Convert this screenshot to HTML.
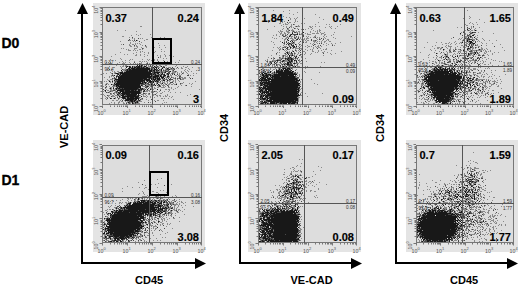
<!DOCTYPE html>
<html><head><meta charset="utf-8"><style>
*{margin:0;padding:0;box-sizing:border-box}
html,body{width:520px;height:286px;background:#fff;overflow:hidden;position:relative;font-family:"Liberation Sans",sans-serif}
div{position:absolute}
.outer{background:#e4e4e4}
.inner{background:#dddddd}
.frame{border:1px solid #777}
.vl{width:1px;background:#555}
.hl{height:1px;background:#555}
.box{border:2px solid #000}
.big{font-weight:bold;font-size:11px;line-height:11px;color:#000;-webkit-text-stroke:0.15px #000}
.sm{font-size:4.6px;line-height:5px;color:#333}
.r{text-align:right}
.lab{font-weight:bold;font-size:11px;line-height:11px;color:#000;white-space:nowrap}
.rot{transform:rotate(-90deg);transform-origin:0 0}
.day{font-weight:bold;font-size:14px;line-height:14px;-webkit-text-stroke:0.3px #000}
.vax{width:2px;background:#000}
.hax{height:2px;background:#000}
.sc{position:absolute;left:0;top:0}
.dots{filter:blur(0.4px)}
.tl{font-size:5.3px;fill:#555;font-family:"Liberation Sans",sans-serif}
</style></head>
<body>
<div class="outer" style="left:93px;top:2.5px;width:112px;height:112.5px"></div>
<div class="inner" style="left:102px;top:7.2px;width:100px;height:98.3px"></div>
<div class="outer" style="left:248px;top:2.5px;width:112.5px;height:112.5px"></div>
<div class="inner" style="left:258px;top:7.2px;width:99px;height:98.3px"></div>
<div class="outer" style="left:405.5px;top:2.5px;width:112px;height:112.5px"></div>
<div class="inner" style="left:416px;top:7.2px;width:98px;height:98.3px"></div>
<div class="outer" style="left:93px;top:140px;width:112px;height:112px"></div>
<div class="inner" style="left:102px;top:144.5px;width:100px;height:98.5px"></div>
<div class="outer" style="left:248px;top:140px;width:113px;height:112px"></div>
<div class="inner" style="left:258px;top:144.5px;width:99px;height:98.5px"></div>
<div class="outer" style="left:405.5px;top:140px;width:112px;height:112px"></div>
<div class="inner" style="left:416px;top:144.5px;width:98px;height:98.5px"></div>
<svg class="sc dots" width="520" height="286" fill="none" stroke-width="1"><path d="M103 73.5h1M103 86.5h1M103 91.5h1M103 94.5h1M104 77.5h1M104 81.5h1M104 90.5h1M104 95.5h1M105 84.5h1M105 85.5h1M105 88.5h1M105 96.5h1M105 98.5h1M106 62.5h1M106 73.5h1M106 81.5h1M106 83.5h1M106 87.5h1M106 89.5h1M106 97.5h1M106 99.5h1M107 69.5h1M107 79.5h1M107 83.5h1M107 90.5h1M107 92.5h1M107 97.5h1M108 62.5h1M108 80.5h1M108 84.5h1M108 90.5h1M108 95.5h1M108 96.5h1M109 66.5h1M109 76.5h1M109 77.5h1M109 80.5h1M109 86.5h1M109 88.5h1M109 91.5h1M109 92.5h1M109 95.5h1M109 97.5h1M109 103.5h1M110 59.5h1M110 62.5h1M110 63.5h1M110 72.5h1M110 79.5h1M110 81.5h1M110 82.5h1M110 87.5h1M110 89.5h1M110 90.5h1M110 94.5h1M111 56.5h1M111 63.5h1M111 69.5h1M111 70.5h1M111 73.5h1M111 75.5h1M111 76.5h1M111 79.5h1M111 87.5h1M111 88.5h1M111 89.5h1M111 90.5h1M111 91.5h1M111 93.5h1M111 94.5h1M111 102.5h1M112 71.5h1M112 74.5h1M112 79.5h1M112 80.5h1M112 82.5h1M112 84.5h1M112 86.5h1M112 90.5h1M112 91.5h1M112 95.5h1M112 96.5h1M112 100.5h1M113 67.5h1M113 75.5h1M113 76.5h1M113 78.5h1M113 84.5h1M113 86.5h1M113 89.5h1M113 95.5h1M113 96.5h1M113 98.5h1M113 100.5h1M114 64.5h1M114 67.5h1M114 71.5h1M114 72.5h1M114 73.5h1M114 79.5h1M114 81.5h1M114 82.5h1M114 86.5h1M114 89.5h1M114 92.5h1M114 93.5h1M114 94.5h1M114 96.5h1M114 102.5h1M114 103.5h1M115 54.5h1M115 60.5h1M115 64.5h1M115 72.5h1M115 80.5h1M115 83.5h1M115 85.5h1M115 86.5h1M115 89.5h1M115 90.5h1M115 91.5h1M115 92.5h1M115 95.5h1M115 97.5h1M115 98.5h1M116 65.5h1M116 75.5h1M116 78.5h1M116 82.5h1M116 87.5h1M116 93.5h1M116 95.5h1M116 100.5h1M117 30.5h1M117 63.5h1M117 71.5h1M117 89.5h1M117 92.5h1M117 93.5h1M117 95.5h1M117 96.5h1M117 100.5h1M118 71.5h1M118 72.5h1M118 87.5h1M118 99.5h1M118 102.5h1M118 103.5h1M119 62.5h1M119 73.5h1M119 74.5h1M119 91.5h1M119 94.5h1M119 95.5h1M119 97.5h1M119 98.5h1M119 101.5h1M119 102.5h1M120 41.5h1M120 52.5h1M120 58.5h1M120 66.5h1M120 93.5h1M120 95.5h1M120 96.5h1M120 97.5h1M120 100.5h1M121 44.5h1M121 48.5h1M121 59.5h1M121 67.5h1M121 68.5h1M121 71.5h1M121 74.5h1M121 94.5h1M121 99.5h1M121 101.5h1M122 36.5h1M122 61.5h1M122 63.5h1M122 66.5h1M122 101.5h1M123 36.5h1M123 48.5h1M123 62.5h1M123 63.5h1M123 65.5h1M123 66.5h1M123 69.5h1M123 70.5h1M123 72.5h1M123 99.5h1M123 102.5h1M123 103.5h1M124 54.5h1M124 63.5h1M124 69.5h1M124 70.5h1M124 71.5h1M124 95.5h1M124 100.5h1M124 103.5h1M125 30.5h1M125 60.5h1M125 62.5h1M125 65.5h1M125 66.5h1M125 68.5h1M125 69.5h1M125 71.5h1M125 101.5h1M126 49.5h1M126 65.5h1M126 97.5h1M126 98.5h1M126 102.5h1M127 54.5h1M127 64.5h1M127 101.5h1M127 102.5h1M128 49.5h1M128 50.5h1M128 66.5h1M128 101.5h1M128 103.5h1M129 37.5h1M129 40.5h1M129 44.5h1M129 45.5h1M129 50.5h1M129 60.5h1M129 62.5h1M130 40.5h1M130 42.5h1M130 43.5h1M130 45.5h1M130 46.5h1M130 50.5h1M130 59.5h1M130 63.5h1M130 68.5h1M130 102.5h1M130 103.5h1M131 35.5h1M131 46.5h1M131 67.5h1M131 102.5h1M132 38.5h1M132 40.5h1M132 44.5h1M132 59.5h1M132 64.5h1M133 41.5h1M133 44.5h1M133 50.5h1M133 53.5h1M133 63.5h1M133 66.5h1M133 67.5h1M133 102.5h1M134 38.5h1M134 39.5h1M134 46.5h1M134 48.5h1M134 49.5h1M134 61.5h1M134 64.5h1M134 102.5h1M134 103.5h1M135 41.5h1M135 43.5h1M135 44.5h1M135 48.5h1M135 50.5h1M135 55.5h1M135 63.5h1M135 64.5h1M135 66.5h1M135 101.5h1M136 31.5h1M136 34.5h1M136 45.5h1M136 46.5h1M136 48.5h1M136 52.5h1M136 54.5h1M136 55.5h1M136 64.5h1M136 100.5h1M136 103.5h1M137 40.5h1M137 43.5h1M137 46.5h1M137 47.5h1M137 50.5h1M137 63.5h1M137 64.5h1M137 90.5h1M137 100.5h1M137 103.5h1M138 35.5h1M138 64.5h1M138 101.5h1M138 102.5h1M138 103.5h1M139 43.5h1M139 49.5h1M139 61.5h1M139 88.5h1M139 98.5h1M139 101.5h1M139 103.5h1M140 26.5h1M140 34.5h1M140 38.5h1M140 44.5h1M140 49.5h1M140 51.5h1M140 52.5h1M140 54.5h1M140 55.5h1M140 61.5h1M140 63.5h1M140 65.5h1M140 84.5h1M140 85.5h1M140 91.5h1M140 95.5h1M140 97.5h1M140 100.5h1M140 101.5h1M141 26.5h1M141 42.5h1M141 47.5h1M141 62.5h1M141 63.5h1M141 82.5h1M141 91.5h1M141 92.5h1M141 94.5h1M141 98.5h1M141 99.5h1M141 101.5h1M142 38.5h1M142 45.5h1M142 49.5h1M142 51.5h1M142 59.5h1M142 61.5h1M142 66.5h1M142 86.5h1M142 94.5h1M142 99.5h1M143 48.5h1M143 64.5h1M143 66.5h1M143 86.5h1M143 88.5h1M143 90.5h1M143 92.5h1M143 94.5h1M143 95.5h1M143 96.5h1M144 40.5h1M144 52.5h1M144 54.5h1M144 56.5h1M144 61.5h1M144 64.5h1M144 65.5h1M144 83.5h1M144 86.5h1M144 88.5h1M144 89.5h1M144 96.5h1M144 102.5h1M145 46.5h1M145 64.5h1M145 67.5h1M145 80.5h1M145 84.5h1M145 86.5h1M145 91.5h1M145 93.5h1M145 94.5h1M145 96.5h1M146 39.5h1M146 46.5h1M146 47.5h1M146 61.5h1M146 63.5h1M146 66.5h1M146 81.5h1M146 83.5h1M146 84.5h1M146 85.5h1M146 88.5h1M146 90.5h1M146 91.5h1M146 93.5h1M146 95.5h1M146 97.5h1M146 99.5h1M147 39.5h1M147 55.5h1M147 59.5h1M147 62.5h1M147 64.5h1M147 78.5h1M147 84.5h1M147 85.5h1M147 87.5h1M147 90.5h1M147 91.5h1M147 96.5h1M148 52.5h1M148 53.5h1M148 60.5h1M148 64.5h1M148 65.5h1M148 66.5h1M148 67.5h1M148 70.5h1M148 81.5h1M148 85.5h1M148 90.5h1M148 93.5h1M148 94.5h1M148 100.5h1M149 59.5h1M149 63.5h1M149 66.5h1M149 67.5h1M149 85.5h1M149 87.5h1M149 90.5h1M149 91.5h1M149 94.5h1M150 34.5h1M150 64.5h1M150 68.5h1M150 69.5h1M150 75.5h1M150 83.5h1M150 84.5h1M150 85.5h1M150 86.5h1M150 88.5h1M150 96.5h1M150 97.5h1M150 102.5h1M151 37.5h1M151 60.5h1M151 66.5h1M151 87.5h1M151 88.5h1M151 89.5h1M151 91.5h1M151 92.5h1M152 48.5h1M152 60.5h1M152 66.5h1M152 70.5h1M152 79.5h1M152 91.5h1M152 100.5h1M153 51.5h1M153 64.5h1M153 65.5h1M153 68.5h1M153 69.5h1M153 75.5h1M153 80.5h1M153 84.5h1M153 89.5h1M153 91.5h1M153 92.5h1M153 94.5h1M153 95.5h1M154 47.5h1M154 52.5h1M154 59.5h1M154 60.5h1M154 63.5h1M154 67.5h1M154 78.5h1M154 81.5h1M154 83.5h1M154 85.5h1M154 87.5h1M154 88.5h1M154 94.5h1M154 97.5h1M154 100.5h1M155 39.5h1M155 51.5h1M155 66.5h1M155 70.5h1M155 71.5h1M155 80.5h1M155 88.5h1M155 91.5h1M156 64.5h1M156 66.5h1M156 73.5h1M156 74.5h1M156 79.5h1M156 82.5h1M156 83.5h1M156 84.5h1M156 91.5h1M156 93.5h1M156 95.5h1M157 55.5h1M157 59.5h1M157 60.5h1M157 62.5h1M157 67.5h1M157 74.5h1M157 87.5h1M157 92.5h1M157 95.5h1M157 96.5h1M157 100.5h1M158 43.5h1M158 66.5h1M158 67.5h1M158 71.5h1M158 77.5h1M158 82.5h1M158 85.5h1M158 86.5h1M158 87.5h1M158 100.5h1M159 45.5h1M159 47.5h1M159 65.5h1M159 67.5h1M159 70.5h1M159 71.5h1M159 75.5h1M159 76.5h1M159 82.5h1M159 84.5h1M159 91.5h1M159 95.5h1M160 37.5h1M160 55.5h1M160 56.5h1M160 57.5h1M160 63.5h1M160 65.5h1M160 66.5h1M160 69.5h1M160 70.5h1M160 71.5h1M160 72.5h1M160 73.5h1M160 74.5h1M160 78.5h1M160 82.5h1M160 83.5h1M160 85.5h1M160 89.5h1M160 93.5h1M160 95.5h1M160 96.5h1M161 39.5h1M161 49.5h1M161 51.5h1M161 64.5h1M161 68.5h1M161 73.5h1M161 78.5h1M161 80.5h1M161 83.5h1M161 84.5h1M161 87.5h1M161 93.5h1M161 98.5h1M162 62.5h1M162 64.5h1M162 71.5h1M162 76.5h1M162 79.5h1M162 80.5h1M162 81.5h1M162 82.5h1M162 85.5h1M162 87.5h1M162 92.5h1M162 98.5h1M162 103.5h1M163 58.5h1M163 60.5h1M163 69.5h1M163 71.5h1M163 72.5h1M163 78.5h1M163 82.5h1M163 84.5h1M163 85.5h1M163 86.5h1M163 87.5h1M163 96.5h1M163 100.5h1M164 37.5h1M164 45.5h1M164 51.5h1M164 54.5h1M164 66.5h1M164 70.5h1M164 71.5h1M164 73.5h1M164 79.5h1M164 81.5h1M164 82.5h1M164 83.5h1M164 85.5h1M164 87.5h1M164 91.5h1M164 98.5h1M164 102.5h1M165 47.5h1M165 55.5h1M165 56.5h1M165 65.5h1M165 68.5h1M165 69.5h1M165 76.5h1M165 77.5h1M165 79.5h1M165 83.5h1M165 84.5h1M165 86.5h1M165 89.5h1M165 95.5h1M165 96.5h1M166 58.5h1M166 65.5h1M166 67.5h1M166 68.5h1M166 70.5h1M166 73.5h1M166 74.5h1M166 77.5h1M166 78.5h1M166 81.5h1M166 89.5h1M166 96.5h1M166 102.5h1M167 61.5h1M167 70.5h1M167 75.5h1M167 79.5h1M167 81.5h1M167 82.5h1M167 83.5h1M167 94.5h1M167 95.5h1M168 64.5h1M168 67.5h1M168 71.5h1M168 77.5h1M168 80.5h1M168 84.5h1M168 85.5h1M168 87.5h1M168 89.5h1M168 91.5h1M168 98.5h1M169 55.5h1M169 62.5h1M169 64.5h1M169 67.5h1M169 76.5h1M169 77.5h1M169 80.5h1M169 81.5h1M169 83.5h1M169 84.5h1M169 87.5h1M169 89.5h1M169 90.5h1M169 96.5h1M170 54.5h1M170 67.5h1M170 68.5h1M170 69.5h1M170 74.5h1M170 75.5h1M170 80.5h1M170 83.5h1M170 92.5h1M171 69.5h1M171 73.5h1M171 75.5h1M171 76.5h1M171 84.5h1M171 87.5h1M171 88.5h1M171 97.5h1M172 68.5h1M172 69.5h1M172 70.5h1M172 71.5h1M172 72.5h1M172 77.5h1M172 81.5h1M172 84.5h1M172 96.5h1M173 56.5h1M173 69.5h1M173 71.5h1M173 72.5h1M173 73.5h1M173 77.5h1M173 78.5h1M173 80.5h1M173 81.5h1M173 83.5h1M173 89.5h1M173 99.5h1M174 68.5h1M174 71.5h1M174 72.5h1M174 73.5h1M174 78.5h1M174 84.5h1M175 62.5h1M175 66.5h1M175 72.5h1M175 75.5h1M175 77.5h1M175 79.5h1M175 80.5h1M175 81.5h1M175 82.5h1M175 84.5h1M175 88.5h1M175 92.5h1M176 65.5h1M176 68.5h1M176 71.5h1M176 75.5h1M176 83.5h1M177 72.5h1M177 73.5h1M177 76.5h1M177 79.5h1M177 87.5h1M178 62.5h1M178 68.5h1M178 75.5h1M178 78.5h1M178 80.5h1M178 86.5h1M179 60.5h1M179 73.5h1M179 74.5h1M179 75.5h1M179 81.5h1M180 75.5h1M180 77.5h1M180 84.5h1M180 92.5h1M181 67.5h1M181 68.5h1M181 71.5h1M181 72.5h1M181 74.5h1M181 77.5h1M181 79.5h1M181 83.5h1M181 85.5h1M182 68.5h1M182 77.5h1M182 78.5h1M182 79.5h1M182 83.5h1M183 66.5h1M183 72.5h1M183 73.5h1M183 78.5h1M183 79.5h1M183 82.5h1M184 70.5h1M184 77.5h1M184 78.5h1M185 67.5h1M185 69.5h1M185 71.5h1M185 77.5h1M185 78.5h1M185 85.5h1M186 67.5h1M186 72.5h1M187 66.5h1M187 70.5h1M187 73.5h1M187 95.5h1M188 68.5h1M188 71.5h1M188 74.5h1M189 69.5h1M189 77.5h1M189 83.5h1M190 75.5h1M190 94.5h1M191 71.5h1M191 84.5h1M191 86.5h1M192 67.5h1M192 83.5h1M193 73.5h1M193 75.5h1M195 81.5h1M196 70.5h1M196 73.5h1M199 89.5h1M259 71.5h1M259 72.5h1M259 76.5h1M259 77.5h1M259 81.5h1M259 82.5h1M259 83.5h1M259 84.5h1M259 86.5h1M259 90.5h1M259 102.5h1M260 72.5h1M260 75.5h1M260 79.5h1M260 81.5h1M260 86.5h1M260 102.5h1M261 71.5h1M261 72.5h1M261 74.5h1M261 75.5h1M261 76.5h1M261 88.5h1M261 92.5h1M261 100.5h1M262 68.5h1M262 72.5h1M262 76.5h1M262 81.5h1M262 87.5h1M262 100.5h1M263 68.5h1M263 71.5h1M263 83.5h1M263 85.5h1M263 90.5h1M263 93.5h1M263 94.5h1M263 100.5h1M264 67.5h1M264 70.5h1M264 71.5h1M264 72.5h1M264 74.5h1M264 89.5h1M264 90.5h1M264 94.5h1M264 97.5h1M264 100.5h1M264 103.5h1M265 60.5h1M265 72.5h1M265 100.5h1M266 61.5h1M266 67.5h1M266 69.5h1M266 70.5h1M266 87.5h1M266 94.5h1M266 98.5h1M266 103.5h1M267 29.5h1M267 59.5h1M267 60.5h1M267 62.5h1M267 67.5h1M267 73.5h1M267 81.5h1M267 102.5h1M268 22.5h1M268 57.5h1M268 71.5h1M268 73.5h1M268 77.5h1M268 97.5h1M268 102.5h1M269 61.5h1M269 62.5h1M269 63.5h1M269 65.5h1M269 70.5h1M269 72.5h1M269 73.5h1M269 92.5h1M269 103.5h1M270 63.5h1M270 68.5h1M270 69.5h1M270 77.5h1M271 41.5h1M271 55.5h1M271 61.5h1M271 71.5h1M271 73.5h1M271 74.5h1M271 76.5h1M271 78.5h1M272 37.5h1M272 50.5h1M272 60.5h1M272 64.5h1M272 65.5h1M272 66.5h1M272 70.5h1M272 72.5h1M272 74.5h1M272 100.5h1M273 10.5h1M273 35.5h1M273 42.5h1M273 47.5h1M273 57.5h1M273 58.5h1M273 59.5h1M273 60.5h1M273 61.5h1M273 64.5h1M273 67.5h1M273 69.5h1M273 72.5h1M273 73.5h1M274 26.5h1M274 38.5h1M274 44.5h1M274 60.5h1M274 61.5h1M274 63.5h1M274 65.5h1M274 66.5h1M274 67.5h1M274 69.5h1M275 60.5h1M275 66.5h1M275 68.5h1M275 72.5h1M275 73.5h1M276 34.5h1M276 35.5h1M276 38.5h1M276 54.5h1M276 63.5h1M276 67.5h1M277 47.5h1M277 52.5h1M277 59.5h1M277 62.5h1M277 64.5h1M277 65.5h1M277 66.5h1M277 67.5h1M277 73.5h1M277 103.5h1M278 31.5h1M278 48.5h1M278 59.5h1M278 64.5h1M278 67.5h1M278 68.5h1M278 69.5h1M278 103.5h1M279 23.5h1M279 32.5h1M279 36.5h1M279 47.5h1M279 49.5h1M279 50.5h1M279 52.5h1M279 55.5h1M279 58.5h1M279 59.5h1M279 62.5h1M279 64.5h1M279 65.5h1M279 67.5h1M280 22.5h1M280 23.5h1M280 30.5h1M280 31.5h1M280 33.5h1M280 34.5h1M280 41.5h1M280 46.5h1M280 48.5h1M280 49.5h1M280 57.5h1M280 58.5h1M280 59.5h1M280 61.5h1M280 63.5h1M280 67.5h1M280 68.5h1M280 69.5h1M281 15.5h1M281 25.5h1M281 31.5h1M281 32.5h1M281 33.5h1M281 58.5h1M281 61.5h1M281 63.5h1M281 64.5h1M282 21.5h1M282 22.5h1M282 29.5h1M282 31.5h1M282 34.5h1M282 38.5h1M282 47.5h1M282 48.5h1M282 49.5h1M282 55.5h1M282 56.5h1M282 57.5h1M282 60.5h1M282 62.5h1M282 65.5h1M282 67.5h1M282 69.5h1M283 11.5h1M283 16.5h1M283 24.5h1M283 26.5h1M283 28.5h1M283 34.5h1M283 35.5h1M283 43.5h1M283 45.5h1M283 57.5h1M283 58.5h1M283 63.5h1M283 64.5h1M283 70.5h1M283 71.5h1M284 21.5h1M284 32.5h1M284 33.5h1M284 39.5h1M284 40.5h1M284 41.5h1M284 44.5h1M284 46.5h1M284 47.5h1M284 50.5h1M284 53.5h1M284 55.5h1M284 58.5h1M284 61.5h1M284 62.5h1M284 63.5h1M284 65.5h1M284 66.5h1M285 23.5h1M285 24.5h1M285 33.5h1M285 34.5h1M285 36.5h1M285 38.5h1M285 39.5h1M285 46.5h1M285 49.5h1M285 51.5h1M285 54.5h1M285 55.5h1M285 56.5h1M285 57.5h1M285 60.5h1M285 61.5h1M285 64.5h1M285 65.5h1M285 66.5h1M285 67.5h1M286 17.5h1M286 24.5h1M286 26.5h1M286 27.5h1M286 30.5h1M286 31.5h1M286 35.5h1M286 37.5h1M286 38.5h1M286 46.5h1M286 50.5h1M286 54.5h1M286 56.5h1M286 59.5h1M286 60.5h1M286 61.5h1M286 63.5h1M286 67.5h1M286 68.5h1M287 24.5h1M287 29.5h1M287 31.5h1M287 32.5h1M287 36.5h1M287 37.5h1M287 40.5h1M287 51.5h1M287 55.5h1M287 56.5h1M287 57.5h1M287 60.5h1M287 61.5h1M288 23.5h1M288 28.5h1M288 29.5h1M288 30.5h1M288 31.5h1M288 32.5h1M288 33.5h1M288 37.5h1M288 43.5h1M288 45.5h1M288 47.5h1M288 49.5h1M288 52.5h1M288 53.5h1M288 61.5h1M288 66.5h1M288 67.5h1M289 10.5h1M289 13.5h1M289 17.5h1M289 22.5h1M289 32.5h1M289 35.5h1M289 44.5h1M289 45.5h1M289 49.5h1M289 51.5h1M289 52.5h1M289 53.5h1M289 63.5h1M289 70.5h1M290 18.5h1M290 19.5h1M290 22.5h1M290 26.5h1M290 36.5h1M290 38.5h1M290 44.5h1M290 46.5h1M290 53.5h1M290 54.5h1M290 55.5h1M290 60.5h1M290 66.5h1M290 67.5h1M290 68.5h1M291 24.5h1M291 25.5h1M291 26.5h1M291 27.5h1M291 30.5h1M291 36.5h1M291 37.5h1M291 38.5h1M291 42.5h1M291 43.5h1M291 47.5h1M291 54.5h1M291 56.5h1M291 57.5h1M291 62.5h1M291 71.5h1M292 29.5h1M292 30.5h1M292 31.5h1M292 34.5h1M292 36.5h1M292 38.5h1M292 39.5h1M292 40.5h1M292 42.5h1M292 48.5h1M292 50.5h1M292 51.5h1M292 62.5h1M292 64.5h1M292 66.5h1M292 68.5h1M292 69.5h1M293 14.5h1M293 27.5h1M293 30.5h1M293 39.5h1M293 40.5h1M293 43.5h1M293 44.5h1M293 48.5h1M293 55.5h1M293 57.5h1M293 58.5h1M293 67.5h1M293 72.5h1M294 18.5h1M294 22.5h1M294 24.5h1M294 31.5h1M294 36.5h1M294 38.5h1M294 40.5h1M294 41.5h1M294 42.5h1M294 43.5h1M294 52.5h1M294 54.5h1M294 55.5h1M294 58.5h1M294 61.5h1M294 62.5h1M294 64.5h1M294 65.5h1M294 66.5h1M294 72.5h1M295 19.5h1M295 20.5h1M295 21.5h1M295 26.5h1M295 28.5h1M295 35.5h1M295 37.5h1M295 40.5h1M295 47.5h1M295 48.5h1M295 49.5h1M295 53.5h1M295 56.5h1M295 59.5h1M295 103.5h1M296 18.5h1M296 31.5h1M296 32.5h1M296 37.5h1M296 40.5h1M296 44.5h1M296 45.5h1M296 47.5h1M296 48.5h1M296 50.5h1M296 51.5h1M296 55.5h1M296 57.5h1M296 58.5h1M296 63.5h1M296 65.5h1M296 67.5h1M296 69.5h1M296 73.5h1M296 76.5h1M296 77.5h1M296 101.5h1M296 103.5h1M297 12.5h1M297 17.5h1M297 21.5h1M297 26.5h1M297 28.5h1M297 32.5h1M297 38.5h1M297 48.5h1M297 54.5h1M297 59.5h1M297 62.5h1M297 63.5h1M297 65.5h1M297 66.5h1M297 72.5h1M297 73.5h1M297 75.5h1M297 90.5h1M297 97.5h1M298 25.5h1M298 26.5h1M298 31.5h1M298 36.5h1M298 43.5h1M298 46.5h1M298 48.5h1M298 50.5h1M298 52.5h1M298 53.5h1M298 63.5h1M298 66.5h1M298 67.5h1M298 78.5h1M298 82.5h1M298 86.5h1M298 93.5h1M298 96.5h1M298 97.5h1M298 98.5h1M298 99.5h1M298 100.5h1M298 101.5h1M299 26.5h1M299 31.5h1M299 32.5h1M299 33.5h1M299 42.5h1M299 45.5h1M299 48.5h1M299 51.5h1M299 59.5h1M299 60.5h1M299 61.5h1M299 62.5h1M299 66.5h1M299 74.5h1M299 75.5h1M299 76.5h1M299 84.5h1M299 86.5h1M299 89.5h1M299 91.5h1M299 97.5h1M300 34.5h1M300 37.5h1M300 38.5h1M300 44.5h1M300 46.5h1M300 48.5h1M300 55.5h1M300 61.5h1M300 63.5h1M300 81.5h1M300 82.5h1M300 84.5h1M300 89.5h1M300 93.5h1M300 95.5h1M301 23.5h1M301 29.5h1M301 33.5h1M301 34.5h1M301 39.5h1M301 45.5h1M301 48.5h1M301 49.5h1M301 54.5h1M301 56.5h1M301 57.5h1M301 63.5h1M301 79.5h1M301 88.5h1M301 92.5h1M301 95.5h1M302 27.5h1M302 28.5h1M302 30.5h1M302 36.5h1M302 37.5h1M302 41.5h1M302 42.5h1M302 44.5h1M302 54.5h1M302 57.5h1M302 59.5h1M302 97.5h1M303 34.5h1M303 39.5h1M303 40.5h1M303 41.5h1M303 51.5h1M304 18.5h1M304 23.5h1M304 38.5h1M304 39.5h1M304 51.5h1M304 54.5h1M304 71.5h1M305 29.5h1M305 33.5h1M305 40.5h1M305 42.5h1M305 46.5h1M305 49.5h1M305 52.5h1M305 53.5h1M305 58.5h1M305 66.5h1M305 68.5h1M305 72.5h1M305 93.5h1M306 36.5h1M306 38.5h1M306 39.5h1M306 41.5h1M306 42.5h1M306 61.5h1M307 33.5h1M307 34.5h1M307 37.5h1M307 38.5h1M307 40.5h1M307 45.5h1M307 47.5h1M307 50.5h1M307 66.5h1M307 96.5h1M308 28.5h1M308 34.5h1M308 36.5h1M308 38.5h1M308 40.5h1M308 46.5h1M309 26.5h1M309 34.5h1M309 46.5h1M310 26.5h1M310 27.5h1M310 31.5h1M310 32.5h1M310 34.5h1M310 37.5h1M310 43.5h1M310 49.5h1M310 54.5h1M311 27.5h1M311 29.5h1M311 46.5h1M311 53.5h1M311 79.5h1M312 26.5h1M312 28.5h1M312 33.5h1M312 44.5h1M312 49.5h1M312 50.5h1M312 51.5h1M313 30.5h1M313 33.5h1M313 37.5h1M313 40.5h1M313 41.5h1M313 43.5h1M313 47.5h1M313 48.5h1M313 51.5h1M314 33.5h1M314 36.5h1M314 37.5h1M314 40.5h1M314 41.5h1M314 42.5h1M314 83.5h1M315 14.5h1M315 24.5h1M315 26.5h1M315 31.5h1M315 35.5h1M315 36.5h1M315 41.5h1M315 44.5h1M315 46.5h1M315 52.5h1M316 33.5h1M316 38.5h1M316 40.5h1M316 42.5h1M316 47.5h1M317 30.5h1M317 31.5h1M317 32.5h1M317 33.5h1M317 37.5h1M317 39.5h1M317 41.5h1M317 43.5h1M317 46.5h1M317 52.5h1M317 84.5h1M318 22.5h1M318 33.5h1M318 45.5h1M318 46.5h1M318 47.5h1M318 50.5h1M318 51.5h1M319 17.5h1M319 26.5h1M319 29.5h1M319 30.5h1M319 31.5h1M319 37.5h1M319 38.5h1M319 41.5h1M319 47.5h1M319 72.5h1M320 30.5h1M320 32.5h1M320 39.5h1M320 48.5h1M320 66.5h1M321 33.5h1M321 34.5h1M321 41.5h1M321 42.5h1M321 46.5h1M321 50.5h1M321 62.5h1M322 33.5h1M322 40.5h1M322 52.5h1M322 93.5h1M323 19.5h1M323 33.5h1M323 36.5h1M323 38.5h1M323 44.5h1M323 49.5h1M323 52.5h1M323 55.5h1M324 32.5h1M324 34.5h1M324 35.5h1M324 37.5h1M324 41.5h1M324 42.5h1M324 51.5h1M324 62.5h1M325 27.5h1M325 34.5h1M325 38.5h1M325 41.5h1M325 49.5h1M326 24.5h1M326 36.5h1M326 40.5h1M326 43.5h1M326 45.5h1M326 48.5h1M326 49.5h1M327 39.5h1M327 52.5h1M328 39.5h1M328 40.5h1M328 44.5h1M329 24.5h1M329 26.5h1M329 41.5h1M330 27.5h1M330 41.5h1M330 53.5h1M331 26.5h1M331 28.5h1M331 35.5h1M331 43.5h1M331 50.5h1M331 54.5h1M332 44.5h1M333 34.5h1M333 37.5h1M334 32.5h1M334 45.5h1M335 28.5h1M335 38.5h1M335 43.5h1M335 53.5h1M337 26.5h1M340 24.5h1M340 42.5h1M341 51.5h1M351 36.5h1M417 72.5h1M417 76.5h1M417 77.5h1M417 82.5h1M417 83.5h1M417 90.5h1M417 102.5h1M418 62.5h1M418 70.5h1M418 77.5h1M418 79.5h1M418 81.5h1M418 90.5h1M418 92.5h1M419 70.5h1M419 72.5h1M419 76.5h1M419 79.5h1M419 80.5h1M419 83.5h1M419 89.5h1M419 96.5h1M419 98.5h1M420 52.5h1M420 61.5h1M420 73.5h1M420 74.5h1M420 77.5h1M420 81.5h1M420 90.5h1M420 95.5h1M421 61.5h1M421 79.5h1M421 83.5h1M421 84.5h1M421 85.5h1M421 87.5h1M421 88.5h1M421 96.5h1M421 99.5h1M421 102.5h1M422 63.5h1M422 75.5h1M422 76.5h1M422 80.5h1M422 81.5h1M422 82.5h1M422 84.5h1M422 85.5h1M422 87.5h1M422 89.5h1M422 92.5h1M422 95.5h1M422 98.5h1M423 59.5h1M423 71.5h1M423 73.5h1M423 75.5h1M423 76.5h1M423 82.5h1M423 83.5h1M423 84.5h1M423 88.5h1M423 93.5h1M423 94.5h1M423 97.5h1M423 102.5h1M423 103.5h1M424 47.5h1M424 66.5h1M424 67.5h1M424 69.5h1M424 71.5h1M424 72.5h1M424 73.5h1M424 75.5h1M424 80.5h1M424 82.5h1M424 85.5h1M424 95.5h1M424 98.5h1M424 99.5h1M424 103.5h1M425 68.5h1M425 70.5h1M425 71.5h1M425 72.5h1M425 76.5h1M425 80.5h1M425 84.5h1M425 85.5h1M425 86.5h1M425 93.5h1M425 99.5h1M426 65.5h1M426 70.5h1M426 73.5h1M426 74.5h1M426 85.5h1M426 90.5h1M426 97.5h1M426 99.5h1M426 102.5h1M427 42.5h1M427 63.5h1M427 66.5h1M427 67.5h1M427 71.5h1M427 72.5h1M427 73.5h1M427 75.5h1M427 85.5h1M427 87.5h1M427 90.5h1M427 94.5h1M427 97.5h1M427 99.5h1M427 100.5h1M428 55.5h1M428 57.5h1M428 71.5h1M428 72.5h1M428 73.5h1M428 89.5h1M428 94.5h1M428 99.5h1M428 101.5h1M428 103.5h1M429 54.5h1M429 60.5h1M429 62.5h1M429 65.5h1M429 72.5h1M429 75.5h1M429 86.5h1M429 91.5h1M429 94.5h1M429 95.5h1M429 97.5h1M429 101.5h1M430 49.5h1M430 67.5h1M430 94.5h1M430 95.5h1M430 99.5h1M430 100.5h1M431 50.5h1M431 67.5h1M431 69.5h1M431 92.5h1M431 93.5h1M431 97.5h1M432 46.5h1M432 61.5h1M432 65.5h1M432 66.5h1M432 68.5h1M432 69.5h1M432 70.5h1M432 93.5h1M432 95.5h1M432 96.5h1M432 97.5h1M432 99.5h1M432 100.5h1M433 30.5h1M433 57.5h1M433 61.5h1M433 63.5h1M433 68.5h1M433 71.5h1M433 99.5h1M433 103.5h1M434 48.5h1M434 52.5h1M434 64.5h1M434 66.5h1M434 67.5h1M434 99.5h1M434 100.5h1M434 103.5h1M435 45.5h1M435 50.5h1M435 59.5h1M435 61.5h1M435 62.5h1M435 68.5h1M435 101.5h1M435 102.5h1M436 42.5h1M436 57.5h1M436 58.5h1M436 62.5h1M436 63.5h1M436 65.5h1M437 47.5h1M437 48.5h1M437 53.5h1M437 56.5h1M437 59.5h1M437 102.5h1M438 47.5h1M438 48.5h1M438 64.5h1M438 65.5h1M438 103.5h1M439 47.5h1M439 51.5h1M439 57.5h1M439 60.5h1M439 61.5h1M439 62.5h1M439 63.5h1M439 65.5h1M439 66.5h1M440 48.5h1M440 49.5h1M440 53.5h1M440 57.5h1M440 60.5h1M441 42.5h1M441 47.5h1M441 48.5h1M441 57.5h1M441 58.5h1M441 62.5h1M441 63.5h1M441 65.5h1M441 66.5h1M441 68.5h1M441 103.5h1M442 44.5h1M442 55.5h1M442 60.5h1M442 62.5h1M442 63.5h1M442 67.5h1M443 50.5h1M443 52.5h1M443 59.5h1M443 63.5h1M443 65.5h1M443 70.5h1M444 49.5h1M444 53.5h1M444 54.5h1M444 56.5h1M444 62.5h1M444 64.5h1M444 66.5h1M444 68.5h1M445 43.5h1M445 46.5h1M445 55.5h1M445 56.5h1M445 57.5h1M445 63.5h1M445 66.5h1M446 43.5h1M446 45.5h1M446 47.5h1M446 51.5h1M446 54.5h1M446 55.5h1M446 57.5h1M446 67.5h1M447 48.5h1M447 52.5h1M447 53.5h1M447 54.5h1M447 55.5h1M447 57.5h1M447 59.5h1M447 60.5h1M447 64.5h1M447 102.5h1M448 43.5h1M448 45.5h1M448 46.5h1M448 58.5h1M448 59.5h1M448 61.5h1M448 64.5h1M448 65.5h1M448 66.5h1M448 69.5h1M448 102.5h1M448 103.5h1M449 42.5h1M449 46.5h1M449 49.5h1M449 51.5h1M449 52.5h1M449 58.5h1M449 59.5h1M449 60.5h1M449 62.5h1M449 65.5h1M449 103.5h1M450 44.5h1M450 46.5h1M450 47.5h1M450 48.5h1M450 49.5h1M450 50.5h1M450 52.5h1M450 55.5h1M450 59.5h1M450 60.5h1M450 62.5h1M450 64.5h1M450 96.5h1M451 38.5h1M451 43.5h1M451 46.5h1M451 52.5h1M451 63.5h1M451 67.5h1M451 97.5h1M451 102.5h1M452 55.5h1M452 64.5h1M452 65.5h1M452 67.5h1M452 70.5h1M452 103.5h1M453 49.5h1M453 50.5h1M453 54.5h1M453 60.5h1M453 61.5h1M453 66.5h1M453 70.5h1M453 72.5h1M453 91.5h1M453 94.5h1M453 97.5h1M453 99.5h1M453 100.5h1M453 101.5h1M454 42.5h1M454 51.5h1M454 53.5h1M454 57.5h1M454 59.5h1M454 61.5h1M454 62.5h1M454 63.5h1M454 93.5h1M454 94.5h1M454 98.5h1M454 99.5h1M455 41.5h1M455 44.5h1M455 47.5h1M455 48.5h1M455 51.5h1M455 54.5h1M455 58.5h1M455 63.5h1M455 65.5h1M455 66.5h1M455 67.5h1M455 69.5h1M455 89.5h1M455 95.5h1M455 99.5h1M455 103.5h1M456 43.5h1M456 49.5h1M456 60.5h1M456 61.5h1M456 70.5h1M456 71.5h1M456 72.5h1M456 91.5h1M456 93.5h1M456 96.5h1M456 97.5h1M456 100.5h1M456 101.5h1M457 27.5h1M457 46.5h1M457 53.5h1M457 60.5h1M457 61.5h1M457 65.5h1M457 66.5h1M457 68.5h1M457 72.5h1M457 87.5h1M457 93.5h1M457 95.5h1M457 97.5h1M457 99.5h1M457 103.5h1M458 39.5h1M458 49.5h1M458 51.5h1M458 52.5h1M458 57.5h1M458 58.5h1M458 64.5h1M458 67.5h1M458 68.5h1M458 69.5h1M458 70.5h1M458 86.5h1M458 87.5h1M458 95.5h1M458 99.5h1M458 101.5h1M459 38.5h1M459 43.5h1M459 49.5h1M459 51.5h1M459 55.5h1M459 56.5h1M459 62.5h1M459 65.5h1M459 71.5h1M459 72.5h1M459 82.5h1M459 85.5h1M459 87.5h1M459 88.5h1M459 89.5h1M459 91.5h1M459 92.5h1M459 94.5h1M459 99.5h1M459 102.5h1M459 103.5h1M460 34.5h1M460 39.5h1M460 42.5h1M460 47.5h1M460 50.5h1M460 51.5h1M460 52.5h1M460 59.5h1M460 62.5h1M460 64.5h1M460 68.5h1M460 69.5h1M460 74.5h1M460 75.5h1M460 79.5h1M460 94.5h1M460 96.5h1M460 97.5h1M460 99.5h1M460 101.5h1M461 27.5h1M461 32.5h1M461 38.5h1M461 42.5h1M461 43.5h1M461 45.5h1M461 50.5h1M461 53.5h1M461 55.5h1M461 63.5h1M461 65.5h1M461 68.5h1M461 70.5h1M461 74.5h1M461 75.5h1M461 82.5h1M461 87.5h1M461 88.5h1M461 92.5h1M462 37.5h1M462 40.5h1M462 41.5h1M462 45.5h1M462 53.5h1M462 55.5h1M462 57.5h1M462 58.5h1M462 61.5h1M462 65.5h1M462 67.5h1M462 70.5h1M462 71.5h1M462 72.5h1M462 75.5h1M462 78.5h1M462 84.5h1M462 88.5h1M462 94.5h1M462 97.5h1M462 101.5h1M463 18.5h1M463 31.5h1M463 39.5h1M463 46.5h1M463 47.5h1M463 49.5h1M463 51.5h1M463 53.5h1M463 55.5h1M463 57.5h1M463 61.5h1M463 62.5h1M463 75.5h1M463 81.5h1M463 83.5h1M463 86.5h1M463 90.5h1M463 93.5h1M463 95.5h1M463 98.5h1M463 103.5h1M464 23.5h1M464 28.5h1M464 31.5h1M464 35.5h1M464 43.5h1M464 44.5h1M464 45.5h1M464 49.5h1M464 54.5h1M464 58.5h1M464 59.5h1M464 62.5h1M464 64.5h1M464 66.5h1M464 69.5h1M464 71.5h1M464 72.5h1M464 73.5h1M464 75.5h1M464 76.5h1M464 87.5h1M464 88.5h1M464 89.5h1M464 93.5h1M464 94.5h1M464 97.5h1M464 100.5h1M464 103.5h1M465 24.5h1M465 30.5h1M465 33.5h1M465 34.5h1M465 36.5h1M465 37.5h1M465 42.5h1M465 44.5h1M465 45.5h1M465 47.5h1M465 51.5h1M465 55.5h1M465 56.5h1M465 59.5h1M465 62.5h1M465 64.5h1M465 65.5h1M465 67.5h1M465 68.5h1M465 70.5h1M465 72.5h1M465 73.5h1M465 79.5h1M465 84.5h1M465 89.5h1M465 90.5h1M465 91.5h1M465 92.5h1M465 101.5h1M466 25.5h1M466 36.5h1M466 37.5h1M466 38.5h1M466 39.5h1M466 40.5h1M466 41.5h1M466 42.5h1M466 43.5h1M466 44.5h1M466 46.5h1M466 51.5h1M466 52.5h1M466 53.5h1M466 54.5h1M466 55.5h1M466 59.5h1M466 65.5h1M466 70.5h1M466 74.5h1M466 75.5h1M466 76.5h1M466 79.5h1M466 80.5h1M466 84.5h1M466 88.5h1M466 93.5h1M466 96.5h1M467 10.5h1M467 25.5h1M467 28.5h1M467 30.5h1M467 34.5h1M467 36.5h1M467 43.5h1M467 46.5h1M467 50.5h1M467 55.5h1M467 59.5h1M467 60.5h1M467 65.5h1M467 66.5h1M467 68.5h1M467 70.5h1M467 71.5h1M467 72.5h1M467 74.5h1M467 75.5h1M467 77.5h1M467 79.5h1M467 81.5h1M467 88.5h1M467 91.5h1M467 92.5h1M467 93.5h1M467 94.5h1M468 28.5h1M468 36.5h1M468 40.5h1M468 41.5h1M468 42.5h1M468 44.5h1M468 47.5h1M468 49.5h1M468 50.5h1M468 56.5h1M468 63.5h1M468 67.5h1M468 68.5h1M468 69.5h1M468 72.5h1M468 88.5h1M468 89.5h1M468 90.5h1M468 91.5h1M468 96.5h1M468 98.5h1M468 103.5h1M469 16.5h1M469 18.5h1M469 23.5h1M469 30.5h1M469 32.5h1M469 35.5h1M469 36.5h1M469 38.5h1M469 40.5h1M469 42.5h1M469 49.5h1M469 53.5h1M469 55.5h1M469 57.5h1M469 60.5h1M469 62.5h1M469 64.5h1M469 65.5h1M469 66.5h1M469 67.5h1M469 68.5h1M469 70.5h1M469 72.5h1M469 74.5h1M469 75.5h1M469 79.5h1M469 80.5h1M469 81.5h1M469 82.5h1M469 84.5h1M469 87.5h1M469 91.5h1M469 97.5h1M470 17.5h1M470 22.5h1M470 31.5h1M470 32.5h1M470 34.5h1M470 35.5h1M470 48.5h1M470 49.5h1M470 50.5h1M470 52.5h1M470 54.5h1M470 55.5h1M470 57.5h1M470 58.5h1M470 60.5h1M470 61.5h1M470 65.5h1M470 69.5h1M470 72.5h1M470 76.5h1M470 77.5h1M470 79.5h1M470 81.5h1M470 83.5h1M470 86.5h1M470 90.5h1M470 91.5h1M470 93.5h1M470 96.5h1M470 101.5h1M471 26.5h1M471 27.5h1M471 28.5h1M471 30.5h1M471 32.5h1M471 37.5h1M471 43.5h1M471 46.5h1M471 52.5h1M471 54.5h1M471 57.5h1M471 60.5h1M471 69.5h1M471 70.5h1M471 75.5h1M471 76.5h1M471 78.5h1M471 81.5h1M471 82.5h1M471 86.5h1M471 87.5h1M471 92.5h1M471 95.5h1M471 99.5h1M472 23.5h1M472 30.5h1M472 33.5h1M472 37.5h1M472 38.5h1M472 39.5h1M472 44.5h1M472 45.5h1M472 47.5h1M472 48.5h1M472 49.5h1M472 50.5h1M472 51.5h1M472 52.5h1M472 53.5h1M472 55.5h1M472 59.5h1M472 60.5h1M472 62.5h1M472 78.5h1M472 80.5h1M472 81.5h1M472 83.5h1M472 88.5h1M472 97.5h1M472 101.5h1M473 24.5h1M473 27.5h1M473 34.5h1M473 39.5h1M473 40.5h1M473 41.5h1M473 45.5h1M473 47.5h1M473 48.5h1M473 50.5h1M473 52.5h1M473 53.5h1M473 54.5h1M473 55.5h1M473 58.5h1M473 60.5h1M473 68.5h1M473 69.5h1M473 73.5h1M473 74.5h1M473 89.5h1M473 95.5h1M474 29.5h1M474 30.5h1M474 39.5h1M474 40.5h1M474 50.5h1M474 51.5h1M474 53.5h1M474 60.5h1M474 61.5h1M474 62.5h1M474 63.5h1M474 68.5h1M474 69.5h1M474 72.5h1M474 74.5h1M474 80.5h1M474 81.5h1M474 84.5h1M474 85.5h1M474 87.5h1M474 88.5h1M474 99.5h1M475 28.5h1M475 36.5h1M475 38.5h1M475 44.5h1M475 48.5h1M475 50.5h1M475 56.5h1M475 59.5h1M475 61.5h1M475 66.5h1M475 68.5h1M475 69.5h1M475 72.5h1M475 74.5h1M475 79.5h1M475 80.5h1M475 82.5h1M475 83.5h1M475 87.5h1M475 88.5h1M475 90.5h1M475 102.5h1M476 22.5h1M476 30.5h1M476 38.5h1M476 45.5h1M476 47.5h1M476 52.5h1M476 54.5h1M476 59.5h1M476 75.5h1M476 83.5h1M476 87.5h1M476 92.5h1M476 94.5h1M476 101.5h1M477 24.5h1M477 35.5h1M477 37.5h1M477 39.5h1M477 41.5h1M477 44.5h1M477 45.5h1M477 50.5h1M477 57.5h1M477 61.5h1M477 69.5h1M477 75.5h1M477 76.5h1M477 79.5h1M477 80.5h1M477 82.5h1M477 84.5h1M477 91.5h1M477 93.5h1M477 94.5h1M477 97.5h1M478 32.5h1M478 40.5h1M478 46.5h1M478 49.5h1M478 50.5h1M478 53.5h1M478 54.5h1M478 58.5h1M478 67.5h1M478 73.5h1M478 76.5h1M478 79.5h1M478 80.5h1M478 81.5h1M478 85.5h1M478 90.5h1M478 91.5h1M478 92.5h1M478 95.5h1M478 100.5h1M479 19.5h1M479 27.5h1M479 41.5h1M479 46.5h1M479 50.5h1M479 52.5h1M479 54.5h1M479 72.5h1M479 73.5h1M479 77.5h1M479 79.5h1M479 80.5h1M479 83.5h1M479 84.5h1M479 85.5h1M479 87.5h1M479 89.5h1M479 90.5h1M479 93.5h1M479 97.5h1M480 49.5h1M480 50.5h1M480 51.5h1M480 55.5h1M480 61.5h1M480 63.5h1M480 65.5h1M480 67.5h1M480 72.5h1M480 73.5h1M480 79.5h1M480 81.5h1M480 83.5h1M480 91.5h1M480 96.5h1M480 103.5h1M481 42.5h1M481 47.5h1M481 48.5h1M481 49.5h1M481 50.5h1M481 57.5h1M481 66.5h1M481 70.5h1M481 71.5h1M481 75.5h1M481 76.5h1M481 79.5h1M481 80.5h1M481 83.5h1M481 92.5h1M481 93.5h1M481 95.5h1M482 31.5h1M482 38.5h1M482 43.5h1M482 48.5h1M482 49.5h1M482 56.5h1M482 58.5h1M482 60.5h1M482 63.5h1M482 74.5h1M482 79.5h1M482 83.5h1M482 86.5h1M482 88.5h1M482 92.5h1M482 93.5h1M483 39.5h1M483 50.5h1M483 54.5h1M483 61.5h1M483 62.5h1M483 72.5h1M483 76.5h1M483 77.5h1M483 79.5h1M483 81.5h1M483 82.5h1M483 85.5h1M483 88.5h1M483 89.5h1M483 90.5h1M483 95.5h1M484 22.5h1M484 40.5h1M484 49.5h1M484 52.5h1M484 53.5h1M484 55.5h1M484 57.5h1M484 64.5h1M484 71.5h1M484 74.5h1M484 76.5h1M484 79.5h1M484 82.5h1M484 85.5h1M484 86.5h1M485 50.5h1M485 51.5h1M485 53.5h1M485 57.5h1M485 61.5h1M485 64.5h1M485 68.5h1M485 81.5h1M485 82.5h1M485 84.5h1M485 85.5h1M485 86.5h1M485 87.5h1M485 89.5h1M485 93.5h1M485 95.5h1M485 97.5h1M486 43.5h1M486 45.5h1M486 48.5h1M486 51.5h1M486 52.5h1M486 59.5h1M486 73.5h1M486 79.5h1M486 80.5h1M486 81.5h1M486 86.5h1M486 88.5h1M486 93.5h1M487 49.5h1M487 54.5h1M487 68.5h1M487 74.5h1M487 81.5h1M487 82.5h1M487 87.5h1M487 92.5h1M487 96.5h1M487 100.5h1M488 51.5h1M488 55.5h1M488 58.5h1M488 64.5h1M488 67.5h1M488 77.5h1M488 79.5h1M488 90.5h1M488 92.5h1M489 40.5h1M489 68.5h1M489 76.5h1M489 82.5h1M489 83.5h1M489 86.5h1M489 88.5h1M490 50.5h1M490 51.5h1M490 62.5h1M490 63.5h1M490 80.5h1M490 83.5h1M490 86.5h1M490 94.5h1M491 59.5h1M491 70.5h1M491 72.5h1M491 76.5h1M491 84.5h1M491 85.5h1M491 93.5h1M492 43.5h1M492 53.5h1M492 54.5h1M492 65.5h1M492 74.5h1M492 78.5h1M492 81.5h1M492 84.5h1M492 90.5h1M492 103.5h1M493 33.5h1M493 60.5h1M493 81.5h1M493 83.5h1M493 84.5h1M493 90.5h1M493 93.5h1M494 52.5h1M494 75.5h1M494 80.5h1M494 81.5h1M494 82.5h1M495 60.5h1M495 70.5h1M495 81.5h1M496 40.5h1M496 66.5h1M496 78.5h1M496 82.5h1M496 84.5h1M497 80.5h1M497 82.5h1M497 86.5h1M497 101.5h1M498 52.5h1M498 65.5h1M498 85.5h1M498 86.5h1M498 92.5h1M499 61.5h1M499 76.5h1M500 44.5h1M500 79.5h1M500 83.5h1M501 61.5h1M501 81.5h1M501 88.5h1M502 47.5h1M504 50.5h1M505 74.5h1M103 212.5h1M103 224.5h1M103 225.5h1M103 234.5h1M103 237.5h1M103 238.5h1M103 240.5h1M104 214.5h1M104 219.5h1M104 221.5h1M104 222.5h1M104 225.5h1M104 226.5h1M104 228.5h1M104 229.5h1M104 230.5h1M104 231.5h1M104 234.5h1M104 235.5h1M104 236.5h1M104 237.5h1M105 210.5h1M105 218.5h1M105 220.5h1M105 223.5h1M105 234.5h1M105 235.5h1M105 238.5h1M105 239.5h1M106 210.5h1M106 213.5h1M106 216.5h1M106 224.5h1M106 229.5h1M106 230.5h1M106 232.5h1M106 240.5h1M106 241.5h1M107 209.5h1M107 211.5h1M107 213.5h1M107 216.5h1M107 217.5h1M107 222.5h1M107 232.5h1M107 234.5h1M107 240.5h1M108 203.5h1M108 206.5h1M108 214.5h1M108 215.5h1M108 217.5h1M108 234.5h1M108 236.5h1M108 237.5h1M108 240.5h1M109 207.5h1M109 209.5h1M109 233.5h1M109 234.5h1M109 238.5h1M110 201.5h1M110 206.5h1M110 209.5h1M110 218.5h1M111 205.5h1M111 212.5h1M111 238.5h1M111 239.5h1M111 240.5h1M112 214.5h1M112 238.5h1M112 239.5h1M112 241.5h1M113 196.5h1M113 201.5h1M113 209.5h1M113 210.5h1M113 211.5h1M113 238.5h1M114 207.5h1M114 211.5h1M115 203.5h1M115 205.5h1M115 207.5h1M115 208.5h1M115 210.5h1M116 200.5h1M116 209.5h1M117 207.5h1M117 208.5h1M117 211.5h1M118 209.5h1M118 210.5h1M118 241.5h1M119 202.5h1M119 203.5h1M120 200.5h1M120 202.5h1M121 203.5h1M121 209.5h1M122 188.5h1M122 191.5h1M122 199.5h1M122 202.5h1M122 207.5h1M122 241.5h1M123 209.5h1M123 240.5h1M123 241.5h1M124 206.5h1M125 202.5h1M125 205.5h1M125 208.5h1M125 241.5h1M126 202.5h1M126 203.5h1M126 204.5h1M126 206.5h1M126 240.5h1M127 186.5h1M127 198.5h1M127 200.5h1M127 203.5h1M128 198.5h1M128 199.5h1M128 201.5h1M128 202.5h1M128 204.5h1M129 202.5h1M129 238.5h1M129 240.5h1M130 198.5h1M130 237.5h1M130 238.5h1M130 240.5h1M131 200.5h1M131 202.5h1M131 237.5h1M132 187.5h1M132 198.5h1M132 235.5h1M132 236.5h1M132 238.5h1M134 200.5h1M134 234.5h1M134 236.5h1M135 198.5h1M135 199.5h1M135 200.5h1M135 201.5h1M135 234.5h1M135 236.5h1M135 238.5h1M135 241.5h1M136 198.5h1M136 201.5h1M136 202.5h1M136 229.5h1M136 232.5h1M136 235.5h1M136 236.5h1M136 238.5h1M136 239.5h1M137 197.5h1M137 199.5h1M137 200.5h1M137 235.5h1M137 236.5h1M137 237.5h1M138 182.5h1M138 194.5h1M138 200.5h1M138 220.5h1M138 232.5h1M138 236.5h1M138 238.5h1M138 241.5h1M139 187.5h1M139 193.5h1M139 198.5h1M139 199.5h1M139 217.5h1M139 220.5h1M139 233.5h1M139 239.5h1M140 221.5h1M140 229.5h1M140 230.5h1M140 233.5h1M140 235.5h1M140 236.5h1M140 237.5h1M140 239.5h1M140 240.5h1M141 198.5h1M141 223.5h1M141 224.5h1M141 230.5h1M141 231.5h1M141 232.5h1M141 234.5h1M141 235.5h1M141 236.5h1M142 191.5h1M142 196.5h1M142 199.5h1M142 203.5h1M142 215.5h1M142 224.5h1M142 225.5h1M142 227.5h1M142 228.5h1M142 229.5h1M142 232.5h1M142 238.5h1M143 192.5h1M143 193.5h1M143 196.5h1M143 197.5h1M143 223.5h1M143 224.5h1M143 239.5h1M144 180.5h1M144 188.5h1M144 194.5h1M144 196.5h1M144 198.5h1M144 199.5h1M144 213.5h1M144 218.5h1M144 222.5h1M144 225.5h1M144 227.5h1M144 230.5h1M144 233.5h1M144 234.5h1M144 240.5h1M144 241.5h1M145 185.5h1M145 187.5h1M145 196.5h1M145 197.5h1M145 216.5h1M145 218.5h1M145 219.5h1M145 223.5h1M145 225.5h1M145 236.5h1M145 237.5h1M146 187.5h1M146 196.5h1M146 199.5h1M146 201.5h1M146 219.5h1M146 220.5h1M146 223.5h1M146 227.5h1M146 231.5h1M146 232.5h1M146 237.5h1M146 241.5h1M147 195.5h1M147 198.5h1M147 213.5h1M147 216.5h1M147 220.5h1M147 225.5h1M147 232.5h1M147 235.5h1M148 189.5h1M148 196.5h1M148 215.5h1M148 220.5h1M148 222.5h1M148 223.5h1M148 228.5h1M148 233.5h1M148 235.5h1M149 182.5h1M149 187.5h1M149 194.5h1M149 214.5h1M149 215.5h1M149 217.5h1M149 220.5h1M149 223.5h1M149 229.5h1M149 230.5h1M149 232.5h1M149 233.5h1M150 195.5h1M150 198.5h1M150 199.5h1M150 200.5h1M150 219.5h1M150 223.5h1M150 224.5h1M150 225.5h1M150 238.5h1M151 184.5h1M151 195.5h1M151 201.5h1M151 203.5h1M151 217.5h1M151 218.5h1M151 220.5h1M151 225.5h1M151 226.5h1M151 228.5h1M151 230.5h1M152 191.5h1M152 199.5h1M152 200.5h1M152 213.5h1M152 214.5h1M152 216.5h1M152 217.5h1M152 218.5h1M152 222.5h1M152 225.5h1M152 232.5h1M152 233.5h1M153 191.5h1M153 195.5h1M153 198.5h1M153 200.5h1M153 202.5h1M153 221.5h1M153 226.5h1M153 227.5h1M153 228.5h1M153 235.5h1M153 240.5h1M154 199.5h1M154 201.5h1M154 206.5h1M154 213.5h1M154 215.5h1M154 217.5h1M154 218.5h1M154 219.5h1M154 221.5h1M154 226.5h1M154 230.5h1M155 184.5h1M155 194.5h1M155 196.5h1M155 204.5h1M155 208.5h1M155 211.5h1M155 216.5h1M155 219.5h1M155 222.5h1M155 225.5h1M155 226.5h1M155 228.5h1M155 229.5h1M156 192.5h1M156 197.5h1M156 198.5h1M156 203.5h1M156 204.5h1M156 206.5h1M156 210.5h1M156 217.5h1M156 220.5h1M156 223.5h1M156 226.5h1M156 228.5h1M156 238.5h1M157 179.5h1M157 187.5h1M157 192.5h1M157 194.5h1M157 196.5h1M157 200.5h1M157 201.5h1M157 203.5h1M157 208.5h1M157 209.5h1M157 213.5h1M157 214.5h1M157 215.5h1M157 216.5h1M157 240.5h1M158 183.5h1M158 193.5h1M158 196.5h1M158 197.5h1M158 198.5h1M158 201.5h1M158 203.5h1M158 216.5h1M158 219.5h1M158 220.5h1M159 199.5h1M159 202.5h1M159 211.5h1M159 213.5h1M159 217.5h1M160 190.5h1M160 196.5h1M160 197.5h1M160 199.5h1M160 200.5h1M160 201.5h1M160 204.5h1M160 212.5h1M160 214.5h1M160 215.5h1M160 216.5h1M160 217.5h1M160 222.5h1M160 224.5h1M160 225.5h1M160 229.5h1M160 234.5h1M160 240.5h1M161 178.5h1M161 197.5h1M161 198.5h1M161 213.5h1M161 216.5h1M161 218.5h1M161 219.5h1M161 222.5h1M161 230.5h1M162 195.5h1M162 198.5h1M162 200.5h1M162 201.5h1M162 206.5h1M162 211.5h1M162 214.5h1M162 215.5h1M162 217.5h1M162 219.5h1M162 220.5h1M162 221.5h1M162 223.5h1M162 224.5h1M162 231.5h1M162 237.5h1M163 190.5h1M163 199.5h1M163 201.5h1M163 203.5h1M163 210.5h1M163 216.5h1M163 218.5h1M163 223.5h1M164 196.5h1M164 197.5h1M164 199.5h1M164 200.5h1M164 206.5h1M164 207.5h1M164 209.5h1M164 213.5h1M164 215.5h1M164 218.5h1M164 219.5h1M164 220.5h1M165 194.5h1M165 201.5h1M165 202.5h1M165 204.5h1M165 205.5h1M165 206.5h1M165 233.5h1M165 237.5h1M166 192.5h1M166 195.5h1M166 199.5h1M166 200.5h1M166 203.5h1M166 206.5h1M166 211.5h1M166 212.5h1M166 213.5h1M166 214.5h1M166 217.5h1M166 221.5h1M166 226.5h1M167 207.5h1M167 211.5h1M167 213.5h1M167 219.5h1M167 223.5h1M167 224.5h1M167 232.5h1M168 193.5h1M168 198.5h1M168 203.5h1M168 205.5h1M168 208.5h1M168 209.5h1M168 214.5h1M168 215.5h1M169 199.5h1M169 201.5h1M169 203.5h1M169 207.5h1M169 208.5h1M169 213.5h1M169 218.5h1M169 224.5h1M170 202.5h1M170 207.5h1M170 208.5h1M170 210.5h1M170 211.5h1M170 212.5h1M170 213.5h1M170 215.5h1M170 223.5h1M171 184.5h1M171 201.5h1M171 202.5h1M171 203.5h1M171 204.5h1M171 207.5h1M171 211.5h1M171 212.5h1M171 213.5h1M171 215.5h1M171 216.5h1M172 196.5h1M172 200.5h1M172 202.5h1M172 203.5h1M172 204.5h1M172 210.5h1M172 213.5h1M172 228.5h1M173 200.5h1M173 203.5h1M173 209.5h1M173 218.5h1M174 200.5h1M174 201.5h1M174 204.5h1M174 205.5h1M174 206.5h1M174 207.5h1M174 208.5h1M174 209.5h1M174 210.5h1M174 218.5h1M175 195.5h1M175 204.5h1M175 205.5h1M175 210.5h1M175 213.5h1M175 215.5h1M176 196.5h1M176 200.5h1M176 203.5h1M176 204.5h1M176 208.5h1M176 209.5h1M176 211.5h1M177 202.5h1M177 204.5h1M177 207.5h1M177 212.5h1M178 205.5h1M178 206.5h1M178 209.5h1M178 210.5h1M178 212.5h1M179 199.5h1M179 201.5h1M179 203.5h1M179 204.5h1M179 209.5h1M179 217.5h1M179 221.5h1M180 210.5h1M181 201.5h1M181 202.5h1M181 205.5h1M182 202.5h1M182 207.5h1M182 211.5h1M183 203.5h1M184 209.5h1M184 214.5h1M185 202.5h1M185 205.5h1M193 206.5h1M259 208.5h1M259 209.5h1M259 212.5h1M259 213.5h1M259 214.5h1M259 216.5h1M259 217.5h1M259 218.5h1M259 224.5h1M259 226.5h1M259 227.5h1M259 228.5h1M259 231.5h1M260 206.5h1M260 208.5h1M260 209.5h1M260 211.5h1M260 212.5h1M260 214.5h1M260 215.5h1M260 217.5h1M260 221.5h1M260 232.5h1M260 238.5h1M260 240.5h1M261 212.5h1M261 217.5h1M261 221.5h1M261 223.5h1M261 226.5h1M261 228.5h1M261 231.5h1M261 238.5h1M261 239.5h1M262 211.5h1M262 218.5h1M262 229.5h1M262 236.5h1M262 239.5h1M263 205.5h1M263 211.5h1M263 220.5h1M263 227.5h1M264 212.5h1M264 239.5h1M265 207.5h1M265 209.5h1M265 211.5h1M265 217.5h1M265 221.5h1M265 227.5h1M266 211.5h1M266 218.5h1M266 225.5h1M266 233.5h1M266 235.5h1M266 237.5h1M266 241.5h1M267 206.5h1M267 208.5h1M267 209.5h1M267 222.5h1M267 234.5h1M267 240.5h1M268 202.5h1M268 209.5h1M268 211.5h1M268 215.5h1M268 216.5h1M268 230.5h1M268 235.5h1M269 205.5h1M269 211.5h1M269 212.5h1M269 214.5h1M269 241.5h1M270 190.5h1M270 207.5h1M270 209.5h1M270 210.5h1M270 218.5h1M270 229.5h1M270 237.5h1M271 192.5h1M271 197.5h1M271 201.5h1M271 202.5h1M271 203.5h1M271 204.5h1M271 208.5h1M271 209.5h1M271 234.5h1M272 195.5h1M272 202.5h1M272 203.5h1M272 206.5h1M272 212.5h1M272 223.5h1M272 233.5h1M273 191.5h1M273 192.5h1M273 196.5h1M273 203.5h1M273 209.5h1M273 230.5h1M273 238.5h1M274 203.5h1M274 205.5h1M274 208.5h1M274 211.5h1M275 185.5h1M275 198.5h1M275 201.5h1M275 203.5h1M275 205.5h1M275 207.5h1M276 189.5h1M276 202.5h1M276 204.5h1M276 205.5h1M277 189.5h1M277 190.5h1M277 196.5h1M277 197.5h1M277 205.5h1M278 192.5h1M278 193.5h1M278 195.5h1M278 198.5h1M278 201.5h1M278 205.5h1M278 206.5h1M278 207.5h1M279 185.5h1M279 189.5h1M279 191.5h1M279 192.5h1M279 193.5h1M279 194.5h1M279 197.5h1M279 198.5h1M279 205.5h1M279 207.5h1M279 208.5h1M280 187.5h1M280 190.5h1M280 198.5h1M280 205.5h1M280 207.5h1M281 186.5h1M281 192.5h1M281 195.5h1M281 196.5h1M281 197.5h1M281 198.5h1M281 199.5h1M281 206.5h1M282 179.5h1M282 187.5h1M282 188.5h1M282 189.5h1M282 193.5h1M282 196.5h1M282 197.5h1M282 206.5h1M282 209.5h1M282 210.5h1M283 174.5h1M283 183.5h1M283 186.5h1M283 187.5h1M283 189.5h1M283 191.5h1M283 192.5h1M283 194.5h1M283 197.5h1M283 199.5h1M283 200.5h1M283 201.5h1M283 202.5h1M283 204.5h1M283 206.5h1M283 209.5h1M284 169.5h1M284 172.5h1M284 174.5h1M284 177.5h1M284 182.5h1M284 188.5h1M284 190.5h1M284 192.5h1M284 193.5h1M284 196.5h1M284 197.5h1M284 198.5h1M284 199.5h1M284 203.5h1M284 204.5h1M284 207.5h1M284 209.5h1M285 188.5h1M285 189.5h1M285 190.5h1M285 191.5h1M285 192.5h1M285 194.5h1M285 197.5h1M285 198.5h1M285 201.5h1M285 202.5h1M285 205.5h1M285 206.5h1M285 208.5h1M286 177.5h1M286 179.5h1M286 180.5h1M286 182.5h1M286 184.5h1M286 188.5h1M286 189.5h1M286 196.5h1M286 197.5h1M286 201.5h1M286 202.5h1M286 209.5h1M287 176.5h1M287 178.5h1M287 186.5h1M287 187.5h1M287 189.5h1M287 192.5h1M287 195.5h1M287 200.5h1M287 201.5h1M287 207.5h1M287 208.5h1M287 209.5h1M288 180.5h1M288 181.5h1M288 185.5h1M288 187.5h1M288 190.5h1M288 191.5h1M288 192.5h1M288 194.5h1M288 195.5h1M288 197.5h1M288 198.5h1M288 200.5h1M288 202.5h1M288 203.5h1M288 204.5h1M288 205.5h1M288 208.5h1M288 210.5h1M289 175.5h1M289 178.5h1M289 180.5h1M289 183.5h1M289 184.5h1M289 185.5h1M289 189.5h1M289 190.5h1M289 193.5h1M289 194.5h1M289 196.5h1M289 198.5h1M289 199.5h1M289 200.5h1M289 201.5h1M289 202.5h1M289 203.5h1M289 204.5h1M289 205.5h1M290 168.5h1M290 173.5h1M290 174.5h1M290 177.5h1M290 188.5h1M290 189.5h1M290 193.5h1M290 194.5h1M290 198.5h1M290 201.5h1M290 207.5h1M290 208.5h1M291 171.5h1M291 172.5h1M291 173.5h1M291 176.5h1M291 177.5h1M291 184.5h1M291 186.5h1M291 187.5h1M291 188.5h1M291 192.5h1M291 199.5h1M291 201.5h1M291 203.5h1M291 206.5h1M292 167.5h1M292 175.5h1M292 176.5h1M292 178.5h1M292 183.5h1M292 184.5h1M292 185.5h1M292 187.5h1M292 189.5h1M292 193.5h1M292 194.5h1M292 200.5h1M292 205.5h1M292 241.5h1M293 167.5h1M293 169.5h1M293 171.5h1M293 175.5h1M293 177.5h1M293 178.5h1M293 181.5h1M293 189.5h1M293 190.5h1M293 191.5h1M293 193.5h1M293 197.5h1M293 199.5h1M293 200.5h1M293 205.5h1M293 206.5h1M293 207.5h1M293 209.5h1M293 210.5h1M293 213.5h1M294 168.5h1M294 170.5h1M294 176.5h1M294 179.5h1M294 180.5h1M294 181.5h1M294 184.5h1M294 193.5h1M294 195.5h1M294 198.5h1M294 203.5h1M294 206.5h1M294 207.5h1M294 208.5h1M294 209.5h1M295 171.5h1M295 174.5h1M295 178.5h1M295 183.5h1M295 184.5h1M295 188.5h1M295 195.5h1M295 198.5h1M295 201.5h1M295 202.5h1M295 208.5h1M296 166.5h1M296 171.5h1M296 178.5h1M296 179.5h1M296 183.5h1M296 190.5h1M296 191.5h1M296 194.5h1M296 196.5h1M296 198.5h1M296 203.5h1M296 204.5h1M296 209.5h1M296 213.5h1M297 165.5h1M297 171.5h1M297 174.5h1M297 177.5h1M297 180.5h1M297 182.5h1M297 183.5h1M297 185.5h1M297 189.5h1M297 195.5h1M297 197.5h1M297 198.5h1M297 200.5h1M297 202.5h1M297 205.5h1M297 210.5h1M297 213.5h1M297 222.5h1M297 233.5h1M297 237.5h1M298 170.5h1M298 175.5h1M298 181.5h1M298 183.5h1M298 186.5h1M298 187.5h1M298 191.5h1M298 192.5h1M298 193.5h1M298 197.5h1M298 202.5h1M298 207.5h1M298 208.5h1M298 210.5h1M298 212.5h1M298 213.5h1M298 215.5h1M298 219.5h1M298 232.5h1M298 234.5h1M298 237.5h1M298 240.5h1M298 241.5h1M299 159.5h1M299 175.5h1M299 177.5h1M299 178.5h1M299 182.5h1M299 187.5h1M299 189.5h1M299 192.5h1M299 196.5h1M299 198.5h1M299 200.5h1M299 207.5h1M299 210.5h1M299 212.5h1M299 213.5h1M299 218.5h1M299 221.5h1M299 223.5h1M299 225.5h1M299 226.5h1M299 227.5h1M299 228.5h1M299 231.5h1M299 234.5h1M299 236.5h1M299 239.5h1M300 166.5h1M300 170.5h1M300 171.5h1M300 174.5h1M300 178.5h1M300 179.5h1M300 181.5h1M300 185.5h1M300 188.5h1M300 191.5h1M300 196.5h1M300 198.5h1M300 199.5h1M300 206.5h1M300 214.5h1M300 217.5h1M300 221.5h1M300 223.5h1M300 228.5h1M300 229.5h1M300 230.5h1M300 231.5h1M300 232.5h1M300 234.5h1M300 235.5h1M300 240.5h1M301 163.5h1M301 172.5h1M301 175.5h1M301 179.5h1M301 181.5h1M301 188.5h1M301 191.5h1M301 193.5h1M301 195.5h1M301 198.5h1M301 216.5h1M301 219.5h1M301 229.5h1M301 233.5h1M301 238.5h1M302 159.5h1M302 177.5h1M302 182.5h1M302 189.5h1M302 190.5h1M302 199.5h1M302 206.5h1M303 184.5h1M303 186.5h1M303 189.5h1M303 195.5h1M303 198.5h1M303 200.5h1M303 227.5h1M304 172.5h1M304 173.5h1M304 187.5h1M304 202.5h1M305 181.5h1M305 186.5h1M305 187.5h1M305 198.5h1M306 178.5h1M306 180.5h1M306 181.5h1M306 183.5h1M306 184.5h1M306 187.5h1M306 190.5h1M306 191.5h1M308 177.5h1M308 182.5h1M308 185.5h1M308 202.5h1M309 177.5h1M309 181.5h1M310 181.5h1M310 183.5h1M310 190.5h1M310 191.5h1M311 182.5h1M311 190.5h1M312 176.5h1M312 185.5h1M313 171.5h1M313 182.5h1M314 180.5h1M314 186.5h1M314 191.5h1M314 196.5h1M315 174.5h1M315 191.5h1M315 197.5h1M316 184.5h1M316 195.5h1M317 197.5h1M318 166.5h1M318 188.5h1M318 189.5h1M319 182.5h1M320 170.5h1M321 167.5h1M326 184.5h1M417 195.5h1M417 205.5h1M417 208.5h1M417 210.5h1M417 213.5h1M417 214.5h1M417 217.5h1M417 221.5h1M417 223.5h1M417 225.5h1M417 233.5h1M417 235.5h1M418 187.5h1M418 188.5h1M418 202.5h1M418 213.5h1M418 214.5h1M418 227.5h1M418 229.5h1M418 232.5h1M418 234.5h1M418 236.5h1M418 239.5h1M419 174.5h1M419 182.5h1M419 184.5h1M419 185.5h1M419 201.5h1M419 203.5h1M419 209.5h1M419 212.5h1M419 214.5h1M419 215.5h1M419 232.5h1M419 235.5h1M419 236.5h1M419 237.5h1M419 240.5h1M419 241.5h1M420 207.5h1M420 216.5h1M420 227.5h1M420 238.5h1M421 211.5h1M421 212.5h1M421 213.5h1M421 215.5h1M421 216.5h1M421 220.5h1M421 237.5h1M421 240.5h1M422 203.5h1M422 205.5h1M422 207.5h1M422 208.5h1M422 212.5h1M422 230.5h1M423 190.5h1M423 194.5h1M423 200.5h1M423 201.5h1M423 206.5h1M423 209.5h1M423 210.5h1M423 211.5h1M423 212.5h1M423 213.5h1M423 238.5h1M423 241.5h1M424 208.5h1M424 209.5h1M424 240.5h1M425 198.5h1M425 199.5h1M425 212.5h1M425 239.5h1M426 183.5h1M426 201.5h1M426 204.5h1M426 206.5h1M426 207.5h1M426 209.5h1M426 210.5h1M426 212.5h1M426 214.5h1M427 186.5h1M427 189.5h1M427 198.5h1M427 199.5h1M427 203.5h1M427 207.5h1M427 210.5h1M427 211.5h1M428 196.5h1M428 201.5h1M428 204.5h1M428 211.5h1M429 189.5h1M429 196.5h1M429 202.5h1M429 204.5h1M429 207.5h1M430 187.5h1M430 191.5h1M430 196.5h1M430 198.5h1M430 199.5h1M430 203.5h1M431 193.5h1M431 194.5h1M431 196.5h1M431 197.5h1M431 200.5h1M431 203.5h1M431 205.5h1M431 210.5h1M431 240.5h1M432 180.5h1M432 202.5h1M432 205.5h1M432 207.5h1M432 208.5h1M433 191.5h1M433 192.5h1M433 194.5h1M433 201.5h1M433 208.5h1M433 209.5h1M434 193.5h1M434 195.5h1M434 196.5h1M434 203.5h1M434 204.5h1M434 207.5h1M434 211.5h1M434 212.5h1M435 182.5h1M435 193.5h1M435 194.5h1M435 195.5h1M435 205.5h1M436 182.5h1M436 190.5h1M436 194.5h1M436 196.5h1M436 197.5h1M436 198.5h1M436 199.5h1M436 201.5h1M436 208.5h1M436 209.5h1M436 210.5h1M436 211.5h1M437 187.5h1M437 194.5h1M437 199.5h1M437 200.5h1M437 205.5h1M438 189.5h1M438 192.5h1M438 193.5h1M438 196.5h1M438 202.5h1M438 206.5h1M439 184.5h1M439 191.5h1M439 193.5h1M439 198.5h1M439 201.5h1M439 205.5h1M440 180.5h1M440 188.5h1M440 189.5h1M440 190.5h1M440 194.5h1M440 202.5h1M440 203.5h1M440 206.5h1M441 192.5h1M441 195.5h1M441 196.5h1M441 205.5h1M441 207.5h1M441 208.5h1M442 190.5h1M442 196.5h1M442 201.5h1M442 206.5h1M442 209.5h1M443 186.5h1M443 190.5h1M443 194.5h1M443 202.5h1M443 204.5h1M443 209.5h1M443 211.5h1M443 240.5h1M444 183.5h1M444 184.5h1M444 188.5h1M444 189.5h1M444 193.5h1M444 194.5h1M444 195.5h1M444 196.5h1M444 198.5h1M444 199.5h1M444 201.5h1M444 202.5h1M444 206.5h1M444 207.5h1M444 208.5h1M445 184.5h1M445 186.5h1M445 191.5h1M445 195.5h1M445 200.5h1M445 202.5h1M445 207.5h1M445 208.5h1M445 209.5h1M445 210.5h1M446 190.5h1M446 191.5h1M446 194.5h1M446 196.5h1M446 200.5h1M446 202.5h1M446 203.5h1M446 207.5h1M446 208.5h1M446 241.5h1M447 184.5h1M447 190.5h1M447 194.5h1M447 198.5h1M447 202.5h1M447 203.5h1M447 210.5h1M447 212.5h1M447 235.5h1M447 241.5h1M448 188.5h1M448 193.5h1M448 194.5h1M448 195.5h1M448 197.5h1M448 204.5h1M448 211.5h1M448 212.5h1M448 240.5h1M448 241.5h1M449 183.5h1M449 187.5h1M449 194.5h1M449 196.5h1M449 197.5h1M449 198.5h1M449 199.5h1M449 200.5h1M449 202.5h1M449 203.5h1M449 204.5h1M449 208.5h1M450 180.5h1M450 189.5h1M450 190.5h1M450 195.5h1M450 199.5h1M450 200.5h1M450 201.5h1M450 206.5h1M451 184.5h1M451 187.5h1M451 188.5h1M451 190.5h1M451 191.5h1M451 194.5h1M451 196.5h1M451 198.5h1M451 200.5h1M451 201.5h1M451 202.5h1M451 204.5h1M451 205.5h1M451 207.5h1M451 210.5h1M451 212.5h1M452 181.5h1M452 187.5h1M452 192.5h1M452 193.5h1M452 196.5h1M452 197.5h1M452 198.5h1M452 199.5h1M452 201.5h1M452 202.5h1M452 208.5h1M452 209.5h1M452 237.5h1M453 184.5h1M453 187.5h1M453 188.5h1M453 189.5h1M453 191.5h1M453 193.5h1M453 194.5h1M453 197.5h1M453 200.5h1M453 205.5h1M453 207.5h1M453 209.5h1M453 212.5h1M453 213.5h1M453 238.5h1M453 241.5h1M454 175.5h1M454 180.5h1M454 184.5h1M454 190.5h1M454 191.5h1M454 192.5h1M454 193.5h1M454 196.5h1M454 198.5h1M454 203.5h1M454 204.5h1M454 205.5h1M454 206.5h1M454 210.5h1M454 213.5h1M454 222.5h1M454 234.5h1M454 240.5h1M455 181.5h1M455 182.5h1M455 201.5h1M455 202.5h1M455 204.5h1M455 205.5h1M455 206.5h1M455 207.5h1M455 208.5h1M455 211.5h1M455 212.5h1M455 214.5h1M455 235.5h1M455 236.5h1M455 239.5h1M455 240.5h1M456 165.5h1M456 182.5h1M456 184.5h1M456 186.5h1M456 191.5h1M456 192.5h1M456 193.5h1M456 194.5h1M456 198.5h1M456 207.5h1M456 210.5h1M456 215.5h1M456 222.5h1M456 224.5h1M456 230.5h1M456 232.5h1M456 233.5h1M456 236.5h1M456 238.5h1M456 240.5h1M457 176.5h1M457 177.5h1M457 190.5h1M457 193.5h1M457 210.5h1M457 211.5h1M457 217.5h1M457 219.5h1M457 228.5h1M457 229.5h1M457 231.5h1M457 238.5h1M458 174.5h1M458 175.5h1M458 180.5h1M458 184.5h1M458 186.5h1M458 188.5h1M458 190.5h1M458 198.5h1M458 205.5h1M458 207.5h1M458 208.5h1M458 210.5h1M458 212.5h1M458 213.5h1M458 215.5h1M458 217.5h1M458 223.5h1M458 226.5h1M458 232.5h1M459 182.5h1M459 185.5h1M459 191.5h1M459 192.5h1M459 194.5h1M459 209.5h1M459 211.5h1M459 218.5h1M459 221.5h1M459 222.5h1M459 226.5h1M459 229.5h1M459 231.5h1M459 232.5h1M460 174.5h1M460 179.5h1M460 182.5h1M460 189.5h1M460 191.5h1M460 195.5h1M460 197.5h1M460 206.5h1M460 210.5h1M460 211.5h1M460 213.5h1M460 217.5h1M460 220.5h1M460 224.5h1M460 227.5h1M460 229.5h1M460 230.5h1M460 232.5h1M460 236.5h1M460 237.5h1M461 167.5h1M461 175.5h1M461 177.5h1M461 181.5h1M461 182.5h1M461 183.5h1M461 184.5h1M461 186.5h1M461 189.5h1M461 190.5h1M461 191.5h1M461 192.5h1M461 196.5h1M461 200.5h1M461 203.5h1M461 205.5h1M461 208.5h1M461 209.5h1M461 210.5h1M461 213.5h1M461 215.5h1M461 227.5h1M461 235.5h1M461 236.5h1M461 240.5h1M462 172.5h1M462 176.5h1M462 177.5h1M462 179.5h1M462 183.5h1M462 187.5h1M462 188.5h1M462 189.5h1M462 190.5h1M462 193.5h1M462 194.5h1M462 198.5h1M462 199.5h1M462 201.5h1M462 203.5h1M462 208.5h1M462 210.5h1M462 217.5h1M462 219.5h1M462 220.5h1M462 225.5h1M462 228.5h1M462 229.5h1M462 241.5h1M463 169.5h1M463 177.5h1M463 179.5h1M463 186.5h1M463 188.5h1M463 189.5h1M463 190.5h1M463 192.5h1M463 193.5h1M463 198.5h1M463 200.5h1M463 201.5h1M463 202.5h1M463 207.5h1M463 208.5h1M463 209.5h1M463 218.5h1M463 220.5h1M463 226.5h1M463 229.5h1M463 233.5h1M463 240.5h1M464 168.5h1M464 173.5h1M464 174.5h1M464 175.5h1M464 176.5h1M464 181.5h1M464 183.5h1M464 185.5h1M464 190.5h1M464 194.5h1M464 195.5h1M464 200.5h1M464 201.5h1M464 203.5h1M464 208.5h1M464 209.5h1M464 210.5h1M464 211.5h1M464 214.5h1M464 215.5h1M464 224.5h1M464 231.5h1M464 232.5h1M464 234.5h1M464 236.5h1M465 176.5h1M465 178.5h1M465 179.5h1M465 180.5h1M465 181.5h1M465 187.5h1M465 190.5h1M465 194.5h1M465 197.5h1M465 198.5h1M465 199.5h1M465 200.5h1M465 202.5h1M465 204.5h1M465 209.5h1M465 210.5h1M465 211.5h1M465 214.5h1M465 215.5h1M465 217.5h1M465 220.5h1M465 221.5h1M465 222.5h1M465 223.5h1M465 226.5h1M465 229.5h1M465 230.5h1M465 234.5h1M465 235.5h1M465 236.5h1M466 165.5h1M466 180.5h1M466 189.5h1M466 191.5h1M466 192.5h1M466 198.5h1M466 200.5h1M466 201.5h1M466 202.5h1M466 203.5h1M466 204.5h1M466 207.5h1M466 208.5h1M466 217.5h1M466 218.5h1M466 221.5h1M466 223.5h1M466 224.5h1M466 225.5h1M466 226.5h1M466 227.5h1M466 229.5h1M466 230.5h1M466 232.5h1M466 233.5h1M466 236.5h1M466 238.5h1M466 239.5h1M467 168.5h1M467 171.5h1M467 173.5h1M467 176.5h1M467 182.5h1M467 183.5h1M467 187.5h1M467 188.5h1M467 191.5h1M467 195.5h1M467 199.5h1M467 200.5h1M467 202.5h1M467 204.5h1M467 209.5h1M467 211.5h1M467 212.5h1M467 214.5h1M467 221.5h1M467 222.5h1M467 223.5h1M467 227.5h1M467 228.5h1M467 235.5h1M467 236.5h1M467 237.5h1M468 161.5h1M468 167.5h1M468 170.5h1M468 174.5h1M468 176.5h1M468 177.5h1M468 178.5h1M468 184.5h1M468 187.5h1M468 189.5h1M468 192.5h1M468 194.5h1M468 196.5h1M468 197.5h1M468 198.5h1M468 203.5h1M468 205.5h1M468 210.5h1M468 212.5h1M468 213.5h1M468 215.5h1M468 216.5h1M468 217.5h1M468 223.5h1M468 224.5h1M468 225.5h1M468 226.5h1M468 230.5h1M468 231.5h1M468 232.5h1M468 238.5h1M469 165.5h1M469 180.5h1M469 184.5h1M469 185.5h1M469 191.5h1M469 192.5h1M469 195.5h1M469 197.5h1M469 198.5h1M469 199.5h1M469 200.5h1M469 204.5h1M469 207.5h1M469 208.5h1M469 211.5h1M469 218.5h1M469 225.5h1M469 227.5h1M470 160.5h1M470 163.5h1M470 167.5h1M470 168.5h1M470 169.5h1M470 170.5h1M470 171.5h1M470 180.5h1M470 185.5h1M470 187.5h1M470 189.5h1M470 191.5h1M470 194.5h1M470 195.5h1M470 198.5h1M470 199.5h1M470 200.5h1M470 201.5h1M470 202.5h1M470 218.5h1M470 220.5h1M470 221.5h1M470 224.5h1M470 226.5h1M470 231.5h1M470 234.5h1M470 235.5h1M471 168.5h1M471 172.5h1M471 176.5h1M471 177.5h1M471 183.5h1M471 184.5h1M471 188.5h1M471 193.5h1M471 195.5h1M471 196.5h1M471 198.5h1M471 200.5h1M471 201.5h1M471 204.5h1M471 206.5h1M471 207.5h1M471 208.5h1M471 209.5h1M471 212.5h1M471 219.5h1M471 220.5h1M471 222.5h1M471 223.5h1M471 229.5h1M471 231.5h1M471 234.5h1M471 237.5h1M472 177.5h1M472 178.5h1M472 193.5h1M472 194.5h1M472 195.5h1M472 196.5h1M472 197.5h1M472 200.5h1M472 202.5h1M472 205.5h1M472 207.5h1M472 209.5h1M472 213.5h1M472 218.5h1M472 222.5h1M472 224.5h1M472 227.5h1M472 234.5h1M472 239.5h1M473 152.5h1M473 161.5h1M473 169.5h1M473 171.5h1M473 174.5h1M473 176.5h1M473 179.5h1M473 182.5h1M473 183.5h1M473 184.5h1M473 185.5h1M473 188.5h1M473 189.5h1M473 191.5h1M473 192.5h1M473 195.5h1M473 196.5h1M473 198.5h1M473 201.5h1M473 202.5h1M473 206.5h1M473 207.5h1M473 209.5h1M473 212.5h1M473 213.5h1M473 214.5h1M473 222.5h1M473 229.5h1M473 231.5h1M473 234.5h1M473 237.5h1M474 167.5h1M474 168.5h1M474 169.5h1M474 175.5h1M474 181.5h1M474 183.5h1M474 187.5h1M474 188.5h1M474 190.5h1M474 193.5h1M474 201.5h1M474 204.5h1M474 211.5h1M474 219.5h1M474 220.5h1M474 226.5h1M474 230.5h1M474 233.5h1M474 234.5h1M474 240.5h1M474 241.5h1M475 162.5h1M475 167.5h1M475 168.5h1M475 170.5h1M475 175.5h1M475 178.5h1M475 179.5h1M475 180.5h1M475 181.5h1M475 183.5h1M475 187.5h1M475 188.5h1M475 193.5h1M475 198.5h1M475 199.5h1M475 207.5h1M475 209.5h1M475 210.5h1M475 211.5h1M475 213.5h1M475 214.5h1M475 215.5h1M475 223.5h1M475 224.5h1M475 229.5h1M475 230.5h1M475 233.5h1M476 162.5h1M476 168.5h1M476 176.5h1M476 177.5h1M476 180.5h1M476 182.5h1M476 193.5h1M476 197.5h1M476 198.5h1M476 199.5h1M476 201.5h1M476 204.5h1M476 206.5h1M476 207.5h1M476 208.5h1M476 216.5h1M476 217.5h1M476 218.5h1M476 220.5h1M476 226.5h1M476 234.5h1M477 163.5h1M477 168.5h1M477 172.5h1M477 174.5h1M477 175.5h1M477 177.5h1M477 179.5h1M477 181.5h1M477 189.5h1M477 191.5h1M477 192.5h1M477 197.5h1M477 206.5h1M477 211.5h1M477 213.5h1M477 219.5h1M477 220.5h1M477 221.5h1M477 223.5h1M477 227.5h1M477 228.5h1M477 236.5h1M477 237.5h1M478 168.5h1M478 172.5h1M478 173.5h1M478 178.5h1M478 184.5h1M478 191.5h1M478 193.5h1M478 194.5h1M478 196.5h1M478 199.5h1M478 202.5h1M478 204.5h1M478 207.5h1M478 209.5h1M478 215.5h1M478 216.5h1M478 217.5h1M478 218.5h1M478 222.5h1M478 224.5h1M478 226.5h1M478 231.5h1M478 233.5h1M479 171.5h1M479 184.5h1M479 188.5h1M479 189.5h1M479 190.5h1M479 194.5h1M479 203.5h1M479 206.5h1M479 207.5h1M479 209.5h1M479 211.5h1M479 215.5h1M479 218.5h1M479 220.5h1M479 221.5h1M479 222.5h1M479 224.5h1M479 226.5h1M479 230.5h1M479 232.5h1M479 239.5h1M479 241.5h1M480 174.5h1M480 175.5h1M480 185.5h1M480 187.5h1M480 191.5h1M480 194.5h1M480 195.5h1M480 196.5h1M480 198.5h1M480 200.5h1M480 203.5h1M480 210.5h1M480 215.5h1M480 219.5h1M480 220.5h1M480 221.5h1M480 224.5h1M480 225.5h1M480 227.5h1M480 229.5h1M480 231.5h1M480 232.5h1M480 233.5h1M480 236.5h1M481 173.5h1M481 174.5h1M481 177.5h1M481 187.5h1M481 188.5h1M481 191.5h1M481 196.5h1M481 197.5h1M481 199.5h1M481 211.5h1M481 212.5h1M481 215.5h1M481 218.5h1M481 221.5h1M481 223.5h1M481 226.5h1M481 238.5h1M482 170.5h1M482 176.5h1M482 177.5h1M482 189.5h1M482 202.5h1M482 206.5h1M482 211.5h1M482 212.5h1M482 218.5h1M482 221.5h1M482 222.5h1M482 226.5h1M482 227.5h1M482 231.5h1M482 234.5h1M482 241.5h1M483 170.5h1M483 172.5h1M483 180.5h1M483 182.5h1M483 186.5h1M483 189.5h1M483 194.5h1M483 200.5h1M483 203.5h1M483 208.5h1M483 209.5h1M483 211.5h1M483 213.5h1M483 214.5h1M483 215.5h1M483 227.5h1M483 228.5h1M483 234.5h1M484 172.5h1M484 190.5h1M484 195.5h1M484 197.5h1M484 198.5h1M484 202.5h1M484 206.5h1M484 209.5h1M484 211.5h1M484 214.5h1M484 218.5h1M484 222.5h1M484 224.5h1M484 230.5h1M484 235.5h1M484 238.5h1M485 170.5h1M485 179.5h1M485 188.5h1M485 190.5h1M485 205.5h1M485 212.5h1M485 219.5h1M485 223.5h1M485 229.5h1M485 230.5h1M485 234.5h1M485 239.5h1M486 209.5h1M486 221.5h1M486 223.5h1M486 224.5h1M486 225.5h1M486 228.5h1M486 232.5h1M486 239.5h1M486 240.5h1M487 171.5h1M487 192.5h1M487 199.5h1M487 204.5h1M487 212.5h1M487 224.5h1M487 226.5h1M487 234.5h1M488 205.5h1M488 210.5h1M488 211.5h1M488 212.5h1M488 213.5h1M488 217.5h1M488 219.5h1M488 224.5h1M488 233.5h1M489 192.5h1M489 196.5h1M489 208.5h1M489 210.5h1M489 216.5h1M489 219.5h1M489 228.5h1M489 229.5h1M489 230.5h1M489 231.5h1M490 170.5h1M490 207.5h1M490 215.5h1M490 216.5h1M490 217.5h1M490 219.5h1M490 221.5h1M490 223.5h1M490 226.5h1M490 229.5h1M490 232.5h1M491 191.5h1M491 206.5h1M491 208.5h1M491 218.5h1M491 220.5h1M491 223.5h1M492 200.5h1M492 214.5h1M492 215.5h1M492 216.5h1M492 220.5h1M492 227.5h1M493 197.5h1M493 209.5h1M493 216.5h1M493 217.5h1M493 219.5h1M493 220.5h1M493 221.5h1M493 226.5h1M493 227.5h1M493 228.5h1M493 229.5h1M494 197.5h1M494 203.5h1M494 205.5h1M494 208.5h1M494 215.5h1M494 216.5h1M494 222.5h1M494 230.5h1M494 231.5h1M494 233.5h1M495 213.5h1M495 215.5h1M495 218.5h1M495 221.5h1M495 223.5h1M495 226.5h1M496 222.5h1M496 223.5h1M496 228.5h1M496 233.5h1M496 241.5h1M497 209.5h1M497 215.5h1M497 220.5h1M497 232.5h1M498 213.5h1M498 225.5h1M499 224.5h1M500 215.5h1M501 206.5h1M501 214.5h1M501 224.5h1M501 225.5h1M501 230.5h1M502 203.5h1M502 204.5h1M503 221.5h1M505 216.5h1M505 224.5h1M505 225.5h1M506 206.5h1M506 240.5h1M507 200.5h1" stroke="#8a8a8a"/><path d="M103 89.5h1M105 87.5h1M105 91.5h1M106 84.5h1M106 86.5h1M106 92.5h1M107 95.5h1M107 98.5h1M108 92.5h1M109 69.5h1M110 91.5h1M110 93.5h1M111 96.5h1M111 98.5h1M112 73.5h1M112 75.5h1M112 78.5h1M113 85.5h1M113 87.5h1M113 90.5h1M113 93.5h1M114 77.5h1M114 78.5h1M114 84.5h1M114 85.5h1M114 90.5h1M115 73.5h1M115 78.5h1M115 81.5h1M115 82.5h1M115 88.5h1M116 77.5h1M116 80.5h1M116 81.5h1M116 91.5h1M116 92.5h1M117 74.5h1M117 75.5h1M117 76.5h1M117 80.5h1M117 86.5h1M117 88.5h1M117 91.5h1M117 97.5h1M118 73.5h1M118 89.5h1M118 93.5h1M118 94.5h1M118 95.5h1M118 98.5h1M119 72.5h1M119 76.5h1M119 85.5h1M119 89.5h1M119 92.5h1M120 75.5h1M120 88.5h1M120 94.5h1M121 88.5h1M121 97.5h1M122 69.5h1M122 71.5h1M122 98.5h1M122 100.5h1M123 44.5h1M123 88.5h1M124 90.5h1M124 91.5h1M125 70.5h1M125 94.5h1M125 95.5h1M125 97.5h1M125 99.5h1M126 66.5h1M126 69.5h1M126 70.5h1M126 95.5h1M126 103.5h1M128 40.5h1M128 69.5h1M128 70.5h1M129 39.5h1M129 97.5h1M129 100.5h1M129 101.5h1M129 102.5h1M129 103.5h1M130 66.5h1M130 90.5h1M130 93.5h1M130 101.5h1M131 69.5h1M132 37.5h1M133 100.5h1M133 101.5h1M133 103.5h1M134 40.5h1M134 45.5h1M134 62.5h1M134 66.5h1M134 90.5h1M134 97.5h1M134 99.5h1M135 68.5h1M135 103.5h1M136 67.5h1M136 90.5h1M136 95.5h1M136 101.5h1M136 102.5h1M137 66.5h1M137 89.5h1M137 95.5h1M138 38.5h1M138 88.5h1M138 97.5h1M138 100.5h1M139 41.5h1M139 63.5h1M139 95.5h1M139 97.5h1M140 64.5h1M140 66.5h1M140 67.5h1M140 89.5h1M140 90.5h1M140 92.5h1M140 93.5h1M140 99.5h1M141 84.5h1M141 88.5h1M141 90.5h1M142 48.5h1M142 65.5h1M142 67.5h1M142 84.5h1M142 85.5h1M142 89.5h1M142 98.5h1M143 79.5h1M143 81.5h1M143 82.5h1M143 83.5h1M143 84.5h1M143 89.5h1M143 93.5h1M144 67.5h1M144 84.5h1M144 91.5h1M144 93.5h1M145 45.5h1M145 87.5h1M145 89.5h1M146 65.5h1M146 82.5h1M146 86.5h1M146 87.5h1M147 63.5h1M147 83.5h1M148 71.5h1M148 78.5h1M148 82.5h1M148 83.5h1M148 84.5h1M148 86.5h1M148 88.5h1M148 102.5h1M149 82.5h1M149 84.5h1M149 93.5h1M150 65.5h1M150 66.5h1M150 78.5h1M151 67.5h1M151 68.5h1M151 77.5h1M151 82.5h1M151 83.5h1M151 85.5h1M151 86.5h1M151 99.5h1M152 63.5h1M152 67.5h1M152 72.5h1M152 76.5h1M152 80.5h1M152 83.5h1M152 86.5h1M153 71.5h1M153 72.5h1M153 73.5h1M153 85.5h1M154 74.5h1M154 75.5h1M154 91.5h1M155 64.5h1M155 73.5h1M155 94.5h1M155 101.5h1M156 65.5h1M156 69.5h1M156 71.5h1M156 77.5h1M156 78.5h1M156 81.5h1M157 64.5h1M157 66.5h1M157 69.5h1M157 70.5h1M157 71.5h1M157 80.5h1M157 82.5h1M157 85.5h1M158 57.5h1M158 61.5h1M158 74.5h1M158 80.5h1M158 81.5h1M159 62.5h1M159 69.5h1M159 74.5h1M159 80.5h1M159 86.5h1M160 79.5h1M160 81.5h1M160 86.5h1M160 90.5h1M161 71.5h1M161 72.5h1M161 75.5h1M162 63.5h1M162 67.5h1M162 72.5h1M162 74.5h1M163 66.5h1M163 67.5h1M163 70.5h1M163 74.5h1M163 75.5h1M163 79.5h1M164 62.5h1M164 72.5h1M164 76.5h1M165 70.5h1M165 71.5h1M166 69.5h1M166 71.5h1M166 79.5h1M166 84.5h1M167 69.5h1M167 71.5h1M167 74.5h1M167 77.5h1M167 85.5h1M168 68.5h1M168 69.5h1M168 70.5h1M168 72.5h1M168 73.5h1M168 75.5h1M168 78.5h1M168 86.5h1M169 71.5h1M169 72.5h1M169 73.5h1M170 78.5h1M170 79.5h1M170 82.5h1M171 68.5h1M171 77.5h1M171 79.5h1M171 82.5h1M172 67.5h1M172 73.5h1M172 74.5h1M172 79.5h1M172 82.5h1M173 68.5h1M173 70.5h1M174 69.5h1M175 71.5h1M175 78.5h1M177 67.5h1M177 74.5h1M177 78.5h1M178 64.5h1M179 76.5h1M179 77.5h1M179 78.5h1M180 76.5h1M180 78.5h1M180 79.5h1M180 83.5h1M182 73.5h1M186 85.5h1M187 75.5h1M188 75.5h1M190 78.5h1M192 78.5h1M259 70.5h1M259 73.5h1M259 88.5h1M259 93.5h1M259 98.5h1M259 100.5h1M260 74.5h1M260 76.5h1M260 84.5h1M260 87.5h1M260 89.5h1M260 94.5h1M260 95.5h1M260 98.5h1M260 101.5h1M260 103.5h1M261 69.5h1M261 73.5h1M261 78.5h1M261 82.5h1M261 91.5h1M261 94.5h1M261 97.5h1M261 98.5h1M261 99.5h1M261 101.5h1M261 102.5h1M262 84.5h1M262 85.5h1M262 89.5h1M262 94.5h1M262 95.5h1M262 96.5h1M262 99.5h1M262 102.5h1M263 70.5h1M263 79.5h1M263 81.5h1M263 89.5h1M263 91.5h1M263 103.5h1M264 75.5h1M264 77.5h1M264 81.5h1M264 86.5h1M265 71.5h1M265 74.5h1M265 76.5h1M265 81.5h1M265 84.5h1M265 91.5h1M265 95.5h1M265 97.5h1M265 99.5h1M265 101.5h1M266 84.5h1M266 99.5h1M266 101.5h1M267 61.5h1M267 72.5h1M267 74.5h1M267 79.5h1M267 93.5h1M267 101.5h1M268 64.5h1M268 72.5h1M268 75.5h1M268 76.5h1M268 85.5h1M268 96.5h1M268 103.5h1M269 75.5h1M269 77.5h1M269 80.5h1M269 91.5h1M269 96.5h1M269 98.5h1M269 99.5h1M270 61.5h1M270 62.5h1M270 64.5h1M270 82.5h1M270 96.5h1M271 58.5h1M271 62.5h1M271 75.5h1M271 91.5h1M272 61.5h1M272 73.5h1M273 74.5h1M273 75.5h1M273 77.5h1M273 78.5h1M274 58.5h1M274 64.5h1M274 71.5h1M274 73.5h1M275 61.5h1M275 63.5h1M275 102.5h1M275 103.5h1M276 53.5h1M276 60.5h1M276 62.5h1M276 64.5h1M276 65.5h1M276 69.5h1M276 73.5h1M277 61.5h1M277 70.5h1M278 60.5h1M279 57.5h1M279 60.5h1M279 68.5h1M279 70.5h1M279 102.5h1M279 103.5h1M280 60.5h1M280 62.5h1M280 65.5h1M280 66.5h1M280 70.5h1M280 76.5h1M281 59.5h1M281 67.5h1M282 35.5h1M282 58.5h1M282 64.5h1M282 66.5h1M282 68.5h1M282 103.5h1M283 36.5h1M283 47.5h1M283 55.5h1M283 56.5h1M283 61.5h1M284 36.5h1M284 42.5h1M284 43.5h1M284 60.5h1M285 35.5h1M285 47.5h1M285 53.5h1M285 59.5h1M285 63.5h1M286 41.5h1M286 42.5h1M286 44.5h1M286 48.5h1M286 52.5h1M286 58.5h1M286 64.5h1M287 22.5h1M287 28.5h1M287 34.5h1M287 43.5h1M287 48.5h1M287 49.5h1M287 58.5h1M287 65.5h1M287 67.5h1M288 38.5h1M288 42.5h1M288 57.5h1M288 59.5h1M288 65.5h1M288 69.5h1M288 75.5h1M289 27.5h1M289 30.5h1M289 46.5h1M289 57.5h1M289 58.5h1M289 59.5h1M289 60.5h1M289 62.5h1M289 64.5h1M289 65.5h1M289 66.5h1M290 34.5h1M290 43.5h1M290 48.5h1M290 58.5h1M290 59.5h1M290 61.5h1M290 63.5h1M290 64.5h1M290 65.5h1M290 69.5h1M290 70.5h1M290 103.5h1M291 40.5h1M291 45.5h1M291 53.5h1M291 55.5h1M291 63.5h1M291 64.5h1M291 67.5h1M291 68.5h1M291 102.5h1M292 32.5h1M292 43.5h1M292 45.5h1M292 46.5h1M292 53.5h1M292 54.5h1M292 58.5h1M292 59.5h1M292 60.5h1M292 61.5h1M292 67.5h1M293 24.5h1M293 31.5h1M293 34.5h1M293 46.5h1M293 59.5h1M293 63.5h1M293 66.5h1M293 73.5h1M294 28.5h1M294 32.5h1M294 34.5h1M294 35.5h1M294 37.5h1M294 47.5h1M294 53.5h1M294 56.5h1M294 100.5h1M295 32.5h1M295 34.5h1M295 38.5h1M295 50.5h1M295 58.5h1M295 60.5h1M295 63.5h1M295 70.5h1M295 72.5h1M295 73.5h1M295 75.5h1M295 76.5h1M295 77.5h1M295 80.5h1M296 26.5h1M296 34.5h1M296 36.5h1M296 39.5h1M296 60.5h1M296 62.5h1M296 102.5h1M297 33.5h1M297 58.5h1M297 64.5h1M297 67.5h1M297 77.5h1M297 78.5h1M297 79.5h1M297 81.5h1M297 88.5h1M297 92.5h1M297 94.5h1M297 101.5h1M298 29.5h1M298 37.5h1M298 38.5h1M298 57.5h1M298 60.5h1M298 77.5h1M298 81.5h1M298 87.5h1M299 34.5h1M299 39.5h1M299 44.5h1M299 47.5h1M299 49.5h1M299 55.5h1M299 88.5h1M299 90.5h1M300 41.5h1M300 50.5h1M300 52.5h1M300 54.5h1M300 86.5h1M300 94.5h1M301 60.5h1M302 63.5h1M303 29.5h1M303 35.5h1M303 36.5h1M303 42.5h1M311 39.5h1M311 40.5h1M313 45.5h1M314 44.5h1M315 37.5h1M315 40.5h1M317 48.5h1M319 39.5h1M319 43.5h1M320 45.5h1M321 38.5h1M321 43.5h1M323 39.5h1M323 53.5h1M332 45.5h1M417 75.5h1M418 82.5h1M418 91.5h1M419 71.5h1M419 91.5h1M421 73.5h1M421 76.5h1M421 86.5h1M421 95.5h1M422 77.5h1M422 79.5h1M422 83.5h1M422 90.5h1M423 79.5h1M423 80.5h1M423 86.5h1M424 74.5h1M424 77.5h1M424 78.5h1M424 87.5h1M424 92.5h1M424 94.5h1M425 74.5h1M425 77.5h1M425 91.5h1M425 101.5h1M426 76.5h1M426 81.5h1M426 83.5h1M426 95.5h1M427 79.5h1M427 82.5h1M427 83.5h1M427 93.5h1M428 87.5h1M428 88.5h1M428 90.5h1M428 91.5h1M428 98.5h1M429 82.5h1M429 88.5h1M429 90.5h1M429 92.5h1M430 70.5h1M430 71.5h1M430 72.5h1M430 86.5h1M430 88.5h1M430 91.5h1M431 95.5h1M431 96.5h1M431 98.5h1M432 63.5h1M432 87.5h1M433 69.5h1M433 70.5h1M433 91.5h1M433 94.5h1M433 98.5h1M434 71.5h1M434 73.5h1M434 98.5h1M435 69.5h1M435 91.5h1M435 97.5h1M436 55.5h1M436 67.5h1M436 69.5h1M436 96.5h1M436 101.5h1M437 65.5h1M437 68.5h1M437 70.5h1M438 80.5h1M439 67.5h1M439 68.5h1M439 69.5h1M440 70.5h1M440 102.5h1M441 52.5h1M441 56.5h1M441 67.5h1M442 47.5h1M442 66.5h1M442 68.5h1M443 69.5h1M444 59.5h1M444 61.5h1M444 63.5h1M444 74.5h1M444 98.5h1M445 58.5h1M445 64.5h1M445 67.5h1M445 103.5h1M446 64.5h1M446 66.5h1M446 70.5h1M446 95.5h1M446 103.5h1M447 56.5h1M447 62.5h1M447 68.5h1M448 62.5h1M448 68.5h1M448 74.5h1M449 50.5h1M449 61.5h1M449 67.5h1M449 69.5h1M449 98.5h1M449 100.5h1M449 101.5h1M450 51.5h1M450 61.5h1M450 65.5h1M450 69.5h1M450 99.5h1M450 100.5h1M450 101.5h1M450 102.5h1M451 65.5h1M451 66.5h1M451 68.5h1M451 69.5h1M451 71.5h1M451 73.5h1M451 92.5h1M451 98.5h1M451 99.5h1M451 100.5h1M452 56.5h1M452 66.5h1M452 69.5h1M452 92.5h1M452 95.5h1M452 97.5h1M452 99.5h1M452 101.5h1M453 37.5h1M453 51.5h1M453 57.5h1M453 59.5h1M453 67.5h1M453 93.5h1M453 95.5h1M453 98.5h1M454 50.5h1M454 69.5h1M454 71.5h1M454 87.5h1M454 88.5h1M455 49.5h1M455 64.5h1M455 91.5h1M455 96.5h1M456 59.5h1M456 62.5h1M456 66.5h1M456 79.5h1M456 94.5h1M457 55.5h1M457 70.5h1M457 80.5h1M457 91.5h1M457 94.5h1M457 96.5h1M458 60.5h1M458 61.5h1M458 73.5h1M458 74.5h1M458 90.5h1M458 100.5h1M459 53.5h1M459 70.5h1M459 75.5h1M459 81.5h1M459 101.5h1M460 49.5h1M460 55.5h1M460 60.5h1M460 61.5h1M460 73.5h1M460 80.5h1M460 81.5h1M460 84.5h1M460 86.5h1M460 87.5h1M460 89.5h1M460 92.5h1M461 60.5h1M461 66.5h1M461 72.5h1M461 73.5h1M461 78.5h1M461 83.5h1M461 84.5h1M461 86.5h1M461 89.5h1M461 90.5h1M461 96.5h1M462 35.5h1M462 64.5h1M462 68.5h1M462 74.5h1M462 79.5h1M462 81.5h1M462 86.5h1M462 87.5h1M462 91.5h1M462 95.5h1M463 32.5h1M463 40.5h1M463 58.5h1M463 72.5h1M463 76.5h1M463 79.5h1M463 84.5h1M463 85.5h1M463 92.5h1M463 102.5h1M464 29.5h1M464 34.5h1M464 41.5h1M464 46.5h1M464 48.5h1M464 61.5h1M464 65.5h1M464 79.5h1M464 80.5h1M464 82.5h1M464 84.5h1M465 38.5h1M465 53.5h1M465 57.5h1M465 58.5h1M465 60.5h1M465 81.5h1M465 82.5h1M465 87.5h1M465 88.5h1M465 94.5h1M466 45.5h1M466 58.5h1M466 62.5h1M466 71.5h1M466 73.5h1M466 77.5h1M466 82.5h1M466 85.5h1M466 86.5h1M466 91.5h1M467 27.5h1M467 35.5h1M467 38.5h1M467 39.5h1M467 48.5h1M467 58.5h1M467 80.5h1M467 84.5h1M467 86.5h1M468 30.5h1M468 35.5h1M468 38.5h1M468 39.5h1M468 55.5h1M468 61.5h1M468 79.5h1M468 81.5h1M468 83.5h1M468 99.5h1M469 28.5h1M469 34.5h1M469 43.5h1M469 44.5h1M469 45.5h1M469 48.5h1M469 51.5h1M469 54.5h1M469 71.5h1M469 89.5h1M469 90.5h1M470 29.5h1M470 33.5h1M470 37.5h1M470 39.5h1M470 46.5h1M470 51.5h1M470 53.5h1M470 66.5h1M470 75.5h1M470 82.5h1M470 87.5h1M470 88.5h1M471 33.5h1M471 36.5h1M471 39.5h1M471 44.5h1M471 45.5h1M471 47.5h1M471 50.5h1M471 51.5h1M471 53.5h1M471 58.5h1M471 63.5h1M471 93.5h1M472 42.5h1M472 43.5h1M472 46.5h1M472 57.5h1M472 70.5h1M472 82.5h1M472 89.5h1M472 100.5h1M473 26.5h1M473 32.5h1M473 44.5h1M473 56.5h1M473 59.5h1M473 72.5h1M473 77.5h1M473 78.5h1M473 79.5h1M473 81.5h1M473 88.5h1M474 32.5h1M474 34.5h1M474 52.5h1M474 75.5h1M474 92.5h1M475 32.5h1M475 41.5h1M475 42.5h1M475 45.5h1M475 47.5h1M475 60.5h1M475 62.5h1M475 86.5h1M475 89.5h1M476 39.5h1M476 50.5h1M476 51.5h1M476 60.5h1M476 78.5h1M476 79.5h1M476 80.5h1M476 82.5h1M476 84.5h1M476 93.5h1M477 52.5h1M477 53.5h1M477 63.5h1M477 73.5h1M477 78.5h1M477 83.5h1M477 89.5h1M478 47.5h1M478 55.5h1M478 57.5h1M478 60.5h1M478 64.5h1M478 65.5h1M478 70.5h1M478 88.5h1M478 89.5h1M479 55.5h1M479 58.5h1M479 59.5h1M479 64.5h1M480 86.5h1M481 45.5h1M481 51.5h1M482 55.5h1M482 84.5h1M482 87.5h1M482 89.5h1M482 91.5h1M483 55.5h1M483 87.5h1M484 70.5h1M484 91.5h1M485 83.5h1M485 94.5h1M487 93.5h1M488 80.5h1M488 94.5h1M489 81.5h1M494 46.5h1M494 83.5h1M103 222.5h1M103 227.5h1M104 223.5h1M104 238.5h1M104 240.5h1M105 216.5h1M105 224.5h1M105 227.5h1M105 230.5h1M105 231.5h1M105 241.5h1M106 212.5h1M106 218.5h1M106 219.5h1M106 234.5h1M106 236.5h1M106 237.5h1M106 238.5h1M106 239.5h1M107 214.5h1M107 224.5h1M107 227.5h1M107 229.5h1M107 238.5h1M108 218.5h1M108 221.5h1M108 223.5h1M108 235.5h1M108 238.5h1M108 241.5h1M109 213.5h1M109 228.5h1M109 231.5h1M109 235.5h1M109 241.5h1M110 214.5h1M110 216.5h1M110 219.5h1M110 221.5h1M110 235.5h1M110 237.5h1M110 239.5h1M111 215.5h1M111 216.5h1M111 217.5h1M111 235.5h1M112 209.5h1M112 234.5h1M112 235.5h1M112 240.5h1M113 212.5h1M113 214.5h1M113 232.5h1M113 236.5h1M113 237.5h1M113 240.5h1M113 241.5h1M114 212.5h1M114 237.5h1M114 239.5h1M114 241.5h1M115 211.5h1M115 213.5h1M116 207.5h1M116 213.5h1M116 240.5h1M117 206.5h1M117 237.5h1M117 240.5h1M118 206.5h1M118 208.5h1M118 237.5h1M118 240.5h1M119 205.5h1M119 207.5h1M119 236.5h1M119 238.5h1M119 239.5h1M119 240.5h1M120 206.5h1M120 207.5h1M120 208.5h1M120 209.5h1M122 208.5h1M122 209.5h1M122 211.5h1M122 240.5h1M123 208.5h1M123 210.5h1M123 239.5h1M124 205.5h1M124 237.5h1M124 239.5h1M125 209.5h1M125 236.5h1M125 238.5h1M126 209.5h1M126 237.5h1M126 239.5h1M127 205.5h1M127 209.5h1M127 239.5h1M128 205.5h1M128 235.5h1M128 238.5h1M128 241.5h1M129 212.5h1M129 236.5h1M129 237.5h1M129 241.5h1M130 204.5h1M131 233.5h1M131 238.5h1M131 240.5h1M132 239.5h1M133 202.5h1M133 233.5h1M133 236.5h1M133 237.5h1M133 238.5h1M133 240.5h1M134 199.5h1M134 201.5h1M134 202.5h1M134 230.5h1M134 231.5h1M134 235.5h1M134 237.5h1M135 232.5h1M135 233.5h1M136 212.5h1M136 237.5h1M137 201.5h1M137 215.5h1M137 232.5h1M137 233.5h1M138 202.5h1M138 210.5h1M138 230.5h1M138 237.5h1M138 240.5h1M139 221.5h1M139 227.5h1M139 230.5h1M139 231.5h1M139 236.5h1M140 197.5h1M140 200.5h1M140 226.5h1M140 228.5h1M140 231.5h1M140 234.5h1M141 212.5h1M141 240.5h1M142 184.5h1M142 197.5h1M142 198.5h1M142 201.5h1M142 214.5h1M142 220.5h1M142 222.5h1M142 223.5h1M142 231.5h1M142 235.5h1M142 236.5h1M143 215.5h1M143 220.5h1M143 225.5h1M143 228.5h1M144 202.5h1M144 215.5h1M144 217.5h1M144 219.5h1M144 220.5h1M144 232.5h1M144 235.5h1M145 200.5h1M145 201.5h1M145 209.5h1M145 215.5h1M145 217.5h1M145 221.5h1M145 228.5h1M145 229.5h1M145 230.5h1M145 232.5h1M146 200.5h1M146 213.5h1M146 222.5h1M146 224.5h1M147 197.5h1M147 200.5h1M147 218.5h1M147 230.5h1M148 214.5h1M148 219.5h1M148 221.5h1M149 202.5h1M149 204.5h1M149 208.5h1M150 203.5h1M150 212.5h1M150 213.5h1M150 216.5h1M151 210.5h1M151 212.5h1M151 213.5h1M151 215.5h1M151 216.5h1M151 222.5h1M152 201.5h1M152 219.5h1M152 223.5h1M153 197.5h1M153 201.5h1M153 212.5h1M154 200.5h1M154 205.5h1M154 214.5h1M154 222.5h1M155 201.5h1M155 206.5h1M155 214.5h1M155 217.5h1M156 196.5h1M156 200.5h1M156 208.5h1M156 213.5h1M156 215.5h1M157 198.5h1M157 204.5h1M157 205.5h1M157 206.5h1M157 211.5h1M157 218.5h1M157 224.5h1M158 214.5h1M158 218.5h1M158 222.5h1M159 195.5h1M159 200.5h1M159 201.5h1M159 204.5h1M159 208.5h1M159 209.5h1M159 214.5h1M159 215.5h1M159 221.5h1M159 230.5h1M160 198.5h1M160 202.5h1M160 210.5h1M161 200.5h1M161 204.5h1M161 205.5h1M161 206.5h1M161 208.5h1M161 210.5h1M161 211.5h1M162 207.5h1M163 197.5h1M163 200.5h1M163 204.5h1M163 206.5h1M163 207.5h1M163 214.5h1M163 225.5h1M164 185.5h1M164 204.5h1M164 205.5h1M164 210.5h1M164 214.5h1M164 228.5h1M165 200.5h1M165 208.5h1M165 209.5h1M165 210.5h1M165 211.5h1M165 212.5h1M166 201.5h1M166 202.5h1M166 204.5h1M166 205.5h1M166 207.5h1M166 209.5h1M166 210.5h1M166 215.5h1M167 199.5h1M167 200.5h1M167 202.5h1M167 203.5h1M167 204.5h1M167 206.5h1M167 208.5h1M168 201.5h1M168 206.5h1M168 210.5h1M168 212.5h1M168 213.5h1M169 202.5h1M169 209.5h1M169 212.5h1M170 203.5h1M170 204.5h1M170 206.5h1M171 205.5h1M171 214.5h1M172 207.5h1M172 208.5h1M173 202.5h1M173 204.5h1M173 217.5h1M174 199.5h1M175 201.5h1M176 210.5h1M177 211.5h1M259 210.5h1M259 211.5h1M259 219.5h1M259 225.5h1M259 229.5h1M259 230.5h1M259 234.5h1M259 235.5h1M259 237.5h1M259 239.5h1M260 213.5h1M260 226.5h1M260 227.5h1M260 228.5h1M260 234.5h1M260 239.5h1M261 213.5h1M261 214.5h1M261 215.5h1M261 216.5h1M261 219.5h1M261 222.5h1M261 227.5h1M261 229.5h1M261 230.5h1M261 234.5h1M261 235.5h1M261 237.5h1M261 240.5h1M261 241.5h1M262 212.5h1M262 223.5h1M262 224.5h1M262 226.5h1M262 227.5h1M262 233.5h1M262 237.5h1M262 238.5h1M263 212.5h1M263 216.5h1M263 229.5h1M263 233.5h1M263 236.5h1M263 239.5h1M263 240.5h1M264 209.5h1M264 210.5h1M264 218.5h1M264 226.5h1M264 227.5h1M264 230.5h1M264 232.5h1M264 240.5h1M264 241.5h1M265 213.5h1M265 214.5h1M265 216.5h1M265 222.5h1M265 230.5h1M266 209.5h1M266 213.5h1M266 217.5h1M266 221.5h1M266 232.5h1M266 236.5h1M267 216.5h1M267 220.5h1M267 221.5h1M267 228.5h1M267 232.5h1M267 237.5h1M267 239.5h1M268 213.5h1M268 223.5h1M268 234.5h1M268 236.5h1M268 238.5h1M269 209.5h1M269 210.5h1M269 216.5h1M269 229.5h1M269 232.5h1M269 237.5h1M270 206.5h1M270 208.5h1M270 213.5h1M270 215.5h1M270 217.5h1M270 221.5h1M270 227.5h1M270 238.5h1M270 239.5h1M271 207.5h1M271 214.5h1M271 227.5h1M271 228.5h1M271 233.5h1M271 238.5h1M272 205.5h1M272 208.5h1M272 210.5h1M272 214.5h1M272 234.5h1M272 235.5h1M272 238.5h1M272 239.5h1M273 197.5h1M273 208.5h1M273 212.5h1M273 217.5h1M273 224.5h1M273 229.5h1M273 231.5h1M273 239.5h1M274 204.5h1M274 207.5h1M274 210.5h1M274 240.5h1M275 204.5h1M275 209.5h1M275 210.5h1M275 213.5h1M276 206.5h1M276 210.5h1M277 203.5h1M277 208.5h1M277 212.5h1M278 209.5h1M278 212.5h1M279 195.5h1M279 202.5h1M279 211.5h1M279 212.5h1M279 240.5h1M280 191.5h1M280 196.5h1M280 206.5h1M280 208.5h1M280 209.5h1M280 211.5h1M280 212.5h1M281 209.5h1M282 202.5h1M282 203.5h1M282 204.5h1M282 207.5h1M283 205.5h1M283 208.5h1M284 191.5h1M284 194.5h1M284 201.5h1M285 186.5h1M285 195.5h1M285 196.5h1M285 209.5h1M285 211.5h1M285 234.5h1M286 185.5h1M286 186.5h1M286 190.5h1M286 193.5h1M286 194.5h1M286 200.5h1M286 204.5h1M286 205.5h1M286 206.5h1M286 207.5h1M286 208.5h1M286 210.5h1M287 183.5h1M287 184.5h1M287 190.5h1M287 191.5h1M287 197.5h1M287 202.5h1M287 204.5h1M287 206.5h1M288 178.5h1M288 186.5h1M288 188.5h1M288 193.5h1M288 201.5h1M288 207.5h1M288 209.5h1M289 181.5h1M289 191.5h1M289 208.5h1M289 210.5h1M290 183.5h1M290 185.5h1M290 195.5h1M290 197.5h1M290 204.5h1M290 206.5h1M291 174.5h1M291 179.5h1M291 194.5h1M291 202.5h1M291 205.5h1M291 207.5h1M291 209.5h1M292 179.5h1M292 182.5h1M292 186.5h1M292 188.5h1M292 198.5h1M292 199.5h1M292 201.5h1M292 202.5h1M292 203.5h1M292 207.5h1M293 176.5h1M293 184.5h1M293 185.5h1M293 186.5h1M293 192.5h1M293 194.5h1M293 195.5h1M293 198.5h1M293 201.5h1M293 208.5h1M294 182.5h1M294 183.5h1M294 186.5h1M294 187.5h1M294 188.5h1M294 191.5h1M294 194.5h1M294 196.5h1M294 201.5h1M294 205.5h1M295 175.5h1M295 179.5h1M295 180.5h1M295 182.5h1M295 193.5h1M295 194.5h1M295 196.5h1M295 200.5h1M295 205.5h1M295 212.5h1M296 175.5h1M296 180.5h1M296 182.5h1M296 185.5h1M296 186.5h1M296 188.5h1M296 197.5h1M296 214.5h1M296 220.5h1M296 238.5h1M297 181.5h1M297 184.5h1M297 187.5h1M297 188.5h1M297 193.5h1M297 204.5h1M297 214.5h1M297 215.5h1M297 236.5h1M297 238.5h1M297 240.5h1M298 176.5h1M298 185.5h1M298 190.5h1M298 196.5h1M298 221.5h1M298 224.5h1M298 225.5h1M298 229.5h1M298 230.5h1M298 231.5h1M298 236.5h1M299 181.5h1M299 184.5h1M299 185.5h1M299 191.5h1M299 216.5h1M299 219.5h1M299 230.5h1M299 232.5h1M299 235.5h1M299 240.5h1M300 175.5h1M300 184.5h1M300 192.5h1M300 225.5h1M300 236.5h1M301 171.5h1M301 185.5h1M301 190.5h1M301 194.5h1M301 201.5h1M302 181.5h1M302 184.5h1M302 192.5h1M302 193.5h1M303 185.5h1M304 165.5h1M304 193.5h1M306 177.5h1M312 181.5h1M417 216.5h1M417 219.5h1M417 222.5h1M417 228.5h1M417 231.5h1M417 234.5h1M417 236.5h1M417 237.5h1M418 216.5h1M418 218.5h1M418 220.5h1M418 221.5h1M418 222.5h1M418 223.5h1M419 213.5h1M419 217.5h1M419 219.5h1M419 223.5h1M419 229.5h1M420 214.5h1M420 215.5h1M420 219.5h1M420 228.5h1M420 234.5h1M420 235.5h1M421 200.5h1M421 233.5h1M421 235.5h1M421 239.5h1M421 241.5h1M422 214.5h1M422 216.5h1M422 219.5h1M423 236.5h1M424 212.5h1M424 214.5h1M424 241.5h1M425 206.5h1M425 211.5h1M425 215.5h1M425 240.5h1M425 241.5h1M426 211.5h1M426 218.5h1M426 240.5h1M426 241.5h1M427 202.5h1M428 207.5h1M428 209.5h1M428 210.5h1M428 239.5h1M429 209.5h1M429 241.5h1M430 204.5h1M430 207.5h1M430 208.5h1M431 209.5h1M431 211.5h1M432 206.5h1M433 197.5h1M433 199.5h1M433 241.5h1M434 194.5h1M434 209.5h1M435 186.5h1M435 204.5h1M435 207.5h1M435 208.5h1M435 209.5h1M436 204.5h1M436 206.5h1M436 241.5h1M437 198.5h1M437 206.5h1M437 210.5h1M437 212.5h1M438 207.5h1M438 209.5h1M438 211.5h1M438 240.5h1M439 190.5h1M439 194.5h1M439 197.5h1M439 210.5h1M440 207.5h1M440 211.5h1M441 200.5h1M441 203.5h1M442 188.5h1M442 193.5h1M442 199.5h1M442 204.5h1M443 196.5h1M443 197.5h1M443 208.5h1M443 241.5h1M444 209.5h1M444 210.5h1M445 185.5h1M445 190.5h1M445 192.5h1M445 193.5h1M445 196.5h1M445 198.5h1M445 215.5h1M445 239.5h1M445 240.5h1M446 187.5h1M446 192.5h1M446 209.5h1M446 211.5h1M447 189.5h1M447 191.5h1M447 192.5h1M447 199.5h1M448 198.5h1M448 203.5h1M448 206.5h1M448 210.5h1M448 214.5h1M449 192.5h1M449 207.5h1M449 209.5h1M449 210.5h1M449 211.5h1M449 212.5h1M449 214.5h1M450 191.5h1M450 196.5h1M450 203.5h1M450 214.5h1M450 229.5h1M451 186.5h1M451 189.5h1M451 192.5h1M451 195.5h1M451 206.5h1M451 208.5h1M451 211.5h1M451 213.5h1M451 236.5h1M451 239.5h1M451 240.5h1M452 204.5h1M452 205.5h1M452 210.5h1M452 211.5h1M452 215.5h1M452 236.5h1M452 238.5h1M452 239.5h1M452 240.5h1M453 195.5h1M453 199.5h1M453 210.5h1M453 215.5h1M453 236.5h1M454 195.5h1M454 197.5h1M454 201.5h1M454 208.5h1M454 212.5h1M454 215.5h1M454 220.5h1M454 235.5h1M454 236.5h1M454 237.5h1M455 192.5h1M455 194.5h1M455 195.5h1M455 198.5h1M455 203.5h1M455 228.5h1M455 232.5h1M456 178.5h1M456 188.5h1M456 189.5h1M456 196.5h1M456 201.5h1M456 203.5h1M456 204.5h1M456 213.5h1M456 227.5h1M457 197.5h1M457 201.5h1M457 202.5h1M457 206.5h1M457 213.5h1M457 214.5h1M457 216.5h1M457 226.5h1M457 232.5h1M457 233.5h1M457 235.5h1M457 236.5h1M457 237.5h1M457 239.5h1M458 194.5h1M458 201.5h1M458 202.5h1M458 206.5h1M458 220.5h1M458 227.5h1M458 229.5h1M458 230.5h1M458 234.5h1M458 235.5h1M458 236.5h1M458 238.5h1M458 240.5h1M458 241.5h1M459 184.5h1M459 196.5h1M459 199.5h1M459 201.5h1M459 210.5h1M459 214.5h1M459 215.5h1M459 223.5h1M459 225.5h1M459 227.5h1M459 230.5h1M459 233.5h1M459 234.5h1M459 235.5h1M459 236.5h1M460 181.5h1M460 192.5h1M460 200.5h1M460 202.5h1M460 215.5h1M460 216.5h1M460 219.5h1M460 223.5h1M460 225.5h1M460 228.5h1M461 174.5h1M461 214.5h1M461 216.5h1M461 218.5h1M461 226.5h1M461 228.5h1M461 232.5h1M461 234.5h1M462 180.5h1M462 186.5h1M462 202.5h1M462 205.5h1M462 213.5h1M462 214.5h1M462 215.5h1M462 218.5h1M462 222.5h1M462 235.5h1M463 181.5h1M463 182.5h1M463 187.5h1M463 194.5h1M463 197.5h1M463 205.5h1M463 213.5h1M463 214.5h1M463 215.5h1M463 216.5h1M463 217.5h1M463 237.5h1M464 184.5h1M464 188.5h1M464 191.5h1M464 193.5h1M464 198.5h1M464 212.5h1M464 216.5h1M464 217.5h1M464 218.5h1M464 225.5h1M464 226.5h1M464 227.5h1M464 233.5h1M464 240.5h1M465 175.5h1M465 185.5h1M465 189.5h1M465 195.5h1M465 206.5h1M465 208.5h1M465 224.5h1M466 176.5h1M466 181.5h1M466 195.5h1M466 209.5h1M466 211.5h1M466 214.5h1M466 215.5h1M466 220.5h1M466 228.5h1M467 167.5h1M467 172.5h1M467 178.5h1M467 180.5h1M467 181.5h1M467 186.5h1M467 189.5h1M467 198.5h1M467 206.5h1M467 219.5h1M467 220.5h1M467 226.5h1M468 179.5h1M468 180.5h1M468 182.5h1M468 190.5h1M468 199.5h1M468 202.5h1M468 204.5h1M468 214.5h1M468 220.5h1M468 221.5h1M468 229.5h1M469 177.5h1M469 179.5h1M469 182.5h1M469 189.5h1M469 194.5h1M469 206.5h1M469 212.5h1M469 220.5h1M469 226.5h1M469 230.5h1M469 234.5h1M470 174.5h1M470 175.5h1M470 177.5h1M470 183.5h1M470 205.5h1M470 207.5h1M470 209.5h1M470 211.5h1M470 212.5h1M470 213.5h1M470 219.5h1M470 223.5h1M471 171.5h1M471 173.5h1M471 174.5h1M471 179.5h1M471 180.5h1M471 181.5h1M471 182.5h1M471 185.5h1M471 189.5h1M471 190.5h1M471 203.5h1M471 213.5h1M471 221.5h1M471 224.5h1M471 235.5h1M472 169.5h1M472 171.5h1M472 175.5h1M472 176.5h1M472 182.5h1M472 185.5h1M472 186.5h1M472 189.5h1M472 190.5h1M472 201.5h1M472 203.5h1M472 204.5h1M472 216.5h1M472 229.5h1M473 178.5h1M473 181.5h1M473 194.5h1M473 204.5h1M473 224.5h1M473 225.5h1M474 170.5h1M474 173.5h1M474 174.5h1M474 177.5h1M474 179.5h1M474 182.5h1M474 195.5h1M474 206.5h1M474 215.5h1M474 222.5h1M475 190.5h1M475 192.5h1M475 217.5h1M475 220.5h1M475 232.5h1M476 172.5h1M476 173.5h1M476 179.5h1M476 181.5h1M476 186.5h1M476 194.5h1M476 203.5h1M476 210.5h1M476 221.5h1M477 180.5h1M477 190.5h1M477 195.5h1M477 203.5h1M477 222.5h1M477 230.5h1M477 233.5h1M478 181.5h1M478 186.5h1M478 187.5h1M478 189.5h1M478 198.5h1M478 212.5h1M479 178.5h1M479 187.5h1M479 212.5h1M479 213.5h1M479 217.5h1M479 235.5h1M480 193.5h1M480 211.5h1M480 212.5h1M480 218.5h1M480 234.5h1M481 178.5h1M481 205.5h1M481 216.5h1M481 219.5h1M481 222.5h1M482 178.5h1M482 181.5h1M482 214.5h1M482 224.5h1M482 229.5h1M483 197.5h1M483 220.5h1M484 205.5h1M485 185.5h1M485 221.5h1M487 223.5h1M488 225.5h1M491 202.5h1M493 210.5h1M495 209.5h1M496 212.5h1M496 218.5h1M496 238.5h1" stroke="#4a4a4a"/><path d="M105 90.5h1M109 81.5h1M110 88.5h1M110 98.5h1M111 84.5h1M112 81.5h1M113 88.5h1M114 75.5h1M114 80.5h1M114 83.5h1M114 98.5h1M115 79.5h1M115 84.5h1M116 73.5h1M116 76.5h1M116 79.5h1M116 83.5h1M116 84.5h1M116 85.5h1M116 86.5h1M116 88.5h1M116 89.5h1M117 73.5h1M117 79.5h1M117 81.5h1M117 82.5h1M117 83.5h1M117 84.5h1M117 85.5h1M117 87.5h1M117 90.5h1M117 94.5h1M118 74.5h1M118 76.5h1M118 77.5h1M118 78.5h1M118 79.5h1M118 80.5h1M118 81.5h1M118 82.5h1M118 83.5h1M118 84.5h1M118 85.5h1M118 86.5h1M118 88.5h1M118 90.5h1M118 92.5h1M119 75.5h1M119 77.5h1M119 78.5h1M119 79.5h1M119 80.5h1M119 81.5h1M119 82.5h1M119 83.5h1M119 84.5h1M119 86.5h1M119 87.5h1M119 88.5h1M119 90.5h1M119 93.5h1M119 96.5h1M120 72.5h1M120 73.5h1M120 74.5h1M120 76.5h1M120 77.5h1M120 78.5h1M120 79.5h1M120 80.5h1M120 81.5h1M120 82.5h1M120 83.5h1M120 84.5h1M120 85.5h1M120 86.5h1M120 87.5h1M120 89.5h1M120 90.5h1M120 91.5h1M120 92.5h1M121 70.5h1M121 72.5h1M121 73.5h1M121 75.5h1M121 76.5h1M121 77.5h1M121 78.5h1M121 79.5h1M121 80.5h1M121 81.5h1M121 82.5h1M121 83.5h1M121 84.5h1M121 85.5h1M121 86.5h1M121 87.5h1M121 89.5h1M121 90.5h1M121 91.5h1M121 93.5h1M121 95.5h1M122 72.5h1M122 73.5h1M122 74.5h1M122 75.5h1M122 76.5h1M122 77.5h1M122 78.5h1M122 79.5h1M122 80.5h1M122 81.5h1M122 82.5h1M122 83.5h1M122 84.5h1M122 85.5h1M122 86.5h1M122 87.5h1M122 88.5h1M122 89.5h1M122 90.5h1M122 91.5h1M122 92.5h1M122 93.5h1M122 94.5h1M122 95.5h1M122 96.5h1M122 97.5h1M123 73.5h1M123 74.5h1M123 75.5h1M123 76.5h1M123 77.5h1M123 78.5h1M123 79.5h1M123 80.5h1M123 81.5h1M123 82.5h1M123 83.5h1M123 84.5h1M123 85.5h1M123 86.5h1M123 87.5h1M123 89.5h1M123 90.5h1M123 91.5h1M123 92.5h1M123 93.5h1M123 94.5h1M123 95.5h1M123 96.5h1M123 97.5h1M123 98.5h1M124 72.5h1M124 73.5h1M124 74.5h1M124 75.5h1M124 76.5h1M124 77.5h1M124 78.5h1M124 79.5h1M124 80.5h1M124 81.5h1M124 82.5h1M124 83.5h1M124 84.5h1M124 85.5h1M124 86.5h1M124 87.5h1M124 88.5h1M124 89.5h1M124 92.5h1M124 93.5h1M124 94.5h1M124 96.5h1M124 97.5h1M124 98.5h1M125 72.5h1M125 73.5h1M125 74.5h1M125 75.5h1M125 76.5h1M125 77.5h1M125 78.5h1M125 79.5h1M125 80.5h1M125 81.5h1M125 82.5h1M125 83.5h1M125 84.5h1M125 85.5h1M125 86.5h1M125 87.5h1M125 88.5h1M125 89.5h1M125 90.5h1M125 91.5h1M125 92.5h1M125 93.5h1M125 96.5h1M125 98.5h1M125 100.5h1M126 67.5h1M126 71.5h1M126 72.5h1M126 73.5h1M126 74.5h1M126 75.5h1M126 76.5h1M126 77.5h1M126 78.5h1M126 79.5h1M126 80.5h1M126 81.5h1M126 82.5h1M126 83.5h1M126 84.5h1M126 85.5h1M126 86.5h1M126 87.5h1M126 88.5h1M126 89.5h1M126 90.5h1M126 91.5h1M126 92.5h1M126 93.5h1M126 94.5h1M126 96.5h1M126 99.5h1M126 100.5h1M127 66.5h1M127 69.5h1M127 70.5h1M127 71.5h1M127 72.5h1M127 73.5h1M127 74.5h1M127 75.5h1M127 76.5h1M127 77.5h1M127 78.5h1M127 79.5h1M127 80.5h1M127 81.5h1M127 82.5h1M127 83.5h1M127 84.5h1M127 85.5h1M127 86.5h1M127 87.5h1M127 88.5h1M127 89.5h1M127 90.5h1M127 91.5h1M127 92.5h1M127 93.5h1M127 94.5h1M127 95.5h1M127 96.5h1M127 97.5h1M127 98.5h1M127 99.5h1M127 100.5h1M128 68.5h1M128 71.5h1M128 72.5h1M128 73.5h1M128 74.5h1M128 75.5h1M128 76.5h1M128 77.5h1M128 78.5h1M128 79.5h1M128 80.5h1M128 81.5h1M128 82.5h1M128 83.5h1M128 84.5h1M128 85.5h1M128 86.5h1M128 87.5h1M128 88.5h1M128 89.5h1M128 90.5h1M128 91.5h1M128 92.5h1M128 93.5h1M128 94.5h1M128 95.5h1M128 96.5h1M128 97.5h1M128 98.5h1M128 99.5h1M128 100.5h1M128 102.5h1M129 66.5h1M129 67.5h1M129 68.5h1M129 69.5h1M129 70.5h1M129 71.5h1M129 72.5h1M129 73.5h1M129 74.5h1M129 75.5h1M129 76.5h1M129 77.5h1M129 78.5h1M129 79.5h1M129 80.5h1M129 81.5h1M129 82.5h1M129 83.5h1M129 84.5h1M129 85.5h1M129 86.5h1M129 87.5h1M129 88.5h1M129 89.5h1M129 90.5h1M129 91.5h1M129 92.5h1M129 93.5h1M129 94.5h1M129 95.5h1M129 96.5h1M129 98.5h1M129 99.5h1M130 67.5h1M130 69.5h1M130 70.5h1M130 71.5h1M130 72.5h1M130 73.5h1M130 74.5h1M130 75.5h1M130 76.5h1M130 77.5h1M130 78.5h1M130 79.5h1M130 80.5h1M130 81.5h1M130 82.5h1M130 83.5h1M130 84.5h1M130 85.5h1M130 86.5h1M130 87.5h1M130 88.5h1M130 89.5h1M130 91.5h1M130 92.5h1M130 94.5h1M130 95.5h1M130 96.5h1M130 97.5h1M130 98.5h1M130 99.5h1M130 100.5h1M131 68.5h1M131 70.5h1M131 71.5h1M131 72.5h1M131 73.5h1M131 74.5h1M131 75.5h1M131 76.5h1M131 77.5h1M131 78.5h1M131 79.5h1M131 80.5h1M131 81.5h1M131 82.5h1M131 83.5h1M131 84.5h1M131 85.5h1M131 86.5h1M131 87.5h1M131 88.5h1M131 89.5h1M131 90.5h1M131 91.5h1M131 92.5h1M131 93.5h1M131 94.5h1M131 95.5h1M131 96.5h1M131 97.5h1M131 98.5h1M131 99.5h1M131 100.5h1M131 101.5h1M132 66.5h1M132 67.5h1M132 68.5h1M132 69.5h1M132 70.5h1M132 71.5h1M132 72.5h1M132 73.5h1M132 74.5h1M132 75.5h1M132 76.5h1M132 77.5h1M132 78.5h1M132 79.5h1M132 80.5h1M132 81.5h1M132 82.5h1M132 83.5h1M132 84.5h1M132 85.5h1M132 86.5h1M132 87.5h1M132 88.5h1M132 89.5h1M132 90.5h1M132 91.5h1M132 92.5h1M132 93.5h1M132 94.5h1M132 95.5h1M132 96.5h1M132 97.5h1M132 98.5h1M132 99.5h1M132 100.5h1M132 101.5h1M132 102.5h1M132 103.5h1M133 68.5h1M133 69.5h1M133 70.5h1M133 71.5h1M133 72.5h1M133 73.5h1M133 74.5h1M133 75.5h1M133 76.5h1M133 77.5h1M133 78.5h1M133 79.5h1M133 80.5h1M133 81.5h1M133 82.5h1M133 83.5h1M133 84.5h1M133 85.5h1M133 86.5h1M133 87.5h1M133 88.5h1M133 89.5h1M133 90.5h1M133 91.5h1M133 92.5h1M133 93.5h1M133 94.5h1M133 95.5h1M133 96.5h1M133 97.5h1M133 98.5h1M133 99.5h1M134 67.5h1M134 68.5h1M134 69.5h1M134 70.5h1M134 71.5h1M134 72.5h1M134 73.5h1M134 74.5h1M134 75.5h1M134 76.5h1M134 77.5h1M134 78.5h1M134 79.5h1M134 80.5h1M134 81.5h1M134 82.5h1M134 83.5h1M134 84.5h1M134 85.5h1M134 86.5h1M134 87.5h1M134 88.5h1M134 89.5h1M134 91.5h1M134 92.5h1M134 93.5h1M134 94.5h1M134 95.5h1M134 96.5h1M134 98.5h1M134 100.5h1M134 101.5h1M135 67.5h1M135 69.5h1M135 70.5h1M135 71.5h1M135 72.5h1M135 73.5h1M135 74.5h1M135 75.5h1M135 76.5h1M135 77.5h1M135 78.5h1M135 79.5h1M135 80.5h1M135 81.5h1M135 82.5h1M135 83.5h1M135 84.5h1M135 85.5h1M135 86.5h1M135 87.5h1M135 88.5h1M135 89.5h1M135 90.5h1M135 91.5h1M135 92.5h1M135 93.5h1M135 94.5h1M135 95.5h1M135 96.5h1M135 97.5h1M135 98.5h1M135 99.5h1M135 100.5h1M135 102.5h1M136 40.5h1M136 66.5h1M136 68.5h1M136 69.5h1M136 70.5h1M136 71.5h1M136 72.5h1M136 73.5h1M136 74.5h1M136 75.5h1M136 76.5h1M136 77.5h1M136 78.5h1M136 79.5h1M136 80.5h1M136 81.5h1M136 82.5h1M136 83.5h1M136 84.5h1M136 85.5h1M136 86.5h1M136 87.5h1M136 88.5h1M136 89.5h1M136 91.5h1M136 92.5h1M136 93.5h1M136 94.5h1M136 96.5h1M136 97.5h1M136 98.5h1M136 99.5h1M137 65.5h1M137 67.5h1M137 68.5h1M137 69.5h1M137 70.5h1M137 71.5h1M137 72.5h1M137 73.5h1M137 74.5h1M137 75.5h1M137 76.5h1M137 77.5h1M137 78.5h1M137 79.5h1M137 80.5h1M137 81.5h1M137 82.5h1M137 83.5h1M137 84.5h1M137 85.5h1M137 86.5h1M137 87.5h1M137 88.5h1M137 91.5h1M137 92.5h1M137 93.5h1M137 96.5h1M137 97.5h1M137 98.5h1M137 101.5h1M137 102.5h1M138 66.5h1M138 67.5h1M138 68.5h1M138 69.5h1M138 70.5h1M138 71.5h1M138 72.5h1M138 73.5h1M138 74.5h1M138 75.5h1M138 76.5h1M138 77.5h1M138 78.5h1M138 79.5h1M138 80.5h1M138 81.5h1M138 82.5h1M138 83.5h1M138 84.5h1M138 85.5h1M138 86.5h1M138 87.5h1M138 89.5h1M138 90.5h1M138 91.5h1M138 92.5h1M138 93.5h1M138 94.5h1M138 95.5h1M138 96.5h1M138 98.5h1M138 99.5h1M139 64.5h1M139 65.5h1M139 66.5h1M139 67.5h1M139 68.5h1M139 69.5h1M139 70.5h1M139 71.5h1M139 72.5h1M139 73.5h1M139 74.5h1M139 75.5h1M139 76.5h1M139 77.5h1M139 78.5h1M139 79.5h1M139 80.5h1M139 81.5h1M139 82.5h1M139 83.5h1M139 84.5h1M139 85.5h1M139 86.5h1M139 87.5h1M139 89.5h1M139 90.5h1M139 91.5h1M139 92.5h1M139 93.5h1M139 100.5h1M140 68.5h1M140 69.5h1M140 70.5h1M140 71.5h1M140 72.5h1M140 73.5h1M140 74.5h1M140 75.5h1M140 76.5h1M140 77.5h1M140 78.5h1M140 79.5h1M140 80.5h1M140 81.5h1M140 82.5h1M140 83.5h1M140 86.5h1M140 87.5h1M140 88.5h1M141 65.5h1M141 66.5h1M141 67.5h1M141 68.5h1M141 69.5h1M141 70.5h1M141 71.5h1M141 72.5h1M141 73.5h1M141 74.5h1M141 75.5h1M141 76.5h1M141 77.5h1M141 78.5h1M141 79.5h1M141 80.5h1M141 81.5h1M141 83.5h1M141 85.5h1M141 89.5h1M141 96.5h1M142 68.5h1M142 69.5h1M142 70.5h1M142 71.5h1M142 72.5h1M142 73.5h1M142 74.5h1M142 75.5h1M142 76.5h1M142 77.5h1M142 78.5h1M142 79.5h1M142 80.5h1M142 81.5h1M142 82.5h1M142 83.5h1M142 88.5h1M143 67.5h1M143 68.5h1M143 69.5h1M143 70.5h1M143 71.5h1M143 72.5h1M143 73.5h1M143 74.5h1M143 75.5h1M143 76.5h1M143 77.5h1M143 78.5h1M143 80.5h1M143 91.5h1M144 66.5h1M144 68.5h1M144 69.5h1M144 70.5h1M144 71.5h1M144 72.5h1M144 73.5h1M144 74.5h1M144 75.5h1M144 76.5h1M144 77.5h1M144 78.5h1M144 79.5h1M144 80.5h1M144 81.5h1M144 82.5h1M144 90.5h1M145 66.5h1M145 68.5h1M145 69.5h1M145 70.5h1M145 71.5h1M145 72.5h1M145 73.5h1M145 74.5h1M145 75.5h1M145 76.5h1M145 77.5h1M145 78.5h1M145 79.5h1M145 82.5h1M145 83.5h1M145 85.5h1M146 67.5h1M146 68.5h1M146 69.5h1M146 70.5h1M146 71.5h1M146 72.5h1M146 73.5h1M146 74.5h1M146 75.5h1M146 76.5h1M146 77.5h1M146 78.5h1M146 79.5h1M146 80.5h1M147 67.5h1M147 68.5h1M147 69.5h1M147 70.5h1M147 71.5h1M147 72.5h1M147 73.5h1M147 74.5h1M147 75.5h1M147 76.5h1M147 77.5h1M147 79.5h1M147 80.5h1M147 81.5h1M147 86.5h1M147 89.5h1M148 68.5h1M148 69.5h1M148 72.5h1M148 73.5h1M148 74.5h1M148 75.5h1M148 76.5h1M148 77.5h1M148 79.5h1M148 80.5h1M149 68.5h1M149 69.5h1M149 70.5h1M149 71.5h1M149 72.5h1M149 73.5h1M149 74.5h1M149 75.5h1M149 76.5h1M149 77.5h1M149 78.5h1M149 79.5h1M149 80.5h1M149 81.5h1M150 70.5h1M150 71.5h1M150 72.5h1M150 73.5h1M150 74.5h1M150 76.5h1M150 77.5h1M150 80.5h1M150 81.5h1M150 82.5h1M150 89.5h1M151 69.5h1M151 70.5h1M151 71.5h1M151 73.5h1M151 74.5h1M151 75.5h1M151 76.5h1M151 78.5h1M151 79.5h1M151 81.5h1M151 84.5h1M152 68.5h1M152 69.5h1M152 71.5h1M152 73.5h1M152 74.5h1M152 75.5h1M152 77.5h1M152 78.5h1M152 81.5h1M152 82.5h1M152 87.5h1M153 67.5h1M153 70.5h1M153 74.5h1M153 76.5h1M153 77.5h1M153 78.5h1M153 79.5h1M153 81.5h1M153 82.5h1M154 66.5h1M154 68.5h1M154 69.5h1M154 70.5h1M154 71.5h1M154 72.5h1M154 73.5h1M154 76.5h1M154 77.5h1M154 79.5h1M154 80.5h1M154 84.5h1M155 67.5h1M155 69.5h1M155 72.5h1M155 74.5h1M155 75.5h1M155 76.5h1M155 77.5h1M155 78.5h1M155 79.5h1M155 81.5h1M155 85.5h1M156 67.5h1M156 68.5h1M156 70.5h1M156 72.5h1M156 75.5h1M156 76.5h1M156 80.5h1M157 63.5h1M157 72.5h1M157 73.5h1M157 75.5h1M157 76.5h1M157 77.5h1M157 78.5h1M157 79.5h1M157 81.5h1M157 83.5h1M157 89.5h1M158 68.5h1M158 70.5h1M158 72.5h1M158 73.5h1M158 75.5h1M158 76.5h1M158 78.5h1M158 79.5h1M158 84.5h1M159 72.5h1M159 77.5h1M159 78.5h1M159 79.5h1M159 85.5h1M160 75.5h1M160 76.5h1M161 66.5h1M161 69.5h1M161 70.5h1M161 74.5h1M161 76.5h1M161 77.5h1M162 68.5h1M162 73.5h1M162 77.5h1M162 78.5h1M162 83.5h1M163 76.5h1M163 77.5h1M163 80.5h1M164 61.5h1M164 67.5h1M164 74.5h1M164 75.5h1M164 78.5h1M164 80.5h1M165 72.5h1M165 75.5h1M167 68.5h1M167 73.5h1M167 76.5h1M167 80.5h1M168 74.5h1M168 76.5h1M169 69.5h1M169 79.5h1M170 71.5h1M174 74.5h1M176 84.5h1M259 79.5h1M259 80.5h1M259 87.5h1M259 89.5h1M259 91.5h1M259 94.5h1M260 78.5h1M260 80.5h1M260 82.5h1M260 83.5h1M260 85.5h1M260 88.5h1M260 90.5h1M260 91.5h1M260 92.5h1M260 96.5h1M260 97.5h1M260 99.5h1M261 77.5h1M261 79.5h1M261 80.5h1M261 81.5h1M261 83.5h1M261 84.5h1M261 85.5h1M261 87.5h1M261 89.5h1M261 90.5h1M261 93.5h1M261 95.5h1M261 96.5h1M261 103.5h1M262 73.5h1M262 74.5h1M262 75.5h1M262 77.5h1M262 78.5h1M262 79.5h1M262 80.5h1M262 82.5h1M262 83.5h1M262 88.5h1M262 90.5h1M262 91.5h1M262 92.5h1M262 93.5h1M262 97.5h1M262 98.5h1M262 101.5h1M262 103.5h1M263 72.5h1M263 74.5h1M263 75.5h1M263 76.5h1M263 77.5h1M263 78.5h1M263 80.5h1M263 82.5h1M263 84.5h1M263 86.5h1M263 87.5h1M263 88.5h1M263 92.5h1M263 95.5h1M263 96.5h1M263 98.5h1M263 99.5h1M263 102.5h1M264 73.5h1M264 76.5h1M264 78.5h1M264 79.5h1M264 80.5h1M264 82.5h1M264 83.5h1M264 84.5h1M264 85.5h1M264 87.5h1M264 88.5h1M264 91.5h1M264 92.5h1M264 93.5h1M264 95.5h1M264 98.5h1M264 99.5h1M264 101.5h1M264 102.5h1M265 73.5h1M265 75.5h1M265 77.5h1M265 78.5h1M265 79.5h1M265 80.5h1M265 82.5h1M265 83.5h1M265 85.5h1M265 86.5h1M265 87.5h1M265 88.5h1M265 89.5h1M265 90.5h1M265 92.5h1M265 94.5h1M265 96.5h1M265 98.5h1M265 102.5h1M265 103.5h1M266 73.5h1M266 74.5h1M266 75.5h1M266 76.5h1M266 77.5h1M266 79.5h1M266 80.5h1M266 81.5h1M266 82.5h1M266 83.5h1M266 85.5h1M266 86.5h1M266 88.5h1M266 89.5h1M266 90.5h1M266 91.5h1M266 92.5h1M266 93.5h1M266 95.5h1M266 96.5h1M266 97.5h1M266 100.5h1M266 102.5h1M267 75.5h1M267 76.5h1M267 77.5h1M267 78.5h1M267 80.5h1M267 82.5h1M267 83.5h1M267 84.5h1M267 85.5h1M267 86.5h1M267 87.5h1M267 88.5h1M267 89.5h1M267 91.5h1M267 92.5h1M267 94.5h1M267 95.5h1M267 96.5h1M267 97.5h1M267 98.5h1M267 99.5h1M267 100.5h1M267 103.5h1M268 74.5h1M268 78.5h1M268 79.5h1M268 80.5h1M268 81.5h1M268 82.5h1M268 83.5h1M268 84.5h1M268 86.5h1M268 87.5h1M268 88.5h1M268 89.5h1M268 90.5h1M268 91.5h1M268 92.5h1M268 93.5h1M268 94.5h1M268 95.5h1M268 98.5h1M268 100.5h1M268 101.5h1M269 74.5h1M269 78.5h1M269 79.5h1M269 81.5h1M269 82.5h1M269 83.5h1M269 84.5h1M269 85.5h1M269 86.5h1M269 87.5h1M269 88.5h1M269 89.5h1M269 90.5h1M269 93.5h1M269 94.5h1M269 95.5h1M269 97.5h1M269 100.5h1M269 101.5h1M270 71.5h1M270 72.5h1M270 74.5h1M270 75.5h1M270 76.5h1M270 78.5h1M270 79.5h1M270 81.5h1M270 83.5h1M270 84.5h1M270 85.5h1M270 86.5h1M270 87.5h1M270 88.5h1M270 89.5h1M270 90.5h1M270 91.5h1M270 92.5h1M270 93.5h1M270 94.5h1M270 95.5h1M270 97.5h1M270 98.5h1M270 99.5h1M270 100.5h1M270 101.5h1M270 102.5h1M270 103.5h1M271 63.5h1M271 77.5h1M271 79.5h1M271 80.5h1M271 81.5h1M271 82.5h1M271 83.5h1M271 84.5h1M271 85.5h1M271 86.5h1M271 87.5h1M271 88.5h1M271 89.5h1M271 90.5h1M271 92.5h1M271 93.5h1M271 94.5h1M271 95.5h1M271 96.5h1M271 97.5h1M271 98.5h1M271 99.5h1M271 100.5h1M271 101.5h1M271 102.5h1M271 103.5h1M272 75.5h1M272 76.5h1M272 77.5h1M272 78.5h1M272 79.5h1M272 80.5h1M272 81.5h1M272 82.5h1M272 83.5h1M272 84.5h1M272 85.5h1M272 86.5h1M272 87.5h1M272 88.5h1M272 89.5h1M272 90.5h1M272 91.5h1M272 92.5h1M272 93.5h1M272 94.5h1M272 95.5h1M272 96.5h1M272 97.5h1M272 98.5h1M272 99.5h1M272 101.5h1M272 102.5h1M272 103.5h1M273 76.5h1M273 79.5h1M273 80.5h1M273 81.5h1M273 82.5h1M273 83.5h1M273 84.5h1M273 85.5h1M273 86.5h1M273 87.5h1M273 88.5h1M273 89.5h1M273 90.5h1M273 91.5h1M273 92.5h1M273 93.5h1M273 94.5h1M273 95.5h1M273 96.5h1M273 97.5h1M273 98.5h1M273 99.5h1M273 100.5h1M273 101.5h1M273 102.5h1M273 103.5h1M274 62.5h1M274 72.5h1M274 74.5h1M274 75.5h1M274 76.5h1M274 77.5h1M274 78.5h1M274 79.5h1M274 80.5h1M274 81.5h1M274 82.5h1M274 83.5h1M274 84.5h1M274 85.5h1M274 86.5h1M274 87.5h1M274 88.5h1M274 89.5h1M274 90.5h1M274 91.5h1M274 92.5h1M274 93.5h1M274 94.5h1M274 95.5h1M274 96.5h1M274 97.5h1M274 98.5h1M274 99.5h1M274 100.5h1M274 101.5h1M274 102.5h1M274 103.5h1M275 74.5h1M275 75.5h1M275 76.5h1M275 77.5h1M275 78.5h1M275 79.5h1M275 80.5h1M275 81.5h1M275 82.5h1M275 83.5h1M275 84.5h1M275 85.5h1M275 86.5h1M275 87.5h1M275 88.5h1M275 89.5h1M275 90.5h1M275 91.5h1M275 92.5h1M275 93.5h1M275 94.5h1M275 95.5h1M275 96.5h1M275 97.5h1M275 98.5h1M275 99.5h1M275 100.5h1M275 101.5h1M276 70.5h1M276 71.5h1M276 72.5h1M276 74.5h1M276 75.5h1M276 76.5h1M276 77.5h1M276 78.5h1M276 79.5h1M276 80.5h1M276 81.5h1M276 82.5h1M276 83.5h1M276 84.5h1M276 85.5h1M276 86.5h1M276 87.5h1M276 88.5h1M276 89.5h1M276 90.5h1M276 91.5h1M276 92.5h1M276 93.5h1M276 94.5h1M276 95.5h1M276 96.5h1M276 97.5h1M276 98.5h1M276 99.5h1M276 100.5h1M276 101.5h1M276 102.5h1M276 103.5h1M277 60.5h1M277 71.5h1M277 72.5h1M277 74.5h1M277 75.5h1M277 76.5h1M277 77.5h1M277 78.5h1M277 79.5h1M277 80.5h1M277 81.5h1M277 82.5h1M277 83.5h1M277 84.5h1M277 85.5h1M277 86.5h1M277 87.5h1M277 88.5h1M277 89.5h1M277 90.5h1M277 91.5h1M277 92.5h1M277 93.5h1M277 94.5h1M277 95.5h1M277 96.5h1M277 97.5h1M277 98.5h1M277 99.5h1M277 100.5h1M277 101.5h1M277 102.5h1M278 70.5h1M278 71.5h1M278 72.5h1M278 73.5h1M278 74.5h1M278 75.5h1M278 76.5h1M278 77.5h1M278 78.5h1M278 79.5h1M278 80.5h1M278 81.5h1M278 82.5h1M278 83.5h1M278 84.5h1M278 85.5h1M278 86.5h1M278 87.5h1M278 88.5h1M278 89.5h1M278 90.5h1M278 91.5h1M278 92.5h1M278 93.5h1M278 94.5h1M278 95.5h1M278 96.5h1M278 97.5h1M278 98.5h1M278 99.5h1M278 100.5h1M278 101.5h1M278 102.5h1M279 69.5h1M279 71.5h1M279 72.5h1M279 73.5h1M279 74.5h1M279 75.5h1M279 76.5h1M279 77.5h1M279 78.5h1M279 79.5h1M279 80.5h1M279 81.5h1M279 82.5h1M279 83.5h1M279 84.5h1M279 85.5h1M279 86.5h1M279 87.5h1M279 88.5h1M279 89.5h1M279 90.5h1M279 91.5h1M279 92.5h1M279 93.5h1M279 94.5h1M279 95.5h1M279 96.5h1M279 97.5h1M279 98.5h1M279 99.5h1M279 100.5h1M279 101.5h1M280 71.5h1M280 72.5h1M280 73.5h1M280 74.5h1M280 75.5h1M280 77.5h1M280 78.5h1M280 79.5h1M280 80.5h1M280 81.5h1M280 82.5h1M280 83.5h1M280 84.5h1M280 85.5h1M280 86.5h1M280 87.5h1M280 88.5h1M280 89.5h1M280 90.5h1M280 91.5h1M280 92.5h1M280 93.5h1M280 94.5h1M280 95.5h1M280 96.5h1M280 97.5h1M280 98.5h1M280 99.5h1M280 100.5h1M280 101.5h1M280 102.5h1M280 103.5h1M281 69.5h1M281 70.5h1M281 71.5h1M281 72.5h1M281 73.5h1M281 74.5h1M281 75.5h1M281 76.5h1M281 77.5h1M281 78.5h1M281 79.5h1M281 80.5h1M281 81.5h1M281 82.5h1M281 83.5h1M281 84.5h1M281 85.5h1M281 86.5h1M281 87.5h1M281 88.5h1M281 89.5h1M281 90.5h1M281 91.5h1M281 92.5h1M281 93.5h1M281 94.5h1M281 95.5h1M281 96.5h1M281 97.5h1M281 98.5h1M281 99.5h1M281 100.5h1M281 101.5h1M281 102.5h1M281 103.5h1M282 42.5h1M282 61.5h1M282 70.5h1M282 71.5h1M282 72.5h1M282 73.5h1M282 74.5h1M282 75.5h1M282 76.5h1M282 77.5h1M282 78.5h1M282 79.5h1M282 80.5h1M282 81.5h1M282 82.5h1M282 83.5h1M282 84.5h1M282 85.5h1M282 86.5h1M282 87.5h1M282 88.5h1M282 89.5h1M282 90.5h1M282 91.5h1M282 92.5h1M282 93.5h1M282 94.5h1M282 95.5h1M282 96.5h1M282 97.5h1M282 98.5h1M282 99.5h1M282 100.5h1M282 101.5h1M282 102.5h1M283 49.5h1M283 60.5h1M283 66.5h1M283 68.5h1M283 69.5h1M283 72.5h1M283 73.5h1M283 74.5h1M283 75.5h1M283 76.5h1M283 77.5h1M283 78.5h1M283 79.5h1M283 80.5h1M283 81.5h1M283 82.5h1M283 83.5h1M283 84.5h1M283 85.5h1M283 86.5h1M283 87.5h1M283 88.5h1M283 89.5h1M283 90.5h1M283 91.5h1M283 92.5h1M283 93.5h1M283 94.5h1M283 95.5h1M283 96.5h1M283 97.5h1M283 98.5h1M283 99.5h1M283 100.5h1M283 101.5h1M283 102.5h1M283 103.5h1M284 64.5h1M284 68.5h1M284 70.5h1M284 71.5h1M284 72.5h1M284 73.5h1M284 74.5h1M284 75.5h1M284 76.5h1M284 77.5h1M284 78.5h1M284 79.5h1M284 80.5h1M284 81.5h1M284 82.5h1M284 83.5h1M284 84.5h1M284 85.5h1M284 86.5h1M284 87.5h1M284 88.5h1M284 89.5h1M284 90.5h1M284 91.5h1M284 92.5h1M284 93.5h1M284 94.5h1M284 95.5h1M284 96.5h1M284 97.5h1M284 98.5h1M284 99.5h1M284 100.5h1M284 101.5h1M284 102.5h1M284 103.5h1M285 58.5h1M285 68.5h1M285 69.5h1M285 70.5h1M285 71.5h1M285 72.5h1M285 73.5h1M285 74.5h1M285 75.5h1M285 76.5h1M285 77.5h1M285 78.5h1M285 79.5h1M285 80.5h1M285 81.5h1M285 82.5h1M285 83.5h1M285 84.5h1M285 85.5h1M285 86.5h1M285 87.5h1M285 88.5h1M285 89.5h1M285 90.5h1M285 91.5h1M285 92.5h1M285 93.5h1M285 94.5h1M285 95.5h1M285 96.5h1M285 97.5h1M285 98.5h1M285 99.5h1M285 100.5h1M285 101.5h1M285 102.5h1M285 103.5h1M286 66.5h1M286 69.5h1M286 70.5h1M286 71.5h1M286 72.5h1M286 73.5h1M286 74.5h1M286 75.5h1M286 76.5h1M286 77.5h1M286 78.5h1M286 79.5h1M286 80.5h1M286 81.5h1M286 82.5h1M286 83.5h1M286 84.5h1M286 85.5h1M286 86.5h1M286 87.5h1M286 88.5h1M286 89.5h1M286 90.5h1M286 91.5h1M286 92.5h1M286 93.5h1M286 94.5h1M286 95.5h1M286 96.5h1M286 97.5h1M286 98.5h1M286 99.5h1M286 100.5h1M286 101.5h1M286 102.5h1M286 103.5h1M287 39.5h1M287 47.5h1M287 52.5h1M287 53.5h1M287 59.5h1M287 62.5h1M287 63.5h1M287 64.5h1M287 68.5h1M287 69.5h1M287 70.5h1M287 71.5h1M287 72.5h1M287 73.5h1M287 74.5h1M287 75.5h1M287 76.5h1M287 77.5h1M287 78.5h1M287 79.5h1M287 80.5h1M287 81.5h1M287 82.5h1M287 83.5h1M287 84.5h1M287 85.5h1M287 86.5h1M287 87.5h1M287 88.5h1M287 89.5h1M287 90.5h1M287 91.5h1M287 92.5h1M287 93.5h1M287 94.5h1M287 95.5h1M287 96.5h1M287 97.5h1M287 98.5h1M287 99.5h1M287 100.5h1M287 101.5h1M287 102.5h1M288 20.5h1M288 40.5h1M288 44.5h1M288 54.5h1M288 58.5h1M288 60.5h1M288 62.5h1M288 63.5h1M288 64.5h1M288 68.5h1M288 70.5h1M288 71.5h1M288 72.5h1M288 73.5h1M288 74.5h1M288 76.5h1M288 77.5h1M288 78.5h1M288 79.5h1M288 80.5h1M288 81.5h1M288 82.5h1M288 83.5h1M288 84.5h1M288 85.5h1M288 86.5h1M288 87.5h1M288 88.5h1M288 89.5h1M288 90.5h1M288 91.5h1M288 92.5h1M288 93.5h1M288 94.5h1M288 95.5h1M288 96.5h1M288 97.5h1M288 98.5h1M288 99.5h1M288 100.5h1M288 101.5h1M288 102.5h1M288 103.5h1M289 36.5h1M289 43.5h1M289 55.5h1M289 56.5h1M289 61.5h1M289 67.5h1M289 68.5h1M289 69.5h1M289 71.5h1M289 72.5h1M289 73.5h1M289 74.5h1M289 75.5h1M289 76.5h1M289 77.5h1M289 78.5h1M289 79.5h1M289 80.5h1M289 81.5h1M289 82.5h1M289 83.5h1M289 84.5h1M289 85.5h1M289 86.5h1M289 87.5h1M289 88.5h1M289 89.5h1M289 90.5h1M289 91.5h1M289 92.5h1M289 93.5h1M289 94.5h1M289 95.5h1M289 96.5h1M289 97.5h1M289 98.5h1M289 99.5h1M289 100.5h1M289 101.5h1M289 102.5h1M289 103.5h1M290 35.5h1M290 41.5h1M290 47.5h1M290 57.5h1M290 62.5h1M290 71.5h1M290 72.5h1M290 73.5h1M290 74.5h1M290 75.5h1M290 76.5h1M290 77.5h1M290 78.5h1M290 79.5h1M290 80.5h1M290 81.5h1M290 82.5h1M290 83.5h1M290 84.5h1M290 85.5h1M290 86.5h1M290 87.5h1M290 88.5h1M290 89.5h1M290 90.5h1M290 91.5h1M290 92.5h1M290 93.5h1M290 94.5h1M290 95.5h1M290 96.5h1M290 97.5h1M290 98.5h1M290 99.5h1M290 100.5h1M290 101.5h1M290 102.5h1M291 34.5h1M291 44.5h1M291 52.5h1M291 58.5h1M291 59.5h1M291 60.5h1M291 61.5h1M291 65.5h1M291 70.5h1M291 72.5h1M291 73.5h1M291 74.5h1M291 75.5h1M291 76.5h1M291 77.5h1M291 78.5h1M291 79.5h1M291 80.5h1M291 81.5h1M291 82.5h1M291 83.5h1M291 84.5h1M291 85.5h1M291 86.5h1M291 87.5h1M291 88.5h1M291 89.5h1M291 90.5h1M291 91.5h1M291 92.5h1M291 93.5h1M291 94.5h1M291 95.5h1M291 96.5h1M291 97.5h1M291 98.5h1M291 99.5h1M291 100.5h1M291 101.5h1M291 103.5h1M292 33.5h1M292 41.5h1M292 55.5h1M292 65.5h1M292 71.5h1M292 72.5h1M292 73.5h1M292 74.5h1M292 75.5h1M292 76.5h1M292 77.5h1M292 78.5h1M292 79.5h1M292 80.5h1M292 81.5h1M292 82.5h1M292 83.5h1M292 84.5h1M292 85.5h1M292 86.5h1M292 87.5h1M292 88.5h1M292 89.5h1M292 90.5h1M292 91.5h1M292 92.5h1M292 93.5h1M292 94.5h1M292 95.5h1M292 96.5h1M292 97.5h1M292 98.5h1M292 99.5h1M292 100.5h1M292 101.5h1M292 102.5h1M292 103.5h1M293 42.5h1M293 45.5h1M293 47.5h1M293 51.5h1M293 71.5h1M293 74.5h1M293 75.5h1M293 76.5h1M293 77.5h1M293 78.5h1M293 79.5h1M293 80.5h1M293 81.5h1M293 82.5h1M293 83.5h1M293 84.5h1M293 85.5h1M293 86.5h1M293 87.5h1M293 88.5h1M293 89.5h1M293 90.5h1M293 91.5h1M293 92.5h1M293 93.5h1M293 94.5h1M293 95.5h1M293 96.5h1M293 97.5h1M293 98.5h1M293 99.5h1M293 100.5h1M293 101.5h1M293 102.5h1M293 103.5h1M294 46.5h1M294 60.5h1M294 63.5h1M294 73.5h1M294 74.5h1M294 76.5h1M294 77.5h1M294 78.5h1M294 79.5h1M294 80.5h1M294 81.5h1M294 82.5h1M294 83.5h1M294 84.5h1M294 85.5h1M294 86.5h1M294 87.5h1M294 88.5h1M294 89.5h1M294 90.5h1M294 91.5h1M294 92.5h1M294 93.5h1M294 94.5h1M294 95.5h1M294 96.5h1M294 97.5h1M294 98.5h1M294 99.5h1M294 101.5h1M294 102.5h1M294 103.5h1M295 44.5h1M295 57.5h1M295 66.5h1M295 74.5h1M295 78.5h1M295 79.5h1M295 81.5h1M295 82.5h1M295 83.5h1M295 84.5h1M295 85.5h1M295 86.5h1M295 87.5h1M295 88.5h1M295 89.5h1M295 90.5h1M295 91.5h1M295 92.5h1M295 93.5h1M295 94.5h1M295 95.5h1M295 96.5h1M295 97.5h1M295 98.5h1M295 99.5h1M295 100.5h1M295 101.5h1M295 102.5h1M296 46.5h1M296 56.5h1M296 61.5h1M296 74.5h1M296 78.5h1M296 79.5h1M296 80.5h1M296 81.5h1M296 82.5h1M296 83.5h1M296 84.5h1M296 85.5h1M296 86.5h1M296 87.5h1M296 88.5h1M296 89.5h1M296 90.5h1M296 91.5h1M296 92.5h1M296 93.5h1M296 94.5h1M296 95.5h1M296 96.5h1M296 97.5h1M296 98.5h1M296 99.5h1M296 100.5h1M297 34.5h1M297 39.5h1M297 80.5h1M297 82.5h1M297 83.5h1M297 84.5h1M297 85.5h1M297 86.5h1M297 87.5h1M297 89.5h1M297 91.5h1M297 93.5h1M297 95.5h1M297 96.5h1M297 98.5h1M297 99.5h1M297 100.5h1M297 102.5h1M297 103.5h1M298 80.5h1M298 83.5h1M298 84.5h1M298 85.5h1M298 88.5h1M298 89.5h1M298 90.5h1M298 91.5h1M298 92.5h1M298 94.5h1M298 95.5h1M299 79.5h1M299 80.5h1M299 83.5h1M299 85.5h1M299 87.5h1M299 95.5h1M303 32.5h1M420 88.5h1M423 87.5h1M424 76.5h1M424 79.5h1M424 81.5h1M424 88.5h1M425 75.5h1M425 78.5h1M425 79.5h1M425 81.5h1M425 83.5h1M426 72.5h1M426 75.5h1M426 77.5h1M426 78.5h1M426 79.5h1M426 80.5h1M426 82.5h1M426 86.5h1M427 74.5h1M427 76.5h1M427 77.5h1M427 80.5h1M427 81.5h1M427 84.5h1M427 86.5h1M427 91.5h1M428 74.5h1M428 75.5h1M428 76.5h1M428 77.5h1M428 78.5h1M428 79.5h1M428 80.5h1M428 81.5h1M428 82.5h1M428 83.5h1M428 84.5h1M428 85.5h1M428 86.5h1M428 96.5h1M429 70.5h1M429 71.5h1M429 73.5h1M429 74.5h1M429 76.5h1M429 77.5h1M429 78.5h1M429 79.5h1M429 80.5h1M429 81.5h1M429 83.5h1M429 84.5h1M429 85.5h1M429 89.5h1M430 73.5h1M430 74.5h1M430 75.5h1M430 76.5h1M430 77.5h1M430 78.5h1M430 79.5h1M430 80.5h1M430 81.5h1M430 82.5h1M430 83.5h1M430 84.5h1M430 85.5h1M430 87.5h1M430 89.5h1M430 92.5h1M431 71.5h1M431 72.5h1M431 73.5h1M431 74.5h1M431 75.5h1M431 76.5h1M431 77.5h1M431 78.5h1M431 79.5h1M431 80.5h1M431 81.5h1M431 82.5h1M431 83.5h1M431 84.5h1M431 85.5h1M431 86.5h1M431 87.5h1M431 88.5h1M431 89.5h1M431 90.5h1M431 94.5h1M432 71.5h1M432 72.5h1M432 73.5h1M432 74.5h1M432 75.5h1M432 76.5h1M432 77.5h1M432 78.5h1M432 79.5h1M432 80.5h1M432 81.5h1M432 82.5h1M432 83.5h1M432 84.5h1M432 85.5h1M432 86.5h1M432 88.5h1M432 89.5h1M432 90.5h1M432 91.5h1M432 92.5h1M432 94.5h1M433 72.5h1M433 73.5h1M433 74.5h1M433 75.5h1M433 76.5h1M433 77.5h1M433 78.5h1M433 79.5h1M433 80.5h1M433 81.5h1M433 82.5h1M433 83.5h1M433 84.5h1M433 85.5h1M433 86.5h1M433 87.5h1M433 88.5h1M433 89.5h1M433 90.5h1M433 92.5h1M433 93.5h1M433 95.5h1M433 97.5h1M434 68.5h1M434 69.5h1M434 70.5h1M434 72.5h1M434 74.5h1M434 75.5h1M434 76.5h1M434 77.5h1M434 78.5h1M434 79.5h1M434 80.5h1M434 81.5h1M434 82.5h1M434 83.5h1M434 84.5h1M434 85.5h1M434 86.5h1M434 87.5h1M434 88.5h1M434 89.5h1M434 90.5h1M434 91.5h1M434 92.5h1M434 93.5h1M434 94.5h1M434 95.5h1M434 96.5h1M434 97.5h1M435 67.5h1M435 70.5h1M435 71.5h1M435 72.5h1M435 73.5h1M435 74.5h1M435 75.5h1M435 76.5h1M435 77.5h1M435 78.5h1M435 79.5h1M435 80.5h1M435 81.5h1M435 82.5h1M435 83.5h1M435 84.5h1M435 85.5h1M435 86.5h1M435 87.5h1M435 88.5h1M435 89.5h1M435 90.5h1M435 92.5h1M435 93.5h1M435 94.5h1M435 95.5h1M435 96.5h1M435 100.5h1M436 53.5h1M436 68.5h1M436 70.5h1M436 71.5h1M436 72.5h1M436 73.5h1M436 74.5h1M436 75.5h1M436 76.5h1M436 77.5h1M436 78.5h1M436 79.5h1M436 80.5h1M436 81.5h1M436 82.5h1M436 83.5h1M436 84.5h1M436 85.5h1M436 86.5h1M436 87.5h1M436 88.5h1M436 89.5h1M436 90.5h1M436 91.5h1M436 92.5h1M436 93.5h1M436 94.5h1M436 95.5h1M436 97.5h1M436 98.5h1M436 99.5h1M436 100.5h1M436 102.5h1M437 69.5h1M437 71.5h1M437 72.5h1M437 73.5h1M437 74.5h1M437 75.5h1M437 76.5h1M437 77.5h1M437 78.5h1M437 79.5h1M437 80.5h1M437 81.5h1M437 82.5h1M437 83.5h1M437 84.5h1M437 85.5h1M437 86.5h1M437 87.5h1M437 88.5h1M437 89.5h1M437 90.5h1M437 91.5h1M437 92.5h1M437 93.5h1M437 94.5h1M437 95.5h1M437 96.5h1M437 97.5h1M437 98.5h1M437 99.5h1M437 101.5h1M438 60.5h1M438 67.5h1M438 69.5h1M438 70.5h1M438 71.5h1M438 72.5h1M438 73.5h1M438 74.5h1M438 75.5h1M438 76.5h1M438 77.5h1M438 78.5h1M438 79.5h1M438 81.5h1M438 82.5h1M438 83.5h1M438 84.5h1M438 85.5h1M438 86.5h1M438 87.5h1M438 88.5h1M438 89.5h1M438 90.5h1M438 91.5h1M438 92.5h1M438 93.5h1M438 94.5h1M438 95.5h1M438 96.5h1M438 97.5h1M438 98.5h1M438 99.5h1M438 100.5h1M438 101.5h1M439 70.5h1M439 71.5h1M439 72.5h1M439 73.5h1M439 74.5h1M439 75.5h1M439 76.5h1M439 77.5h1M439 78.5h1M439 79.5h1M439 80.5h1M439 81.5h1M439 82.5h1M439 83.5h1M439 84.5h1M439 85.5h1M439 86.5h1M439 87.5h1M439 88.5h1M439 89.5h1M439 90.5h1M439 91.5h1M439 92.5h1M439 93.5h1M439 94.5h1M439 95.5h1M439 96.5h1M439 97.5h1M439 98.5h1M439 99.5h1M439 100.5h1M439 101.5h1M439 102.5h1M440 67.5h1M440 68.5h1M440 69.5h1M440 71.5h1M440 72.5h1M440 73.5h1M440 74.5h1M440 75.5h1M440 76.5h1M440 77.5h1M440 78.5h1M440 79.5h1M440 80.5h1M440 81.5h1M440 82.5h1M440 83.5h1M440 84.5h1M440 85.5h1M440 86.5h1M440 87.5h1M440 88.5h1M440 89.5h1M440 90.5h1M440 91.5h1M440 92.5h1M440 93.5h1M440 94.5h1M440 95.5h1M440 96.5h1M440 97.5h1M440 98.5h1M440 99.5h1M440 100.5h1M440 101.5h1M441 69.5h1M441 70.5h1M441 71.5h1M441 72.5h1M441 73.5h1M441 74.5h1M441 75.5h1M441 76.5h1M441 77.5h1M441 78.5h1M441 79.5h1M441 80.5h1M441 81.5h1M441 82.5h1M441 83.5h1M441 84.5h1M441 85.5h1M441 86.5h1M441 87.5h1M441 88.5h1M441 89.5h1M441 90.5h1M441 91.5h1M441 92.5h1M441 93.5h1M441 94.5h1M441 95.5h1M441 96.5h1M441 97.5h1M441 98.5h1M441 99.5h1M441 100.5h1M441 101.5h1M442 65.5h1M442 69.5h1M442 70.5h1M442 71.5h1M442 72.5h1M442 73.5h1M442 74.5h1M442 75.5h1M442 76.5h1M442 77.5h1M442 78.5h1M442 79.5h1M442 80.5h1M442 81.5h1M442 82.5h1M442 83.5h1M442 84.5h1M442 85.5h1M442 86.5h1M442 87.5h1M442 88.5h1M442 89.5h1M442 90.5h1M442 91.5h1M442 92.5h1M442 93.5h1M442 94.5h1M442 95.5h1M442 96.5h1M442 97.5h1M442 98.5h1M442 99.5h1M442 100.5h1M442 101.5h1M442 102.5h1M442 103.5h1M443 49.5h1M443 57.5h1M443 68.5h1M443 71.5h1M443 72.5h1M443 73.5h1M443 74.5h1M443 75.5h1M443 76.5h1M443 77.5h1M443 78.5h1M443 79.5h1M443 80.5h1M443 81.5h1M443 82.5h1M443 83.5h1M443 84.5h1M443 85.5h1M443 86.5h1M443 87.5h1M443 88.5h1M443 89.5h1M443 90.5h1M443 91.5h1M443 92.5h1M443 93.5h1M443 94.5h1M443 95.5h1M443 96.5h1M443 97.5h1M443 98.5h1M443 99.5h1M443 100.5h1M443 101.5h1M443 102.5h1M443 103.5h1M444 69.5h1M444 70.5h1M444 71.5h1M444 72.5h1M444 73.5h1M444 75.5h1M444 76.5h1M444 77.5h1M444 78.5h1M444 79.5h1M444 80.5h1M444 81.5h1M444 82.5h1M444 83.5h1M444 84.5h1M444 85.5h1M444 86.5h1M444 87.5h1M444 88.5h1M444 89.5h1M444 90.5h1M444 91.5h1M444 92.5h1M444 93.5h1M444 94.5h1M444 95.5h1M444 96.5h1M444 97.5h1M444 99.5h1M444 100.5h1M444 101.5h1M444 102.5h1M444 103.5h1M445 54.5h1M445 68.5h1M445 69.5h1M445 70.5h1M445 71.5h1M445 72.5h1M445 73.5h1M445 74.5h1M445 75.5h1M445 76.5h1M445 77.5h1M445 78.5h1M445 79.5h1M445 80.5h1M445 81.5h1M445 82.5h1M445 83.5h1M445 84.5h1M445 85.5h1M445 86.5h1M445 87.5h1M445 88.5h1M445 89.5h1M445 90.5h1M445 91.5h1M445 92.5h1M445 93.5h1M445 94.5h1M445 95.5h1M445 96.5h1M445 97.5h1M445 98.5h1M445 99.5h1M445 100.5h1M445 101.5h1M445 102.5h1M446 56.5h1M446 59.5h1M446 69.5h1M446 71.5h1M446 72.5h1M446 73.5h1M446 74.5h1M446 75.5h1M446 76.5h1M446 77.5h1M446 78.5h1M446 79.5h1M446 80.5h1M446 81.5h1M446 82.5h1M446 83.5h1M446 84.5h1M446 85.5h1M446 86.5h1M446 87.5h1M446 88.5h1M446 89.5h1M446 90.5h1M446 91.5h1M446 92.5h1M446 93.5h1M446 94.5h1M446 96.5h1M446 97.5h1M446 98.5h1M446 99.5h1M446 100.5h1M446 101.5h1M446 102.5h1M447 69.5h1M447 70.5h1M447 71.5h1M447 72.5h1M447 73.5h1M447 74.5h1M447 75.5h1M447 76.5h1M447 77.5h1M447 78.5h1M447 79.5h1M447 80.5h1M447 81.5h1M447 82.5h1M447 83.5h1M447 84.5h1M447 85.5h1M447 86.5h1M447 87.5h1M447 88.5h1M447 89.5h1M447 90.5h1M447 91.5h1M447 92.5h1M447 93.5h1M447 94.5h1M447 95.5h1M447 96.5h1M447 97.5h1M447 98.5h1M447 99.5h1M447 100.5h1M447 101.5h1M447 103.5h1M448 57.5h1M448 71.5h1M448 72.5h1M448 73.5h1M448 75.5h1M448 76.5h1M448 77.5h1M448 78.5h1M448 79.5h1M448 80.5h1M448 81.5h1M448 82.5h1M448 83.5h1M448 84.5h1M448 85.5h1M448 86.5h1M448 87.5h1M448 88.5h1M448 89.5h1M448 90.5h1M448 91.5h1M448 92.5h1M448 93.5h1M448 94.5h1M448 95.5h1M448 96.5h1M448 97.5h1M448 98.5h1M448 99.5h1M448 100.5h1M448 101.5h1M449 68.5h1M449 70.5h1M449 71.5h1M449 73.5h1M449 74.5h1M449 75.5h1M449 76.5h1M449 77.5h1M449 78.5h1M449 79.5h1M449 80.5h1M449 81.5h1M449 82.5h1M449 83.5h1M449 84.5h1M449 85.5h1M449 86.5h1M449 87.5h1M449 88.5h1M449 89.5h1M449 90.5h1M449 91.5h1M449 92.5h1M449 93.5h1M449 94.5h1M449 95.5h1M449 96.5h1M449 97.5h1M449 99.5h1M450 66.5h1M450 70.5h1M450 71.5h1M450 72.5h1M450 73.5h1M450 74.5h1M450 75.5h1M450 76.5h1M450 77.5h1M450 78.5h1M450 79.5h1M450 80.5h1M450 81.5h1M450 82.5h1M450 83.5h1M450 84.5h1M450 85.5h1M450 86.5h1M450 87.5h1M450 88.5h1M450 89.5h1M450 90.5h1M450 91.5h1M450 92.5h1M450 93.5h1M450 94.5h1M450 95.5h1M450 97.5h1M450 98.5h1M450 103.5h1M451 70.5h1M451 72.5h1M451 74.5h1M451 75.5h1M451 76.5h1M451 77.5h1M451 78.5h1M451 79.5h1M451 80.5h1M451 81.5h1M451 82.5h1M451 83.5h1M451 84.5h1M451 85.5h1M451 86.5h1M451 87.5h1M451 88.5h1M451 89.5h1M451 90.5h1M451 91.5h1M451 93.5h1M451 94.5h1M451 95.5h1M451 96.5h1M452 63.5h1M452 68.5h1M452 71.5h1M452 72.5h1M452 73.5h1M452 74.5h1M452 75.5h1M452 76.5h1M452 77.5h1M452 78.5h1M452 79.5h1M452 80.5h1M452 81.5h1M452 82.5h1M452 83.5h1M452 84.5h1M452 85.5h1M452 86.5h1M452 87.5h1M452 88.5h1M452 89.5h1M452 90.5h1M452 91.5h1M452 93.5h1M452 94.5h1M452 96.5h1M452 98.5h1M453 69.5h1M453 73.5h1M453 74.5h1M453 75.5h1M453 76.5h1M453 77.5h1M453 78.5h1M453 79.5h1M453 80.5h1M453 81.5h1M453 82.5h1M453 83.5h1M453 84.5h1M453 85.5h1M453 86.5h1M453 87.5h1M453 88.5h1M453 89.5h1M453 90.5h1M453 92.5h1M453 96.5h1M454 65.5h1M454 68.5h1M454 70.5h1M454 72.5h1M454 73.5h1M454 74.5h1M454 75.5h1M454 76.5h1M454 77.5h1M454 78.5h1M454 79.5h1M454 80.5h1M454 81.5h1M454 82.5h1M454 83.5h1M454 84.5h1M454 85.5h1M454 86.5h1M454 89.5h1M454 92.5h1M454 101.5h1M455 56.5h1M455 72.5h1M455 73.5h1M455 74.5h1M455 75.5h1M455 76.5h1M455 77.5h1M455 78.5h1M455 79.5h1M455 80.5h1M455 81.5h1M455 82.5h1M455 83.5h1M455 84.5h1M455 85.5h1M455 86.5h1M455 87.5h1M455 88.5h1M455 93.5h1M455 94.5h1M456 64.5h1M456 73.5h1M456 75.5h1M456 76.5h1M456 77.5h1M456 78.5h1M456 80.5h1M456 81.5h1M456 82.5h1M456 83.5h1M456 84.5h1M456 85.5h1M456 86.5h1M456 87.5h1M456 88.5h1M456 89.5h1M456 90.5h1M457 56.5h1M457 62.5h1M457 71.5h1M457 74.5h1M457 75.5h1M457 76.5h1M457 77.5h1M457 78.5h1M457 79.5h1M457 81.5h1M457 82.5h1M457 83.5h1M457 84.5h1M457 85.5h1M457 86.5h1M457 88.5h1M457 89.5h1M458 72.5h1M458 75.5h1M458 76.5h1M458 77.5h1M458 78.5h1M458 79.5h1M458 80.5h1M458 81.5h1M458 82.5h1M458 83.5h1M458 85.5h1M458 88.5h1M458 93.5h1M459 61.5h1M459 73.5h1M459 74.5h1M459 76.5h1M459 77.5h1M459 78.5h1M459 79.5h1M459 80.5h1M459 83.5h1M459 84.5h1M459 86.5h1M460 33.5h1M460 67.5h1M460 76.5h1M460 77.5h1M460 78.5h1M460 82.5h1M460 83.5h1M460 85.5h1M460 88.5h1M461 71.5h1M461 76.5h1M461 77.5h1M461 81.5h1M462 42.5h1M462 80.5h1M462 82.5h1M462 83.5h1M463 50.5h1M463 77.5h1M463 78.5h1M463 80.5h1M463 87.5h1M464 36.5h1M464 39.5h1M464 78.5h1M464 86.5h1M464 91.5h1M465 75.5h1M465 85.5h1M466 72.5h1M467 29.5h1M467 40.5h1M467 41.5h1M467 49.5h1M467 56.5h1M467 78.5h1M467 82.5h1M467 83.5h1M467 85.5h1M467 98.5h1M468 37.5h1M468 46.5h1M468 48.5h1M468 53.5h1M468 54.5h1M468 58.5h1M468 77.5h1M468 80.5h1M468 87.5h1M469 39.5h1M469 41.5h1M469 78.5h1M469 83.5h1M470 36.5h1M470 41.5h1M470 42.5h1M470 43.5h1M470 47.5h1M470 78.5h1M470 80.5h1M470 84.5h1M470 85.5h1M471 41.5h1M471 42.5h1M471 80.5h1M471 90.5h1M472 32.5h1M472 35.5h1M472 40.5h1M472 79.5h1M472 85.5h1M473 35.5h1M473 43.5h1M473 82.5h1M473 84.5h1M474 37.5h1M474 43.5h1M474 54.5h1M474 77.5h1M474 86.5h1M475 30.5h1M475 52.5h1M475 53.5h1M475 93.5h1M477 58.5h1M477 85.5h1M479 49.5h1M480 57.5h1M480 90.5h1M482 80.5h1M103 229.5h1M103 233.5h1M104 218.5h1M104 224.5h1M104 232.5h1M104 233.5h1M105 228.5h1M105 229.5h1M105 236.5h1M105 237.5h1M106 220.5h1M106 225.5h1M106 226.5h1M106 228.5h1M106 231.5h1M106 233.5h1M107 218.5h1M107 219.5h1M107 220.5h1M107 221.5h1M107 223.5h1M107 226.5h1M107 228.5h1M107 230.5h1M107 233.5h1M107 235.5h1M108 213.5h1M108 219.5h1M108 220.5h1M108 222.5h1M108 224.5h1M108 226.5h1M108 227.5h1M108 228.5h1M108 229.5h1M108 230.5h1M108 231.5h1M108 232.5h1M108 233.5h1M109 218.5h1M109 219.5h1M109 220.5h1M109 221.5h1M109 222.5h1M109 223.5h1M109 224.5h1M109 225.5h1M109 226.5h1M109 227.5h1M109 229.5h1M109 230.5h1M109 232.5h1M109 236.5h1M109 237.5h1M110 213.5h1M110 215.5h1M110 217.5h1M110 220.5h1M110 222.5h1M110 223.5h1M110 224.5h1M110 225.5h1M110 226.5h1M110 227.5h1M110 228.5h1M110 229.5h1M110 230.5h1M110 231.5h1M110 232.5h1M110 233.5h1M110 234.5h1M110 236.5h1M110 238.5h1M110 241.5h1M111 211.5h1M111 214.5h1M111 218.5h1M111 219.5h1M111 220.5h1M111 221.5h1M111 222.5h1M111 223.5h1M111 224.5h1M111 225.5h1M111 226.5h1M111 227.5h1M111 228.5h1M111 229.5h1M111 230.5h1M111 231.5h1M111 232.5h1M111 233.5h1M111 234.5h1M111 236.5h1M111 241.5h1M112 211.5h1M112 212.5h1M112 213.5h1M112 215.5h1M112 216.5h1M112 217.5h1M112 218.5h1M112 219.5h1M112 220.5h1M112 221.5h1M112 222.5h1M112 223.5h1M112 224.5h1M112 225.5h1M112 226.5h1M112 227.5h1M112 228.5h1M112 229.5h1M112 230.5h1M112 231.5h1M112 232.5h1M112 233.5h1M112 236.5h1M113 215.5h1M113 216.5h1M113 217.5h1M113 218.5h1M113 219.5h1M113 220.5h1M113 221.5h1M113 222.5h1M113 223.5h1M113 224.5h1M113 225.5h1M113 226.5h1M113 227.5h1M113 228.5h1M113 229.5h1M113 230.5h1M113 231.5h1M113 233.5h1M113 234.5h1M113 235.5h1M114 210.5h1M114 213.5h1M114 214.5h1M114 215.5h1M114 216.5h1M114 217.5h1M114 218.5h1M114 219.5h1M114 220.5h1M114 221.5h1M114 222.5h1M114 223.5h1M114 224.5h1M114 225.5h1M114 226.5h1M114 227.5h1M114 228.5h1M114 229.5h1M114 230.5h1M114 231.5h1M114 232.5h1M114 233.5h1M114 234.5h1M114 235.5h1M114 236.5h1M114 238.5h1M114 240.5h1M115 212.5h1M115 214.5h1M115 215.5h1M115 216.5h1M115 217.5h1M115 218.5h1M115 219.5h1M115 220.5h1M115 221.5h1M115 222.5h1M115 223.5h1M115 224.5h1M115 225.5h1M115 226.5h1M115 227.5h1M115 228.5h1M115 229.5h1M115 230.5h1M115 231.5h1M115 232.5h1M115 233.5h1M115 234.5h1M115 235.5h1M115 236.5h1M115 237.5h1M115 238.5h1M115 239.5h1M115 240.5h1M116 208.5h1M116 210.5h1M116 211.5h1M116 212.5h1M116 214.5h1M116 215.5h1M116 216.5h1M116 217.5h1M116 218.5h1M116 219.5h1M116 220.5h1M116 221.5h1M116 222.5h1M116 223.5h1M116 224.5h1M116 225.5h1M116 226.5h1M116 227.5h1M116 228.5h1M116 229.5h1M116 230.5h1M116 231.5h1M116 232.5h1M116 233.5h1M116 234.5h1M116 235.5h1M116 236.5h1M116 237.5h1M116 238.5h1M116 241.5h1M117 210.5h1M117 212.5h1M117 213.5h1M117 214.5h1M117 215.5h1M117 216.5h1M117 217.5h1M117 218.5h1M117 219.5h1M117 220.5h1M117 221.5h1M117 222.5h1M117 223.5h1M117 224.5h1M117 225.5h1M117 226.5h1M117 227.5h1M117 228.5h1M117 229.5h1M117 230.5h1M117 231.5h1M117 232.5h1M117 233.5h1M117 234.5h1M117 235.5h1M117 236.5h1M117 238.5h1M117 239.5h1M117 241.5h1M118 211.5h1M118 212.5h1M118 213.5h1M118 214.5h1M118 215.5h1M118 216.5h1M118 217.5h1M118 218.5h1M118 219.5h1M118 220.5h1M118 221.5h1M118 222.5h1M118 223.5h1M118 224.5h1M118 225.5h1M118 226.5h1M118 227.5h1M118 228.5h1M118 229.5h1M118 230.5h1M118 231.5h1M118 232.5h1M118 233.5h1M118 234.5h1M118 235.5h1M118 236.5h1M118 238.5h1M118 239.5h1M119 209.5h1M119 210.5h1M119 211.5h1M119 212.5h1M119 213.5h1M119 214.5h1M119 215.5h1M119 216.5h1M119 217.5h1M119 218.5h1M119 219.5h1M119 220.5h1M119 221.5h1M119 222.5h1M119 223.5h1M119 224.5h1M119 225.5h1M119 226.5h1M119 227.5h1M119 228.5h1M119 229.5h1M119 230.5h1M119 231.5h1M119 232.5h1M119 233.5h1M119 234.5h1M119 235.5h1M119 237.5h1M120 210.5h1M120 211.5h1M120 212.5h1M120 213.5h1M120 214.5h1M120 215.5h1M120 216.5h1M120 217.5h1M120 218.5h1M120 219.5h1M120 220.5h1M120 221.5h1M120 222.5h1M120 223.5h1M120 224.5h1M120 225.5h1M120 226.5h1M120 227.5h1M120 228.5h1M120 229.5h1M120 230.5h1M120 231.5h1M120 232.5h1M120 233.5h1M120 234.5h1M120 235.5h1M120 236.5h1M120 237.5h1M120 238.5h1M120 240.5h1M120 241.5h1M121 207.5h1M121 208.5h1M121 210.5h1M121 211.5h1M121 212.5h1M121 213.5h1M121 214.5h1M121 215.5h1M121 216.5h1M121 217.5h1M121 218.5h1M121 219.5h1M121 220.5h1M121 221.5h1M121 222.5h1M121 223.5h1M121 224.5h1M121 225.5h1M121 226.5h1M121 227.5h1M121 228.5h1M121 229.5h1M121 230.5h1M121 231.5h1M121 232.5h1M121 233.5h1M121 234.5h1M121 235.5h1M121 236.5h1M121 237.5h1M121 238.5h1M121 239.5h1M121 241.5h1M122 210.5h1M122 212.5h1M122 213.5h1M122 214.5h1M122 215.5h1M122 216.5h1M122 217.5h1M122 218.5h1M122 219.5h1M122 220.5h1M122 221.5h1M122 222.5h1M122 223.5h1M122 224.5h1M122 225.5h1M122 226.5h1M122 227.5h1M122 228.5h1M122 229.5h1M122 230.5h1M122 231.5h1M122 232.5h1M122 233.5h1M122 234.5h1M122 235.5h1M122 236.5h1M122 237.5h1M122 238.5h1M122 239.5h1M123 207.5h1M123 211.5h1M123 212.5h1M123 213.5h1M123 214.5h1M123 215.5h1M123 216.5h1M123 217.5h1M123 218.5h1M123 219.5h1M123 220.5h1M123 221.5h1M123 222.5h1M123 223.5h1M123 224.5h1M123 225.5h1M123 226.5h1M123 227.5h1M123 228.5h1M123 229.5h1M123 230.5h1M123 231.5h1M123 232.5h1M123 233.5h1M123 234.5h1M123 235.5h1M123 236.5h1M123 237.5h1M123 238.5h1M124 207.5h1M124 208.5h1M124 209.5h1M124 210.5h1M124 211.5h1M124 212.5h1M124 213.5h1M124 214.5h1M124 215.5h1M124 216.5h1M124 217.5h1M124 218.5h1M124 219.5h1M124 220.5h1M124 221.5h1M124 222.5h1M124 223.5h1M124 224.5h1M124 225.5h1M124 226.5h1M124 227.5h1M124 228.5h1M124 229.5h1M124 230.5h1M124 231.5h1M124 232.5h1M124 233.5h1M124 234.5h1M124 235.5h1M124 236.5h1M124 238.5h1M125 206.5h1M125 207.5h1M125 210.5h1M125 211.5h1M125 212.5h1M125 213.5h1M125 214.5h1M125 215.5h1M125 216.5h1M125 217.5h1M125 218.5h1M125 219.5h1M125 220.5h1M125 221.5h1M125 222.5h1M125 223.5h1M125 224.5h1M125 225.5h1M125 226.5h1M125 227.5h1M125 228.5h1M125 229.5h1M125 230.5h1M125 231.5h1M125 232.5h1M125 233.5h1M125 234.5h1M125 235.5h1M125 237.5h1M126 205.5h1M126 207.5h1M126 208.5h1M126 210.5h1M126 211.5h1M126 212.5h1M126 213.5h1M126 214.5h1M126 215.5h1M126 216.5h1M126 217.5h1M126 218.5h1M126 219.5h1M126 220.5h1M126 221.5h1M126 222.5h1M126 223.5h1M126 224.5h1M126 225.5h1M126 226.5h1M126 227.5h1M126 228.5h1M126 229.5h1M126 230.5h1M126 231.5h1M126 232.5h1M126 233.5h1M126 234.5h1M126 235.5h1M126 236.5h1M126 238.5h1M127 204.5h1M127 206.5h1M127 207.5h1M127 208.5h1M127 210.5h1M127 211.5h1M127 212.5h1M127 213.5h1M127 214.5h1M127 215.5h1M127 216.5h1M127 217.5h1M127 218.5h1M127 219.5h1M127 220.5h1M127 221.5h1M127 222.5h1M127 223.5h1M127 224.5h1M127 225.5h1M127 226.5h1M127 227.5h1M127 228.5h1M127 229.5h1M127 230.5h1M127 231.5h1M127 232.5h1M127 233.5h1M127 234.5h1M127 235.5h1M127 236.5h1M127 237.5h1M128 203.5h1M128 206.5h1M128 207.5h1M128 208.5h1M128 209.5h1M128 210.5h1M128 211.5h1M128 212.5h1M128 213.5h1M128 214.5h1M128 215.5h1M128 216.5h1M128 217.5h1M128 218.5h1M128 219.5h1M128 220.5h1M128 221.5h1M128 222.5h1M128 223.5h1M128 224.5h1M128 225.5h1M128 226.5h1M128 227.5h1M128 228.5h1M128 229.5h1M128 230.5h1M128 231.5h1M128 232.5h1M128 233.5h1M128 234.5h1M128 236.5h1M128 237.5h1M128 240.5h1M129 203.5h1M129 204.5h1M129 205.5h1M129 206.5h1M129 207.5h1M129 208.5h1M129 209.5h1M129 210.5h1M129 211.5h1M129 213.5h1M129 214.5h1M129 215.5h1M129 216.5h1M129 217.5h1M129 218.5h1M129 219.5h1M129 220.5h1M129 221.5h1M129 222.5h1M129 223.5h1M129 224.5h1M129 225.5h1M129 226.5h1M129 227.5h1M129 228.5h1M129 229.5h1M129 230.5h1M129 231.5h1M129 232.5h1M129 233.5h1M129 234.5h1M129 235.5h1M130 202.5h1M130 203.5h1M130 205.5h1M130 206.5h1M130 207.5h1M130 208.5h1M130 209.5h1M130 210.5h1M130 211.5h1M130 212.5h1M130 213.5h1M130 214.5h1M130 215.5h1M130 216.5h1M130 217.5h1M130 218.5h1M130 219.5h1M130 220.5h1M130 221.5h1M130 222.5h1M130 223.5h1M130 224.5h1M130 225.5h1M130 226.5h1M130 227.5h1M130 228.5h1M130 229.5h1M130 230.5h1M130 231.5h1M130 232.5h1M130 233.5h1M130 234.5h1M130 235.5h1M130 236.5h1M131 205.5h1M131 206.5h1M131 207.5h1M131 208.5h1M131 209.5h1M131 210.5h1M131 211.5h1M131 212.5h1M131 213.5h1M131 214.5h1M131 215.5h1M131 216.5h1M131 217.5h1M131 218.5h1M131 219.5h1M131 220.5h1M131 221.5h1M131 222.5h1M131 223.5h1M131 224.5h1M131 225.5h1M131 226.5h1M131 227.5h1M131 228.5h1M131 229.5h1M131 230.5h1M131 231.5h1M131 232.5h1M131 234.5h1M131 235.5h1M131 236.5h1M132 204.5h1M132 205.5h1M132 206.5h1M132 207.5h1M132 208.5h1M132 209.5h1M132 210.5h1M132 211.5h1M132 212.5h1M132 213.5h1M132 214.5h1M132 215.5h1M132 216.5h1M132 217.5h1M132 218.5h1M132 219.5h1M132 220.5h1M132 221.5h1M132 222.5h1M132 223.5h1M132 224.5h1M132 225.5h1M132 226.5h1M132 227.5h1M132 228.5h1M132 229.5h1M132 230.5h1M132 231.5h1M132 232.5h1M132 233.5h1M132 234.5h1M132 237.5h1M133 203.5h1M133 204.5h1M133 205.5h1M133 206.5h1M133 207.5h1M133 208.5h1M133 209.5h1M133 210.5h1M133 211.5h1M133 212.5h1M133 213.5h1M133 214.5h1M133 215.5h1M133 216.5h1M133 217.5h1M133 218.5h1M133 219.5h1M133 220.5h1M133 221.5h1M133 222.5h1M133 223.5h1M133 224.5h1M133 225.5h1M133 226.5h1M133 227.5h1M133 228.5h1M133 229.5h1M133 230.5h1M133 231.5h1M133 232.5h1M133 234.5h1M133 235.5h1M134 203.5h1M134 204.5h1M134 205.5h1M134 206.5h1M134 207.5h1M134 208.5h1M134 209.5h1M134 210.5h1M134 211.5h1M134 212.5h1M134 213.5h1M134 214.5h1M134 215.5h1M134 216.5h1M134 217.5h1M134 218.5h1M134 219.5h1M134 220.5h1M134 221.5h1M134 222.5h1M134 223.5h1M134 224.5h1M134 225.5h1M134 226.5h1M134 227.5h1M134 228.5h1M134 229.5h1M134 232.5h1M134 233.5h1M135 202.5h1M135 203.5h1M135 204.5h1M135 205.5h1M135 206.5h1M135 207.5h1M135 208.5h1M135 209.5h1M135 210.5h1M135 211.5h1M135 212.5h1M135 213.5h1M135 214.5h1M135 215.5h1M135 216.5h1M135 217.5h1M135 218.5h1M135 219.5h1M135 220.5h1M135 221.5h1M135 222.5h1M135 223.5h1M135 224.5h1M135 225.5h1M135 226.5h1M135 227.5h1M135 228.5h1M135 229.5h1M135 230.5h1M135 231.5h1M135 235.5h1M136 203.5h1M136 204.5h1M136 205.5h1M136 206.5h1M136 207.5h1M136 208.5h1M136 209.5h1M136 210.5h1M136 211.5h1M136 213.5h1M136 214.5h1M136 215.5h1M136 216.5h1M136 217.5h1M136 218.5h1M136 219.5h1M136 220.5h1M136 221.5h1M136 222.5h1M136 223.5h1M136 224.5h1M136 225.5h1M136 226.5h1M136 227.5h1M136 228.5h1M136 230.5h1M136 231.5h1M136 233.5h1M137 202.5h1M137 203.5h1M137 204.5h1M137 205.5h1M137 206.5h1M137 207.5h1M137 208.5h1M137 209.5h1M137 210.5h1M137 211.5h1M137 212.5h1M137 213.5h1M137 214.5h1M137 216.5h1M137 217.5h1M137 218.5h1M137 219.5h1M137 220.5h1M137 221.5h1M137 222.5h1M137 223.5h1M137 224.5h1M137 225.5h1M137 226.5h1M137 227.5h1M137 228.5h1M137 229.5h1M137 230.5h1M137 231.5h1M137 234.5h1M138 198.5h1M138 199.5h1M138 201.5h1M138 203.5h1M138 204.5h1M138 205.5h1M138 206.5h1M138 207.5h1M138 208.5h1M138 209.5h1M138 211.5h1M138 212.5h1M138 213.5h1M138 214.5h1M138 215.5h1M138 216.5h1M138 217.5h1M138 218.5h1M138 219.5h1M138 221.5h1M138 222.5h1M138 223.5h1M138 224.5h1M138 225.5h1M138 226.5h1M138 227.5h1M138 228.5h1M138 229.5h1M138 231.5h1M138 233.5h1M139 201.5h1M139 202.5h1M139 203.5h1M139 204.5h1M139 205.5h1M139 206.5h1M139 207.5h1M139 208.5h1M139 209.5h1M139 210.5h1M139 211.5h1M139 212.5h1M139 213.5h1M139 214.5h1M139 215.5h1M139 216.5h1M139 218.5h1M139 219.5h1M139 222.5h1M139 223.5h1M139 224.5h1M139 225.5h1M139 226.5h1M139 228.5h1M139 229.5h1M140 202.5h1M140 203.5h1M140 204.5h1M140 205.5h1M140 206.5h1M140 207.5h1M140 208.5h1M140 209.5h1M140 210.5h1M140 211.5h1M140 212.5h1M140 213.5h1M140 214.5h1M140 215.5h1M140 216.5h1M140 217.5h1M140 218.5h1M140 219.5h1M140 220.5h1M140 222.5h1M140 223.5h1M140 224.5h1M140 225.5h1M140 227.5h1M141 200.5h1M141 201.5h1M141 202.5h1M141 203.5h1M141 204.5h1M141 205.5h1M141 206.5h1M141 207.5h1M141 208.5h1M141 209.5h1M141 210.5h1M141 211.5h1M141 213.5h1M141 214.5h1M141 215.5h1M141 216.5h1M141 217.5h1M141 218.5h1M141 220.5h1M141 221.5h1M141 222.5h1M141 225.5h1M141 226.5h1M141 227.5h1M141 228.5h1M142 200.5h1M142 202.5h1M142 204.5h1M142 205.5h1M142 206.5h1M142 207.5h1M142 208.5h1M142 209.5h1M142 210.5h1M142 211.5h1M142 212.5h1M142 213.5h1M142 216.5h1M142 217.5h1M142 218.5h1M142 221.5h1M142 226.5h1M143 200.5h1M143 201.5h1M143 202.5h1M143 203.5h1M143 204.5h1M143 205.5h1M143 206.5h1M143 207.5h1M143 208.5h1M143 209.5h1M143 210.5h1M143 211.5h1M143 212.5h1M143 213.5h1M143 214.5h1M143 216.5h1M143 217.5h1M143 218.5h1M143 219.5h1M143 222.5h1M143 226.5h1M144 200.5h1M144 201.5h1M144 203.5h1M144 204.5h1M144 205.5h1M144 206.5h1M144 207.5h1M144 208.5h1M144 209.5h1M144 210.5h1M144 211.5h1M144 212.5h1M145 202.5h1M145 203.5h1M145 204.5h1M145 205.5h1M145 206.5h1M145 207.5h1M145 208.5h1M145 210.5h1M145 211.5h1M145 212.5h1M145 213.5h1M145 214.5h1M145 222.5h1M146 202.5h1M146 203.5h1M146 204.5h1M146 205.5h1M146 206.5h1M146 207.5h1M146 208.5h1M146 209.5h1M146 210.5h1M146 211.5h1M146 212.5h1M146 214.5h1M147 201.5h1M147 202.5h1M147 203.5h1M147 204.5h1M147 205.5h1M147 206.5h1M147 207.5h1M147 208.5h1M147 209.5h1M147 210.5h1M147 211.5h1M147 212.5h1M147 214.5h1M147 215.5h1M147 224.5h1M147 227.5h1M148 200.5h1M148 201.5h1M148 202.5h1M148 203.5h1M148 204.5h1M148 205.5h1M148 206.5h1M148 207.5h1M148 208.5h1M148 209.5h1M148 210.5h1M148 211.5h1M148 212.5h1M148 213.5h1M149 198.5h1M149 199.5h1M149 200.5h1M149 201.5h1M149 203.5h1M149 205.5h1M149 206.5h1M149 207.5h1M149 209.5h1M149 210.5h1M149 211.5h1M149 212.5h1M149 216.5h1M150 201.5h1M150 202.5h1M150 204.5h1M150 205.5h1M150 206.5h1M150 207.5h1M150 208.5h1M150 209.5h1M150 210.5h1M150 211.5h1M150 214.5h1M150 215.5h1M151 200.5h1M151 202.5h1M151 204.5h1M151 205.5h1M151 206.5h1M151 207.5h1M151 208.5h1M151 209.5h1M151 211.5h1M151 214.5h1M152 202.5h1M152 203.5h1M152 204.5h1M152 205.5h1M152 206.5h1M152 207.5h1M152 208.5h1M152 209.5h1M152 210.5h1M152 211.5h1M153 203.5h1M153 204.5h1M153 205.5h1M153 206.5h1M153 207.5h1M153 208.5h1M153 209.5h1M153 210.5h1M153 211.5h1M153 213.5h1M153 214.5h1M153 215.5h1M154 202.5h1M154 203.5h1M154 204.5h1M154 207.5h1M154 208.5h1M154 209.5h1M154 210.5h1M154 211.5h1M154 212.5h1M155 200.5h1M155 202.5h1M155 203.5h1M155 205.5h1M155 207.5h1M155 209.5h1M155 210.5h1M155 212.5h1M155 213.5h1M155 215.5h1M156 201.5h1M156 205.5h1M156 207.5h1M156 209.5h1M156 211.5h1M157 202.5h1M157 207.5h1M157 210.5h1M157 212.5h1M157 227.5h1M158 200.5h1M158 202.5h1M158 204.5h1M158 205.5h1M158 206.5h1M158 207.5h1M158 208.5h1M158 209.5h1M158 210.5h1M158 211.5h1M158 212.5h1M158 221.5h1M159 203.5h1M159 205.5h1M159 206.5h1M159 210.5h1M159 212.5h1M159 216.5h1M160 203.5h1M160 205.5h1M160 206.5h1M160 207.5h1M160 208.5h1M160 209.5h1M160 211.5h1M160 213.5h1M161 201.5h1M161 202.5h1M161 203.5h1M161 209.5h1M161 212.5h1M162 205.5h1M162 208.5h1M162 209.5h1M162 210.5h1M162 212.5h1M163 202.5h1M163 208.5h1M163 211.5h1M164 201.5h1M164 202.5h1M164 208.5h1M164 211.5h1M165 207.5h1M165 213.5h1M166 208.5h1M167 205.5h1M168 204.5h1M168 207.5h1M171 208.5h1M171 210.5h1M259 220.5h1M259 221.5h1M259 233.5h1M259 236.5h1M259 238.5h1M259 241.5h1M260 216.5h1M260 218.5h1M260 219.5h1M260 225.5h1M260 229.5h1M260 231.5h1M260 237.5h1M260 241.5h1M261 218.5h1M261 220.5h1M261 224.5h1M261 225.5h1M261 232.5h1M261 236.5h1M262 209.5h1M262 213.5h1M262 214.5h1M262 215.5h1M262 216.5h1M262 220.5h1M262 221.5h1M262 222.5h1M262 225.5h1M262 228.5h1M262 230.5h1M262 231.5h1M262 232.5h1M262 234.5h1M262 235.5h1M262 240.5h1M262 241.5h1M263 210.5h1M263 213.5h1M263 214.5h1M263 215.5h1M263 217.5h1M263 218.5h1M263 219.5h1M263 221.5h1M263 222.5h1M263 223.5h1M263 224.5h1M263 225.5h1M263 226.5h1M263 228.5h1M263 230.5h1M263 231.5h1M263 232.5h1M263 234.5h1M263 237.5h1M263 238.5h1M263 241.5h1M264 211.5h1M264 213.5h1M264 215.5h1M264 216.5h1M264 217.5h1M264 219.5h1M264 220.5h1M264 222.5h1M264 223.5h1M264 224.5h1M264 225.5h1M264 228.5h1M264 229.5h1M264 231.5h1M264 233.5h1M264 234.5h1M264 235.5h1M264 236.5h1M264 237.5h1M264 238.5h1M265 212.5h1M265 215.5h1M265 219.5h1M265 220.5h1M265 223.5h1M265 224.5h1M265 225.5h1M265 226.5h1M265 228.5h1M265 229.5h1M265 232.5h1M265 233.5h1M265 234.5h1M265 235.5h1M265 236.5h1M265 237.5h1M265 238.5h1M265 239.5h1M265 240.5h1M266 210.5h1M266 212.5h1M266 214.5h1M266 215.5h1M266 216.5h1M266 219.5h1M266 220.5h1M266 222.5h1M266 223.5h1M266 224.5h1M266 226.5h1M266 227.5h1M266 228.5h1M266 229.5h1M266 230.5h1M266 231.5h1M266 234.5h1M266 238.5h1M266 239.5h1M266 240.5h1M267 210.5h1M267 211.5h1M267 212.5h1M267 213.5h1M267 214.5h1M267 215.5h1M267 217.5h1M267 218.5h1M267 219.5h1M267 223.5h1M267 224.5h1M267 225.5h1M267 226.5h1M267 227.5h1M267 229.5h1M267 230.5h1M267 231.5h1M267 233.5h1M267 235.5h1M267 236.5h1M267 238.5h1M267 241.5h1M268 210.5h1M268 212.5h1M268 214.5h1M268 217.5h1M268 218.5h1M268 219.5h1M268 220.5h1M268 221.5h1M268 222.5h1M268 224.5h1M268 225.5h1M268 226.5h1M268 227.5h1M268 228.5h1M268 229.5h1M268 231.5h1M268 232.5h1M268 233.5h1M268 237.5h1M268 239.5h1M268 240.5h1M268 241.5h1M269 213.5h1M269 215.5h1M269 217.5h1M269 218.5h1M269 219.5h1M269 220.5h1M269 221.5h1M269 222.5h1M269 223.5h1M269 224.5h1M269 225.5h1M269 228.5h1M269 230.5h1M269 231.5h1M269 233.5h1M269 234.5h1M269 235.5h1M269 236.5h1M269 238.5h1M269 239.5h1M269 240.5h1M270 211.5h1M270 212.5h1M270 214.5h1M270 216.5h1M270 219.5h1M270 220.5h1M270 222.5h1M270 223.5h1M270 224.5h1M270 225.5h1M270 226.5h1M270 228.5h1M270 230.5h1M270 231.5h1M270 232.5h1M270 233.5h1M270 234.5h1M270 235.5h1M270 236.5h1M270 240.5h1M270 241.5h1M271 210.5h1M271 211.5h1M271 212.5h1M271 213.5h1M271 215.5h1M271 216.5h1M271 217.5h1M271 218.5h1M271 219.5h1M271 220.5h1M271 221.5h1M271 222.5h1M271 223.5h1M271 224.5h1M271 225.5h1M271 226.5h1M271 229.5h1M271 230.5h1M271 231.5h1M271 232.5h1M271 235.5h1M271 236.5h1M271 237.5h1M271 239.5h1M271 240.5h1M271 241.5h1M272 209.5h1M272 211.5h1M272 213.5h1M272 215.5h1M272 216.5h1M272 217.5h1M272 218.5h1M272 219.5h1M272 220.5h1M272 221.5h1M272 222.5h1M272 224.5h1M272 225.5h1M272 226.5h1M272 227.5h1M272 228.5h1M272 229.5h1M272 230.5h1M272 231.5h1M272 232.5h1M272 236.5h1M272 237.5h1M272 240.5h1M272 241.5h1M273 210.5h1M273 211.5h1M273 213.5h1M273 214.5h1M273 215.5h1M273 216.5h1M273 218.5h1M273 219.5h1M273 220.5h1M273 221.5h1M273 222.5h1M273 223.5h1M273 225.5h1M273 226.5h1M273 227.5h1M273 228.5h1M273 232.5h1M273 233.5h1M273 234.5h1M273 235.5h1M273 236.5h1M273 237.5h1M273 240.5h1M273 241.5h1M274 209.5h1M274 212.5h1M274 213.5h1M274 214.5h1M274 215.5h1M274 216.5h1M274 217.5h1M274 218.5h1M274 219.5h1M274 220.5h1M274 221.5h1M274 222.5h1M274 223.5h1M274 224.5h1M274 225.5h1M274 226.5h1M274 227.5h1M274 228.5h1M274 229.5h1M274 230.5h1M274 231.5h1M274 232.5h1M274 233.5h1M274 234.5h1M274 235.5h1M274 236.5h1M274 237.5h1M274 238.5h1M274 239.5h1M274 241.5h1M275 208.5h1M275 211.5h1M275 212.5h1M275 214.5h1M275 215.5h1M275 216.5h1M275 217.5h1M275 218.5h1M275 219.5h1M275 220.5h1M275 221.5h1M275 222.5h1M275 223.5h1M275 224.5h1M275 225.5h1M275 226.5h1M275 227.5h1M275 228.5h1M275 229.5h1M275 230.5h1M275 231.5h1M275 232.5h1M275 233.5h1M275 234.5h1M275 235.5h1M275 236.5h1M275 237.5h1M275 238.5h1M275 239.5h1M275 240.5h1M275 241.5h1M276 209.5h1M276 211.5h1M276 212.5h1M276 213.5h1M276 214.5h1M276 215.5h1M276 216.5h1M276 217.5h1M276 218.5h1M276 219.5h1M276 220.5h1M276 221.5h1M276 222.5h1M276 223.5h1M276 224.5h1M276 225.5h1M276 226.5h1M276 227.5h1M276 228.5h1M276 229.5h1M276 230.5h1M276 231.5h1M276 232.5h1M276 233.5h1M276 234.5h1M276 235.5h1M276 236.5h1M276 237.5h1M276 238.5h1M276 239.5h1M276 240.5h1M276 241.5h1M277 206.5h1M277 207.5h1M277 209.5h1M277 210.5h1M277 211.5h1M277 213.5h1M277 214.5h1M277 215.5h1M277 216.5h1M277 217.5h1M277 218.5h1M277 219.5h1M277 220.5h1M277 221.5h1M277 222.5h1M277 223.5h1M277 224.5h1M277 225.5h1M277 226.5h1M277 227.5h1M277 228.5h1M277 229.5h1M277 230.5h1M277 231.5h1M277 232.5h1M277 233.5h1M277 234.5h1M277 235.5h1M277 236.5h1M277 237.5h1M277 238.5h1M277 239.5h1M277 240.5h1M277 241.5h1M278 208.5h1M278 210.5h1M278 211.5h1M278 213.5h1M278 214.5h1M278 215.5h1M278 216.5h1M278 217.5h1M278 218.5h1M278 219.5h1M278 220.5h1M278 221.5h1M278 222.5h1M278 223.5h1M278 224.5h1M278 225.5h1M278 226.5h1M278 227.5h1M278 228.5h1M278 229.5h1M278 230.5h1M278 231.5h1M278 232.5h1M278 233.5h1M278 234.5h1M278 235.5h1M278 236.5h1M278 237.5h1M278 238.5h1M278 239.5h1M278 240.5h1M278 241.5h1M279 209.5h1M279 213.5h1M279 214.5h1M279 215.5h1M279 216.5h1M279 217.5h1M279 218.5h1M279 219.5h1M279 220.5h1M279 221.5h1M279 222.5h1M279 223.5h1M279 224.5h1M279 225.5h1M279 226.5h1M279 227.5h1M279 228.5h1M279 229.5h1M279 230.5h1M279 231.5h1M279 232.5h1M279 233.5h1M279 234.5h1M279 235.5h1M279 236.5h1M279 237.5h1M279 238.5h1M279 239.5h1M279 241.5h1M280 200.5h1M280 210.5h1M280 213.5h1M280 214.5h1M280 215.5h1M280 216.5h1M280 217.5h1M280 218.5h1M280 219.5h1M280 220.5h1M280 221.5h1M280 222.5h1M280 223.5h1M280 224.5h1M280 225.5h1M280 226.5h1M280 227.5h1M280 228.5h1M280 229.5h1M280 230.5h1M280 231.5h1M280 232.5h1M280 233.5h1M280 234.5h1M280 235.5h1M280 236.5h1M280 237.5h1M280 238.5h1M280 239.5h1M280 240.5h1M280 241.5h1M281 210.5h1M281 211.5h1M281 212.5h1M281 213.5h1M281 214.5h1M281 215.5h1M281 216.5h1M281 217.5h1M281 218.5h1M281 219.5h1M281 220.5h1M281 221.5h1M281 222.5h1M281 223.5h1M281 224.5h1M281 225.5h1M281 226.5h1M281 227.5h1M281 228.5h1M281 229.5h1M281 230.5h1M281 231.5h1M281 232.5h1M281 233.5h1M281 234.5h1M281 235.5h1M281 236.5h1M281 237.5h1M281 238.5h1M281 239.5h1M281 240.5h1M281 241.5h1M282 195.5h1M282 208.5h1M282 211.5h1M282 212.5h1M282 213.5h1M282 214.5h1M282 215.5h1M282 216.5h1M282 217.5h1M282 218.5h1M282 219.5h1M282 220.5h1M282 221.5h1M282 222.5h1M282 223.5h1M282 224.5h1M282 225.5h1M282 226.5h1M282 227.5h1M282 228.5h1M282 229.5h1M282 230.5h1M282 231.5h1M282 232.5h1M282 233.5h1M282 234.5h1M282 235.5h1M282 236.5h1M282 237.5h1M282 238.5h1M282 239.5h1M282 240.5h1M282 241.5h1M283 195.5h1M283 210.5h1M283 211.5h1M283 212.5h1M283 213.5h1M283 214.5h1M283 215.5h1M283 216.5h1M283 217.5h1M283 218.5h1M283 219.5h1M283 220.5h1M283 221.5h1M283 222.5h1M283 223.5h1M283 224.5h1M283 225.5h1M283 226.5h1M283 227.5h1M283 228.5h1M283 229.5h1M283 230.5h1M283 231.5h1M283 232.5h1M283 233.5h1M283 234.5h1M283 235.5h1M283 236.5h1M283 237.5h1M283 238.5h1M283 239.5h1M283 240.5h1M283 241.5h1M284 187.5h1M284 206.5h1M284 208.5h1M284 210.5h1M284 211.5h1M284 212.5h1M284 213.5h1M284 214.5h1M284 215.5h1M284 216.5h1M284 217.5h1M284 218.5h1M284 219.5h1M284 220.5h1M284 221.5h1M284 222.5h1M284 223.5h1M284 224.5h1M284 225.5h1M284 226.5h1M284 227.5h1M284 228.5h1M284 229.5h1M284 230.5h1M284 231.5h1M284 232.5h1M284 233.5h1M284 234.5h1M284 235.5h1M284 236.5h1M284 237.5h1M284 238.5h1M284 239.5h1M284 240.5h1M284 241.5h1M285 193.5h1M285 204.5h1M285 212.5h1M285 213.5h1M285 214.5h1M285 215.5h1M285 216.5h1M285 217.5h1M285 218.5h1M285 219.5h1M285 220.5h1M285 221.5h1M285 222.5h1M285 223.5h1M285 224.5h1M285 225.5h1M285 226.5h1M285 227.5h1M285 228.5h1M285 229.5h1M285 230.5h1M285 231.5h1M285 232.5h1M285 233.5h1M285 235.5h1M285 236.5h1M285 237.5h1M285 238.5h1M285 239.5h1M285 240.5h1M285 241.5h1M286 187.5h1M286 191.5h1M286 211.5h1M286 212.5h1M286 213.5h1M286 214.5h1M286 215.5h1M286 216.5h1M286 217.5h1M286 218.5h1M286 219.5h1M286 220.5h1M286 221.5h1M286 222.5h1M286 223.5h1M286 224.5h1M286 225.5h1M286 226.5h1M286 227.5h1M286 228.5h1M286 229.5h1M286 230.5h1M286 231.5h1M286 232.5h1M286 233.5h1M286 234.5h1M286 235.5h1M286 236.5h1M286 237.5h1M286 238.5h1M286 239.5h1M286 240.5h1M286 241.5h1M287 193.5h1M287 198.5h1M287 210.5h1M287 211.5h1M287 212.5h1M287 213.5h1M287 214.5h1M287 215.5h1M287 216.5h1M287 217.5h1M287 218.5h1M287 219.5h1M287 220.5h1M287 221.5h1M287 222.5h1M287 223.5h1M287 224.5h1M287 225.5h1M287 226.5h1M287 227.5h1M287 228.5h1M287 229.5h1M287 230.5h1M287 231.5h1M287 232.5h1M287 233.5h1M287 234.5h1M287 235.5h1M287 236.5h1M287 237.5h1M287 238.5h1M287 239.5h1M287 240.5h1M287 241.5h1M288 184.5h1M288 189.5h1M288 211.5h1M288 212.5h1M288 213.5h1M288 214.5h1M288 215.5h1M288 216.5h1M288 217.5h1M288 218.5h1M288 219.5h1M288 220.5h1M288 221.5h1M288 222.5h1M288 223.5h1M288 224.5h1M288 225.5h1M288 226.5h1M288 227.5h1M288 228.5h1M288 229.5h1M288 230.5h1M288 231.5h1M288 232.5h1M288 233.5h1M288 234.5h1M288 235.5h1M288 236.5h1M288 237.5h1M288 238.5h1M288 239.5h1M288 240.5h1M288 241.5h1M289 187.5h1M289 192.5h1M289 206.5h1M289 211.5h1M289 212.5h1M289 213.5h1M289 214.5h1M289 215.5h1M289 216.5h1M289 217.5h1M289 218.5h1M289 219.5h1M289 220.5h1M289 221.5h1M289 222.5h1M289 223.5h1M289 224.5h1M289 225.5h1M289 226.5h1M289 227.5h1M289 228.5h1M289 229.5h1M289 230.5h1M289 231.5h1M289 232.5h1M289 233.5h1M289 234.5h1M289 235.5h1M289 236.5h1M289 237.5h1M289 238.5h1M289 239.5h1M289 240.5h1M289 241.5h1M290 187.5h1M290 192.5h1M290 196.5h1M290 199.5h1M290 210.5h1M290 211.5h1M290 212.5h1M290 213.5h1M290 214.5h1M290 215.5h1M290 216.5h1M290 217.5h1M290 218.5h1M290 219.5h1M290 220.5h1M290 221.5h1M290 222.5h1M290 223.5h1M290 224.5h1M290 225.5h1M290 226.5h1M290 227.5h1M290 228.5h1M290 229.5h1M290 230.5h1M290 231.5h1M290 232.5h1M290 233.5h1M290 234.5h1M290 235.5h1M290 236.5h1M290 237.5h1M290 238.5h1M290 239.5h1M290 240.5h1M290 241.5h1M291 183.5h1M291 189.5h1M291 190.5h1M291 191.5h1M291 193.5h1M291 195.5h1M291 196.5h1M291 197.5h1M291 210.5h1M291 211.5h1M291 212.5h1M291 213.5h1M291 214.5h1M291 215.5h1M291 216.5h1M291 217.5h1M291 218.5h1M291 219.5h1M291 220.5h1M291 221.5h1M291 222.5h1M291 223.5h1M291 224.5h1M291 225.5h1M291 226.5h1M291 227.5h1M291 228.5h1M291 229.5h1M291 230.5h1M291 231.5h1M291 232.5h1M291 233.5h1M291 234.5h1M291 235.5h1M291 236.5h1M291 237.5h1M291 238.5h1M291 239.5h1M291 240.5h1M291 241.5h1M292 192.5h1M292 197.5h1M292 208.5h1M292 209.5h1M292 210.5h1M292 211.5h1M292 212.5h1M292 213.5h1M292 214.5h1M292 215.5h1M292 216.5h1M292 217.5h1M292 218.5h1M292 219.5h1M292 220.5h1M292 221.5h1M292 222.5h1M292 223.5h1M292 224.5h1M292 225.5h1M292 226.5h1M292 227.5h1M292 228.5h1M292 229.5h1M292 230.5h1M292 231.5h1M292 232.5h1M292 233.5h1M292 234.5h1M292 235.5h1M292 236.5h1M292 237.5h1M292 238.5h1M292 239.5h1M292 240.5h1M293 180.5h1M293 182.5h1M293 183.5h1M293 187.5h1M293 188.5h1M293 196.5h1M293 211.5h1M293 212.5h1M293 214.5h1M293 215.5h1M293 216.5h1M293 217.5h1M293 218.5h1M293 219.5h1M293 220.5h1M293 221.5h1M293 222.5h1M293 223.5h1M293 224.5h1M293 225.5h1M293 226.5h1M293 227.5h1M293 228.5h1M293 229.5h1M293 230.5h1M293 231.5h1M293 232.5h1M293 233.5h1M293 234.5h1M293 235.5h1M293 236.5h1M293 237.5h1M293 238.5h1M293 239.5h1M293 240.5h1M293 241.5h1M294 189.5h1M294 190.5h1M294 210.5h1M294 211.5h1M294 212.5h1M294 213.5h1M294 214.5h1M294 215.5h1M294 216.5h1M294 217.5h1M294 218.5h1M294 219.5h1M294 220.5h1M294 221.5h1M294 222.5h1M294 223.5h1M294 224.5h1M294 225.5h1M294 226.5h1M294 227.5h1M294 228.5h1M294 229.5h1M294 230.5h1M294 231.5h1M294 232.5h1M294 233.5h1M294 234.5h1M294 235.5h1M294 236.5h1M294 237.5h1M294 238.5h1M294 239.5h1M294 240.5h1M294 241.5h1M295 176.5h1M295 187.5h1M295 191.5h1M295 192.5h1M295 204.5h1M295 206.5h1M295 209.5h1M295 210.5h1M295 213.5h1M295 214.5h1M295 215.5h1M295 216.5h1M295 217.5h1M295 218.5h1M295 219.5h1M295 220.5h1M295 221.5h1M295 222.5h1M295 223.5h1M295 224.5h1M295 225.5h1M295 226.5h1M295 227.5h1M295 228.5h1M295 229.5h1M295 230.5h1M295 231.5h1M295 232.5h1M295 233.5h1M295 234.5h1M295 235.5h1M295 236.5h1M295 237.5h1M295 238.5h1M295 239.5h1M295 240.5h1M295 241.5h1M296 181.5h1M296 184.5h1M296 187.5h1M296 189.5h1M296 192.5h1M296 193.5h1M296 210.5h1M296 211.5h1M296 212.5h1M296 215.5h1M296 216.5h1M296 217.5h1M296 218.5h1M296 219.5h1M296 221.5h1M296 222.5h1M296 223.5h1M296 224.5h1M296 225.5h1M296 226.5h1M296 227.5h1M296 228.5h1M296 229.5h1M296 230.5h1M296 231.5h1M296 232.5h1M296 233.5h1M296 234.5h1M296 235.5h1M296 236.5h1M296 237.5h1M296 239.5h1M296 240.5h1M296 241.5h1M297 176.5h1M297 179.5h1M297 194.5h1M297 207.5h1M297 208.5h1M297 209.5h1M297 212.5h1M297 216.5h1M297 217.5h1M297 218.5h1M297 219.5h1M297 220.5h1M297 221.5h1M297 223.5h1M297 224.5h1M297 225.5h1M297 226.5h1M297 228.5h1M297 229.5h1M297 230.5h1M297 231.5h1M297 232.5h1M297 234.5h1M297 235.5h1M297 239.5h1M297 241.5h1M298 177.5h1M298 182.5h1M298 188.5h1M298 189.5h1M298 206.5h1M298 211.5h1M298 214.5h1M298 216.5h1M298 217.5h1M298 218.5h1M298 220.5h1M298 222.5h1M298 227.5h1M298 233.5h1M298 235.5h1M298 238.5h1M298 239.5h1M299 188.5h1M299 193.5h1M299 197.5h1M299 214.5h1M299 224.5h1M299 237.5h1M300 182.5h1M300 187.5h1M300 193.5h1M301 186.5h1M302 188.5h1M304 174.5h1M305 178.5h1M417 224.5h1M417 226.5h1M417 227.5h1M417 229.5h1M417 230.5h1M417 232.5h1M418 219.5h1M418 224.5h1M418 225.5h1M418 226.5h1M418 228.5h1M418 230.5h1M418 231.5h1M418 235.5h1M419 216.5h1M419 218.5h1M419 220.5h1M419 222.5h1M419 224.5h1M419 225.5h1M419 226.5h1M419 227.5h1M419 228.5h1M419 230.5h1M419 231.5h1M419 233.5h1M419 234.5h1M420 218.5h1M420 220.5h1M420 221.5h1M420 222.5h1M420 223.5h1M420 224.5h1M420 225.5h1M420 226.5h1M420 229.5h1M420 230.5h1M420 231.5h1M420 232.5h1M420 233.5h1M420 236.5h1M420 237.5h1M421 217.5h1M421 218.5h1M421 219.5h1M421 221.5h1M421 222.5h1M421 223.5h1M421 224.5h1M421 225.5h1M421 226.5h1M421 227.5h1M421 228.5h1M421 229.5h1M421 230.5h1M421 231.5h1M421 232.5h1M421 234.5h1M421 236.5h1M422 210.5h1M422 215.5h1M422 217.5h1M422 218.5h1M422 220.5h1M422 221.5h1M422 222.5h1M422 223.5h1M422 224.5h1M422 225.5h1M422 226.5h1M422 227.5h1M422 228.5h1M422 229.5h1M422 231.5h1M422 232.5h1M422 233.5h1M422 234.5h1M422 235.5h1M422 236.5h1M422 237.5h1M422 238.5h1M422 241.5h1M423 214.5h1M423 215.5h1M423 216.5h1M423 217.5h1M423 218.5h1M423 219.5h1M423 220.5h1M423 221.5h1M423 222.5h1M423 223.5h1M423 224.5h1M423 225.5h1M423 226.5h1M423 227.5h1M423 228.5h1M423 229.5h1M423 230.5h1M423 231.5h1M423 232.5h1M423 233.5h1M423 234.5h1M423 235.5h1M423 237.5h1M423 239.5h1M423 240.5h1M424 213.5h1M424 215.5h1M424 216.5h1M424 217.5h1M424 218.5h1M424 219.5h1M424 220.5h1M424 221.5h1M424 222.5h1M424 223.5h1M424 224.5h1M424 225.5h1M424 226.5h1M424 227.5h1M424 228.5h1M424 229.5h1M424 230.5h1M424 231.5h1M424 232.5h1M424 233.5h1M424 234.5h1M424 235.5h1M424 236.5h1M424 237.5h1M424 238.5h1M424 239.5h1M425 210.5h1M425 213.5h1M425 214.5h1M425 216.5h1M425 217.5h1M425 218.5h1M425 219.5h1M425 220.5h1M425 221.5h1M425 222.5h1M425 223.5h1M425 224.5h1M425 225.5h1M425 226.5h1M425 227.5h1M425 228.5h1M425 229.5h1M425 230.5h1M425 231.5h1M425 232.5h1M425 233.5h1M425 234.5h1M425 235.5h1M425 236.5h1M425 237.5h1M425 238.5h1M426 213.5h1M426 215.5h1M426 216.5h1M426 217.5h1M426 219.5h1M426 220.5h1M426 221.5h1M426 222.5h1M426 223.5h1M426 224.5h1M426 225.5h1M426 226.5h1M426 227.5h1M426 228.5h1M426 229.5h1M426 230.5h1M426 231.5h1M426 232.5h1M426 233.5h1M426 234.5h1M426 235.5h1M426 236.5h1M426 237.5h1M426 238.5h1M426 239.5h1M427 212.5h1M427 213.5h1M427 214.5h1M427 215.5h1M427 216.5h1M427 217.5h1M427 218.5h1M427 219.5h1M427 220.5h1M427 221.5h1M427 222.5h1M427 223.5h1M427 224.5h1M427 225.5h1M427 226.5h1M427 227.5h1M427 228.5h1M427 229.5h1M427 230.5h1M427 231.5h1M427 232.5h1M427 233.5h1M427 234.5h1M427 235.5h1M427 236.5h1M427 237.5h1M427 238.5h1M427 239.5h1M427 240.5h1M427 241.5h1M428 212.5h1M428 213.5h1M428 214.5h1M428 215.5h1M428 216.5h1M428 217.5h1M428 218.5h1M428 219.5h1M428 220.5h1M428 221.5h1M428 222.5h1M428 223.5h1M428 224.5h1M428 225.5h1M428 226.5h1M428 227.5h1M428 228.5h1M428 229.5h1M428 230.5h1M428 231.5h1M428 232.5h1M428 233.5h1M428 234.5h1M428 235.5h1M428 236.5h1M428 237.5h1M428 238.5h1M428 240.5h1M428 241.5h1M429 210.5h1M429 211.5h1M429 212.5h1M429 213.5h1M429 214.5h1M429 215.5h1M429 216.5h1M429 217.5h1M429 218.5h1M429 219.5h1M429 220.5h1M429 221.5h1M429 222.5h1M429 223.5h1M429 224.5h1M429 225.5h1M429 226.5h1M429 227.5h1M429 228.5h1M429 229.5h1M429 230.5h1M429 231.5h1M429 232.5h1M429 233.5h1M429 234.5h1M429 235.5h1M429 236.5h1M429 237.5h1M429 238.5h1M429 239.5h1M429 240.5h1M430 210.5h1M430 211.5h1M430 212.5h1M430 213.5h1M430 214.5h1M430 215.5h1M430 216.5h1M430 217.5h1M430 218.5h1M430 219.5h1M430 220.5h1M430 221.5h1M430 222.5h1M430 223.5h1M430 224.5h1M430 225.5h1M430 226.5h1M430 227.5h1M430 228.5h1M430 229.5h1M430 230.5h1M430 231.5h1M430 232.5h1M430 233.5h1M430 234.5h1M430 235.5h1M430 236.5h1M430 237.5h1M430 238.5h1M430 239.5h1M430 240.5h1M430 241.5h1M431 212.5h1M431 213.5h1M431 214.5h1M431 215.5h1M431 216.5h1M431 217.5h1M431 218.5h1M431 219.5h1M431 220.5h1M431 221.5h1M431 222.5h1M431 223.5h1M431 224.5h1M431 225.5h1M431 226.5h1M431 227.5h1M431 228.5h1M431 229.5h1M431 230.5h1M431 231.5h1M431 232.5h1M431 233.5h1M431 234.5h1M431 235.5h1M431 236.5h1M431 237.5h1M431 238.5h1M431 239.5h1M431 241.5h1M432 209.5h1M432 210.5h1M432 211.5h1M432 212.5h1M432 213.5h1M432 214.5h1M432 215.5h1M432 216.5h1M432 217.5h1M432 218.5h1M432 219.5h1M432 220.5h1M432 221.5h1M432 222.5h1M432 223.5h1M432 224.5h1M432 225.5h1M432 226.5h1M432 227.5h1M432 228.5h1M432 229.5h1M432 230.5h1M432 231.5h1M432 232.5h1M432 233.5h1M432 234.5h1M432 235.5h1M432 236.5h1M432 237.5h1M432 238.5h1M432 239.5h1M432 240.5h1M432 241.5h1M433 210.5h1M433 211.5h1M433 212.5h1M433 213.5h1M433 214.5h1M433 215.5h1M433 216.5h1M433 217.5h1M433 218.5h1M433 219.5h1M433 220.5h1M433 221.5h1M433 222.5h1M433 223.5h1M433 224.5h1M433 225.5h1M433 226.5h1M433 227.5h1M433 228.5h1M433 229.5h1M433 230.5h1M433 231.5h1M433 232.5h1M433 233.5h1M433 234.5h1M433 235.5h1M433 236.5h1M433 237.5h1M433 238.5h1M433 239.5h1M433 240.5h1M434 200.5h1M434 208.5h1M434 210.5h1M434 213.5h1M434 214.5h1M434 215.5h1M434 216.5h1M434 217.5h1M434 218.5h1M434 219.5h1M434 220.5h1M434 221.5h1M434 222.5h1M434 223.5h1M434 224.5h1M434 225.5h1M434 226.5h1M434 227.5h1M434 228.5h1M434 229.5h1M434 230.5h1M434 231.5h1M434 232.5h1M434 233.5h1M434 234.5h1M434 235.5h1M434 236.5h1M434 237.5h1M434 238.5h1M434 239.5h1M434 240.5h1M434 241.5h1M435 196.5h1M435 210.5h1M435 211.5h1M435 212.5h1M435 213.5h1M435 214.5h1M435 216.5h1M435 217.5h1M435 218.5h1M435 219.5h1M435 220.5h1M435 221.5h1M435 222.5h1M435 223.5h1M435 224.5h1M435 225.5h1M435 226.5h1M435 227.5h1M435 228.5h1M435 229.5h1M435 230.5h1M435 231.5h1M435 232.5h1M435 233.5h1M435 234.5h1M435 235.5h1M435 236.5h1M435 237.5h1M435 238.5h1M435 239.5h1M435 240.5h1M435 241.5h1M436 207.5h1M436 212.5h1M436 213.5h1M436 214.5h1M436 215.5h1M436 216.5h1M436 217.5h1M436 218.5h1M436 219.5h1M436 220.5h1M436 221.5h1M436 222.5h1M436 223.5h1M436 224.5h1M436 225.5h1M436 226.5h1M436 227.5h1M436 228.5h1M436 229.5h1M436 230.5h1M436 231.5h1M436 232.5h1M436 233.5h1M436 234.5h1M436 235.5h1M436 236.5h1M436 237.5h1M436 238.5h1M436 239.5h1M436 240.5h1M437 208.5h1M437 211.5h1M437 213.5h1M437 214.5h1M437 215.5h1M437 216.5h1M437 217.5h1M437 218.5h1M437 219.5h1M437 220.5h1M437 221.5h1M437 222.5h1M437 223.5h1M437 224.5h1M437 225.5h1M437 226.5h1M437 227.5h1M437 228.5h1M437 229.5h1M437 230.5h1M437 231.5h1M437 232.5h1M437 233.5h1M437 234.5h1M437 235.5h1M437 236.5h1M437 237.5h1M437 238.5h1M437 239.5h1M437 240.5h1M437 241.5h1M438 208.5h1M438 210.5h1M438 212.5h1M438 213.5h1M438 214.5h1M438 215.5h1M438 216.5h1M438 217.5h1M438 218.5h1M438 219.5h1M438 220.5h1M438 221.5h1M438 222.5h1M438 223.5h1M438 224.5h1M438 225.5h1M438 226.5h1M438 227.5h1M438 228.5h1M438 229.5h1M438 230.5h1M438 231.5h1M438 232.5h1M438 233.5h1M438 234.5h1M438 235.5h1M438 236.5h1M438 237.5h1M438 238.5h1M438 239.5h1M438 241.5h1M439 202.5h1M439 203.5h1M439 209.5h1M439 211.5h1M439 212.5h1M439 213.5h1M439 214.5h1M439 215.5h1M439 216.5h1M439 217.5h1M439 218.5h1M439 219.5h1M439 220.5h1M439 221.5h1M439 222.5h1M439 223.5h1M439 224.5h1M439 225.5h1M439 226.5h1M439 227.5h1M439 228.5h1M439 229.5h1M439 230.5h1M439 231.5h1M439 232.5h1M439 233.5h1M439 234.5h1M439 235.5h1M439 236.5h1M439 237.5h1M439 238.5h1M439 239.5h1M439 240.5h1M439 241.5h1M440 193.5h1M440 208.5h1M440 210.5h1M440 212.5h1M440 213.5h1M440 214.5h1M440 215.5h1M440 216.5h1M440 217.5h1M440 218.5h1M440 219.5h1M440 220.5h1M440 221.5h1M440 222.5h1M440 223.5h1M440 224.5h1M440 225.5h1M440 226.5h1M440 227.5h1M440 228.5h1M440 229.5h1M440 230.5h1M440 231.5h1M440 232.5h1M440 233.5h1M440 234.5h1M440 235.5h1M440 236.5h1M440 237.5h1M440 238.5h1M440 239.5h1M440 240.5h1M440 241.5h1M441 191.5h1M441 199.5h1M441 210.5h1M441 211.5h1M441 212.5h1M441 213.5h1M441 214.5h1M441 215.5h1M441 216.5h1M441 217.5h1M441 218.5h1M441 219.5h1M441 220.5h1M441 221.5h1M441 222.5h1M441 223.5h1M441 224.5h1M441 225.5h1M441 226.5h1M441 227.5h1M441 228.5h1M441 229.5h1M441 230.5h1M441 231.5h1M441 232.5h1M441 233.5h1M441 234.5h1M441 235.5h1M441 236.5h1M441 237.5h1M441 238.5h1M441 239.5h1M441 240.5h1M441 241.5h1M442 210.5h1M442 211.5h1M442 212.5h1M442 213.5h1M442 214.5h1M442 215.5h1M442 216.5h1M442 217.5h1M442 218.5h1M442 219.5h1M442 220.5h1M442 221.5h1M442 222.5h1M442 223.5h1M442 224.5h1M442 225.5h1M442 226.5h1M442 227.5h1M442 228.5h1M442 229.5h1M442 230.5h1M442 231.5h1M442 232.5h1M442 233.5h1M442 234.5h1M442 235.5h1M442 236.5h1M442 237.5h1M442 238.5h1M442 239.5h1M442 240.5h1M442 241.5h1M443 198.5h1M443 201.5h1M443 205.5h1M443 210.5h1M443 212.5h1M443 213.5h1M443 214.5h1M443 215.5h1M443 216.5h1M443 217.5h1M443 218.5h1M443 219.5h1M443 220.5h1M443 221.5h1M443 222.5h1M443 223.5h1M443 224.5h1M443 225.5h1M443 226.5h1M443 227.5h1M443 228.5h1M443 229.5h1M443 230.5h1M443 231.5h1M443 232.5h1M443 233.5h1M443 234.5h1M443 235.5h1M443 236.5h1M443 237.5h1M443 238.5h1M443 239.5h1M444 211.5h1M444 212.5h1M444 213.5h1M444 214.5h1M444 215.5h1M444 216.5h1M444 217.5h1M444 218.5h1M444 219.5h1M444 220.5h1M444 221.5h1M444 222.5h1M444 223.5h1M444 224.5h1M444 225.5h1M444 226.5h1M444 227.5h1M444 228.5h1M444 229.5h1M444 230.5h1M444 231.5h1M444 232.5h1M444 233.5h1M444 234.5h1M444 235.5h1M444 236.5h1M444 237.5h1M444 238.5h1M444 239.5h1M444 240.5h1M444 241.5h1M445 204.5h1M445 211.5h1M445 212.5h1M445 213.5h1M445 214.5h1M445 216.5h1M445 217.5h1M445 218.5h1M445 219.5h1M445 220.5h1M445 221.5h1M445 222.5h1M445 223.5h1M445 224.5h1M445 225.5h1M445 226.5h1M445 227.5h1M445 228.5h1M445 229.5h1M445 230.5h1M445 231.5h1M445 232.5h1M445 233.5h1M445 234.5h1M445 235.5h1M445 236.5h1M445 237.5h1M445 238.5h1M445 241.5h1M446 212.5h1M446 213.5h1M446 214.5h1M446 215.5h1M446 216.5h1M446 217.5h1M446 218.5h1M446 219.5h1M446 220.5h1M446 221.5h1M446 222.5h1M446 223.5h1M446 224.5h1M446 225.5h1M446 226.5h1M446 227.5h1M446 228.5h1M446 229.5h1M446 230.5h1M446 231.5h1M446 232.5h1M446 233.5h1M446 234.5h1M446 235.5h1M446 236.5h1M446 237.5h1M446 238.5h1M446 239.5h1M446 240.5h1M447 211.5h1M447 213.5h1M447 214.5h1M447 215.5h1M447 216.5h1M447 217.5h1M447 218.5h1M447 219.5h1M447 220.5h1M447 221.5h1M447 222.5h1M447 223.5h1M447 224.5h1M447 225.5h1M447 226.5h1M447 227.5h1M447 228.5h1M447 229.5h1M447 230.5h1M447 231.5h1M447 232.5h1M447 233.5h1M447 234.5h1M447 236.5h1M447 237.5h1M447 239.5h1M447 240.5h1M448 190.5h1M448 192.5h1M448 199.5h1M448 213.5h1M448 215.5h1M448 216.5h1M448 217.5h1M448 218.5h1M448 219.5h1M448 220.5h1M448 221.5h1M448 222.5h1M448 223.5h1M448 224.5h1M448 225.5h1M448 226.5h1M448 227.5h1M448 228.5h1M448 229.5h1M448 230.5h1M448 231.5h1M448 232.5h1M448 233.5h1M448 234.5h1M448 235.5h1M448 236.5h1M448 237.5h1M448 238.5h1M448 239.5h1M449 191.5h1M449 193.5h1M449 195.5h1M449 213.5h1M449 215.5h1M449 216.5h1M449 217.5h1M449 218.5h1M449 219.5h1M449 220.5h1M449 221.5h1M449 222.5h1M449 223.5h1M449 224.5h1M449 225.5h1M449 226.5h1M449 227.5h1M449 228.5h1M449 229.5h1M449 230.5h1M449 231.5h1M449 232.5h1M449 233.5h1M449 234.5h1M449 235.5h1M449 236.5h1M449 237.5h1M449 238.5h1M449 239.5h1M449 240.5h1M449 241.5h1M450 198.5h1M450 209.5h1M450 210.5h1M450 211.5h1M450 212.5h1M450 213.5h1M450 215.5h1M450 216.5h1M450 217.5h1M450 218.5h1M450 219.5h1M450 220.5h1M450 221.5h1M450 222.5h1M450 223.5h1M450 224.5h1M450 225.5h1M450 226.5h1M450 227.5h1M450 228.5h1M450 230.5h1M450 231.5h1M450 232.5h1M450 233.5h1M450 234.5h1M450 235.5h1M450 236.5h1M450 237.5h1M450 239.5h1M451 199.5h1M451 209.5h1M451 214.5h1M451 215.5h1M451 216.5h1M451 217.5h1M451 218.5h1M451 219.5h1M451 220.5h1M451 221.5h1M451 222.5h1M451 223.5h1M451 224.5h1M451 225.5h1M451 226.5h1M451 227.5h1M451 228.5h1M451 229.5h1M451 230.5h1M451 231.5h1M451 232.5h1M451 233.5h1M451 234.5h1M451 235.5h1M451 237.5h1M451 238.5h1M452 203.5h1M452 213.5h1M452 214.5h1M452 216.5h1M452 217.5h1M452 218.5h1M452 219.5h1M452 220.5h1M452 221.5h1M452 222.5h1M452 223.5h1M452 224.5h1M452 225.5h1M452 226.5h1M452 227.5h1M452 228.5h1M452 229.5h1M452 230.5h1M452 231.5h1M452 232.5h1M452 233.5h1M452 234.5h1M452 235.5h1M453 214.5h1M453 216.5h1M453 217.5h1M453 218.5h1M453 219.5h1M453 220.5h1M453 221.5h1M453 222.5h1M453 223.5h1M453 224.5h1M453 225.5h1M453 226.5h1M453 227.5h1M453 228.5h1M453 229.5h1M453 230.5h1M453 231.5h1M453 232.5h1M453 233.5h1M453 234.5h1M453 235.5h1M453 237.5h1M454 207.5h1M454 211.5h1M454 214.5h1M454 216.5h1M454 217.5h1M454 218.5h1M454 219.5h1M454 221.5h1M454 223.5h1M454 224.5h1M454 225.5h1M454 226.5h1M454 227.5h1M454 228.5h1M454 229.5h1M454 230.5h1M454 231.5h1M454 232.5h1M454 233.5h1M454 238.5h1M455 191.5h1M455 196.5h1M455 213.5h1M455 215.5h1M455 216.5h1M455 217.5h1M455 218.5h1M455 219.5h1M455 220.5h1M455 221.5h1M455 222.5h1M455 223.5h1M455 224.5h1M455 225.5h1M455 226.5h1M455 227.5h1M455 229.5h1M455 230.5h1M455 231.5h1M455 233.5h1M455 234.5h1M455 237.5h1M456 197.5h1M456 206.5h1M456 214.5h1M456 216.5h1M456 217.5h1M456 220.5h1M456 223.5h1M456 225.5h1M456 226.5h1M456 228.5h1M456 229.5h1M456 231.5h1M456 234.5h1M457 194.5h1M457 196.5h1M457 199.5h1M457 208.5h1M457 215.5h1M457 218.5h1M457 220.5h1M457 221.5h1M457 223.5h1M457 224.5h1M457 225.5h1M457 227.5h1M457 230.5h1M458 192.5h1M458 195.5h1M458 209.5h1M458 214.5h1M458 216.5h1M458 219.5h1M458 222.5h1M458 224.5h1M458 228.5h1M459 187.5h1M459 204.5h1M459 205.5h1M459 212.5h1M459 217.5h1M459 220.5h1M459 228.5h1M459 237.5h1M460 187.5h1M460 190.5h1M460 196.5h1M460 203.5h1M460 204.5h1M460 212.5h1M460 214.5h1M460 221.5h1M460 226.5h1M461 197.5h1M461 201.5h1M461 207.5h1M461 211.5h1M461 212.5h1M461 217.5h1M461 220.5h1M461 222.5h1M461 224.5h1M461 225.5h1M461 229.5h1M462 185.5h1M462 191.5h1M462 195.5h1M462 196.5h1M462 197.5h1M462 200.5h1M462 216.5h1M462 223.5h1M462 224.5h1M463 196.5h1M463 222.5h1M463 225.5h1M463 230.5h1M463 235.5h1M464 187.5h1M464 222.5h1M465 191.5h1M465 192.5h1M465 196.5h1M465 201.5h1M466 179.5h1M466 185.5h1M466 188.5h1M466 190.5h1M466 193.5h1M466 194.5h1M466 196.5h1M466 199.5h1M467 185.5h1M467 192.5h1M467 194.5h1M467 196.5h1M467 213.5h1M467 216.5h1M467 218.5h1M467 233.5h1M468 191.5h1M468 195.5h1M468 201.5h1M469 173.5h1M469 181.5h1M469 183.5h1M469 190.5h1M469 202.5h1M469 205.5h1M469 213.5h1M469 216.5h1M469 224.5h1M470 179.5h1M470 181.5h1M470 184.5h1M470 192.5h1M470 196.5h1M470 203.5h1M471 175.5h1M471 186.5h1M471 197.5h1M472 179.5h1M472 181.5h1M472 191.5h1M472 192.5h1M472 198.5h1M472 219.5h1M473 187.5h1M473 215.5h1M473 221.5h1M474 176.5h1M474 184.5h1M474 192.5h1M474 194.5h1M474 196.5h1M474 197.5h1M474 198.5h1M474 199.5h1M475 182.5h1M475 184.5h1M475 189.5h1M475 202.5h1M476 192.5h1M477 200.5h1M478 180.5h1M478 195.5h1M479 201.5h1M480 207.5h1M480 222.5h1M483 221.5h1" stroke="#181818"/></svg>
<div class="frame" style="left:102px;top:7.2px;width:100px;height:98.3px"></div>
<div class="vl" style="left:152px;top:7.2px;height:98.3px"></div>
<div class="hl" style="left:102px;top:64px;width:100px"></div>
<div class="box" style="left:151.7px;top:38px;width:20.6px;height:25.5px"></div>
<div class="big" style="left:105.5px;top:12.9px">0.37</div>
<div class="big r" style="right:321px;top:12.9px">0.24</div>
<div class="big r" style="right:321px;top:94.3px">3</div>
<div class="sm" style="left:104.5px;top:60px">0.37</div>
<div class="sm" style="left:104.5px;top:66.5px">98.4</div>
<div class="sm r" style="right:320px;top:60px">0.24</div>
<div class="sm r" style="right:320px;top:66.5px">3</div>
<div class="frame" style="left:258px;top:7.2px;width:99px;height:98.3px"></div>
<div class="vl" style="left:301.5px;top:7.2px;height:98.3px"></div>
<div class="hl" style="left:258px;top:66.5px;width:99px"></div>
<div class="big" style="left:261.5px;top:12.9px">1.84</div>
<div class="big r" style="right:166px;top:12.9px">0.49</div>
<div class="big r" style="right:166px;top:94.3px">0.09</div>
<div class="sm" style="left:260.5px;top:62.5px">1.84</div>
<div class="sm" style="left:260.5px;top:69px">97.6</div>
<div class="sm r" style="right:165px;top:62.5px">0.49</div>
<div class="sm r" style="right:165px;top:69px">0.09</div>
<div class="frame" style="left:416px;top:7.2px;width:98px;height:98.3px"></div>
<div class="vl" style="left:464px;top:7.2px;height:98.3px"></div>
<div class="hl" style="left:416px;top:65.5px;width:98px"></div>
<div class="big" style="left:419.5px;top:12.9px">0.63</div>
<div class="big r" style="right:9px;top:12.9px">1.65</div>
<div class="big r" style="right:9px;top:94.3px">1.89</div>
<div class="sm" style="left:418.5px;top:61.5px">0.63</div>
<div class="sm" style="left:418.5px;top:68px">95.8</div>
<div class="sm r" style="right:8px;top:61.5px">1.65</div>
<div class="sm r" style="right:8px;top:68px">1.89</div>
<div class="frame" style="left:102px;top:144.5px;width:100px;height:98.5px"></div>
<div class="vl" style="left:149.2px;top:144.5px;height:98.5px"></div>
<div class="hl" style="left:102px;top:197px;width:100px"></div>
<div class="box" style="left:148.5px;top:171.4px;width:20.5px;height:25px"></div>
<div class="big" style="left:105.5px;top:150.2px">0.09</div>
<div class="big r" style="right:321px;top:150.2px">0.16</div>
<div class="big r" style="right:321px;top:231.8px">3.08</div>
<div class="sm" style="left:104.5px;top:193px">0.09</div>
<div class="sm" style="left:104.5px;top:199.5px">96.7</div>
<div class="sm r" style="right:320px;top:193px">0.16</div>
<div class="sm r" style="right:320px;top:199.5px">3.08</div>
<div class="frame" style="left:258px;top:144.5px;width:99px;height:98.5px"></div>
<div class="vl" style="left:304px;top:144.5px;height:98.5px"></div>
<div class="hl" style="left:258px;top:202.8px;width:99px"></div>
<div class="big" style="left:261.5px;top:150.2px">2.05</div>
<div class="big r" style="right:166px;top:150.2px">0.17</div>
<div class="big r" style="right:166px;top:231.8px">0.08</div>
<div class="sm" style="left:260.5px;top:198.8px">2.05</div>
<div class="sm" style="left:260.5px;top:205.3px">97.7</div>
<div class="sm r" style="right:165px;top:198.8px">0.17</div>
<div class="sm r" style="right:165px;top:205.3px">0.08</div>
<div class="frame" style="left:416px;top:144.5px;width:98px;height:98.5px"></div>
<div class="vl" style="left:461.5px;top:144.5px;height:98.5px"></div>
<div class="hl" style="left:416px;top:203px;width:98px"></div>
<div class="big" style="left:419.5px;top:150.2px">0.7</div>
<div class="big r" style="right:9px;top:150.2px">1.59</div>
<div class="big r" style="right:9px;top:231.8px">1.77</div>
<div class="sm" style="left:418.5px;top:199px">0.7</div>
<div class="sm" style="left:418.5px;top:205.5px">95.9</div>
<div class="sm r" style="right:8px;top:199px">1.59</div>
<div class="sm r" style="right:8px;top:205.5px">1.77</div>
<svg class="sc" width="520" height="286"><path d="M99.5 106.5h2.5M102.5 105.5v2.5M100.5 98.5h1.5M110.5 105.5v1.5M100.5 94.5h1.5M114.5 105.5v1.5M100.5 91.5h1.5M117.5 105.5v1.5M100.5 88.5h1.5M119.5 105.5v1.5M100.5 86.5h1.5M121.5 105.5v1.5M100.5 85.5h1.5M123.5 105.5v1.5M100.5 83.5h1.5M125.5 105.5v1.5M100.5 82.5h1.5M126.5 105.5v1.5M99.5 81.5h2.5M127.5 105.5v2.5M100.5 74.5h1.5M135.5 105.5v1.5M100.5 69.5h1.5M139.5 105.5v1.5M100.5 66.5h1.5M142.5 105.5v1.5M100.5 64.5h1.5M144.5 105.5v1.5M100.5 62.5h1.5M146.5 105.5v1.5M100.5 60.5h1.5M148.5 105.5v1.5M100.5 59.5h1.5M150.5 105.5v1.5M100.5 57.5h1.5M151.5 105.5v1.5M99.5 56.5h2.5M152.5 105.5v2.5M100.5 49.5h1.5M160.5 105.5v1.5M100.5 45.5h1.5M164.5 105.5v1.5M100.5 42.5h1.5M167.5 105.5v1.5M100.5 39.5h1.5M169.5 105.5v1.5M100.5 37.5h1.5M171.5 105.5v1.5M100.5 36.5h1.5M173.5 105.5v1.5M100.5 34.5h1.5M175.5 105.5v1.5M100.5 33.5h1.5M176.5 105.5v1.5M99.5 32.5h2.5M177.5 105.5v2.5M100.5 24.5h1.5M185.5 105.5v1.5M100.5 20.5h1.5M189.5 105.5v1.5M100.5 17.5h1.5M192.5 105.5v1.5M100.5 15.5h1.5M194.5 105.5v1.5M100.5 13.5h1.5M196.5 105.5v1.5M100.5 11.5h1.5M198.5 105.5v1.5M100.5 10.5h1.5M200.5 105.5v1.5M100.5 8.5h1.5M201.5 105.5v1.5M99.5 7.5h2.5M201.5 105.5v2.5M255.5 106.5h2.5M258.5 105.5v2.5M256.5 98.5h1.5M265.5 105.5v1.5M256.5 94.5h1.5M270.5 105.5v1.5M256.5 91.5h1.5M273.5 105.5v1.5M256.5 88.5h1.5M275.5 105.5v1.5M256.5 86.5h1.5M277.5 105.5v1.5M256.5 85.5h1.5M279.5 105.5v1.5M256.5 83.5h1.5M280.5 105.5v1.5M256.5 82.5h1.5M282.5 105.5v1.5M255.5 81.5h2.5M283.5 105.5v2.5M256.5 74.5h1.5M290.5 105.5v1.5M256.5 69.5h1.5M295.5 105.5v1.5M256.5 66.5h1.5M298.5 105.5v1.5M256.5 64.5h1.5M300.5 105.5v1.5M256.5 62.5h1.5M302.5 105.5v1.5M256.5 60.5h1.5M304.5 105.5v1.5M256.5 59.5h1.5M305.5 105.5v1.5M256.5 57.5h1.5M306.5 105.5v1.5M255.5 56.5h2.5M308.5 105.5v2.5M256.5 49.5h1.5M315.5 105.5v1.5M256.5 45.5h1.5M319.5 105.5v1.5M256.5 42.5h1.5M322.5 105.5v1.5M256.5 39.5h1.5M325.5 105.5v1.5M256.5 37.5h1.5M327.5 105.5v1.5M256.5 36.5h1.5M328.5 105.5v1.5M256.5 34.5h1.5M330.5 105.5v1.5M256.5 33.5h1.5M331.5 105.5v1.5M255.5 32.5h2.5M332.5 105.5v2.5M256.5 24.5h1.5M340.5 105.5v1.5M256.5 20.5h1.5M344.5 105.5v1.5M256.5 17.5h1.5M347.5 105.5v1.5M256.5 15.5h1.5M350.5 105.5v1.5M256.5 13.5h1.5M352.5 105.5v1.5M256.5 11.5h1.5M353.5 105.5v1.5M256.5 10.5h1.5M355.5 105.5v1.5M256.5 8.5h1.5M356.5 105.5v1.5M255.5 7.5h2.5M356.5 105.5v2.5M413.5 106.5h2.5M416.5 105.5v2.5M414.5 98.5h1.5M423.5 105.5v1.5M414.5 94.5h1.5M428.5 105.5v1.5M414.5 91.5h1.5M431.5 105.5v1.5M414.5 88.5h1.5M433.5 105.5v1.5M414.5 86.5h1.5M435.5 105.5v1.5M414.5 85.5h1.5M437.5 105.5v1.5M414.5 83.5h1.5M438.5 105.5v1.5M414.5 82.5h1.5M439.5 105.5v1.5M413.5 81.5h2.5M440.5 105.5v2.5M414.5 74.5h1.5M448.5 105.5v1.5M414.5 69.5h1.5M452.5 105.5v1.5M414.5 66.5h1.5M455.5 105.5v1.5M414.5 64.5h1.5M458.5 105.5v1.5M414.5 62.5h1.5M460.5 105.5v1.5M414.5 60.5h1.5M461.5 105.5v1.5M414.5 59.5h1.5M463.5 105.5v1.5M414.5 57.5h1.5M464.5 105.5v1.5M413.5 56.5h2.5M465.5 105.5v2.5M414.5 49.5h1.5M472.5 105.5v1.5M414.5 45.5h1.5M477.5 105.5v1.5M414.5 42.5h1.5M480.5 105.5v1.5M414.5 39.5h1.5M482.5 105.5v1.5M414.5 37.5h1.5M484.5 105.5v1.5M414.5 36.5h1.5M486.5 105.5v1.5M414.5 34.5h1.5M487.5 105.5v1.5M414.5 33.5h1.5M488.5 105.5v1.5M413.5 32.5h2.5M490.5 105.5v2.5M414.5 24.5h1.5M497.5 105.5v1.5M414.5 20.5h1.5M501.5 105.5v1.5M414.5 17.5h1.5M504.5 105.5v1.5M414.5 15.5h1.5M507.5 105.5v1.5M414.5 13.5h1.5M509.5 105.5v1.5M414.5 11.5h1.5M510.5 105.5v1.5M414.5 10.5h1.5M512.5 105.5v1.5M414.5 8.5h1.5M513.5 105.5v1.5M413.5 7.5h2.5M513.5 105.5v2.5M99.5 243.5h2.5M102.5 243v2.5M100.5 236.5h1.5M110.5 243v1.5M100.5 231.5h1.5M114.5 243v1.5M100.5 228.5h1.5M117.5 243v1.5M100.5 226.5h1.5M119.5 243v1.5M100.5 224.5h1.5M121.5 243v1.5M100.5 222.5h1.5M123.5 243v1.5M100.5 221.5h1.5M125.5 243v1.5M100.5 220.5h1.5M126.5 243v1.5M99.5 218.5h2.5M127.5 243v2.5M100.5 211.5h1.5M135.5 243v1.5M100.5 207.5h1.5M139.5 243v1.5M100.5 204.5h1.5M142.5 243v1.5M100.5 201.5h1.5M144.5 243v1.5M100.5 199.5h1.5M146.5 243v1.5M100.5 198.5h1.5M148.5 243v1.5M100.5 196.5h1.5M150.5 243v1.5M100.5 195.5h1.5M151.5 243v1.5M99.5 194.5h2.5M152.5 243v2.5M100.5 186.5h1.5M160.5 243v1.5M100.5 182.5h1.5M164.5 243v1.5M100.5 179.5h1.5M167.5 243v1.5M100.5 177.5h1.5M169.5 243v1.5M100.5 175.5h1.5M171.5 243v1.5M100.5 173.5h1.5M173.5 243v1.5M100.5 172.5h1.5M175.5 243v1.5M100.5 170.5h1.5M176.5 243v1.5M99.5 169.5h2.5M177.5 243v2.5M100.5 162.5h1.5M185.5 243v1.5M100.5 157.5h1.5M189.5 243v1.5M100.5 154.5h1.5M192.5 243v1.5M100.5 152.5h1.5M194.5 243v1.5M100.5 150.5h1.5M196.5 243v1.5M100.5 148.5h1.5M198.5 243v1.5M100.5 147.5h1.5M200.5 243v1.5M100.5 146.5h1.5M201.5 243v1.5M99.5 144.5h2.5M201.5 243v2.5M255.5 243.5h2.5M258.5 243v2.5M256.5 236.5h1.5M265.5 243v1.5M256.5 231.5h1.5M270.5 243v1.5M256.5 228.5h1.5M273.5 243v1.5M256.5 226.5h1.5M275.5 243v1.5M256.5 224.5h1.5M277.5 243v1.5M256.5 222.5h1.5M279.5 243v1.5M256.5 221.5h1.5M280.5 243v1.5M256.5 220.5h1.5M282.5 243v1.5M255.5 218.5h2.5M283.5 243v2.5M256.5 211.5h1.5M290.5 243v1.5M256.5 207.5h1.5M295.5 243v1.5M256.5 204.5h1.5M298.5 243v1.5M256.5 201.5h1.5M300.5 243v1.5M256.5 199.5h1.5M302.5 243v1.5M256.5 198.5h1.5M304.5 243v1.5M256.5 196.5h1.5M305.5 243v1.5M256.5 195.5h1.5M306.5 243v1.5M255.5 194.5h2.5M308.5 243v2.5M256.5 186.5h1.5M315.5 243v1.5M256.5 182.5h1.5M319.5 243v1.5M256.5 179.5h1.5M322.5 243v1.5M256.5 177.5h1.5M325.5 243v1.5M256.5 175.5h1.5M327.5 243v1.5M256.5 173.5h1.5M328.5 243v1.5M256.5 172.5h1.5M330.5 243v1.5M256.5 170.5h1.5M331.5 243v1.5M255.5 169.5h2.5M332.5 243v2.5M256.5 162.5h1.5M340.5 243v1.5M256.5 157.5h1.5M344.5 243v1.5M256.5 154.5h1.5M347.5 243v1.5M256.5 152.5h1.5M350.5 243v1.5M256.5 150.5h1.5M352.5 243v1.5M256.5 148.5h1.5M353.5 243v1.5M256.5 147.5h1.5M355.5 243v1.5M256.5 146.5h1.5M356.5 243v1.5M255.5 144.5h2.5M356.5 243v2.5M413.5 243.5h2.5M416.5 243v2.5M414.5 236.5h1.5M423.5 243v1.5M414.5 231.5h1.5M428.5 243v1.5M414.5 228.5h1.5M431.5 243v1.5M414.5 226.5h1.5M433.5 243v1.5M414.5 224.5h1.5M435.5 243v1.5M414.5 222.5h1.5M437.5 243v1.5M414.5 221.5h1.5M438.5 243v1.5M414.5 220.5h1.5M439.5 243v1.5M413.5 218.5h2.5M440.5 243v2.5M414.5 211.5h1.5M448.5 243v1.5M414.5 207.5h1.5M452.5 243v1.5M414.5 204.5h1.5M455.5 243v1.5M414.5 201.5h1.5M458.5 243v1.5M414.5 199.5h1.5M460.5 243v1.5M414.5 198.5h1.5M461.5 243v1.5M414.5 196.5h1.5M463.5 243v1.5M414.5 195.5h1.5M464.5 243v1.5M413.5 194.5h2.5M465.5 243v2.5M414.5 186.5h1.5M472.5 243v1.5M414.5 182.5h1.5M477.5 243v1.5M414.5 179.5h1.5M480.5 243v1.5M414.5 177.5h1.5M482.5 243v1.5M414.5 175.5h1.5M484.5 243v1.5M414.5 173.5h1.5M486.5 243v1.5M414.5 172.5h1.5M487.5 243v1.5M414.5 170.5h1.5M488.5 243v1.5M413.5 169.5h2.5M490.5 243v2.5M414.5 162.5h1.5M497.5 243v1.5M414.5 157.5h1.5M501.5 243v1.5M414.5 154.5h1.5M504.5 243v1.5M414.5 152.5h1.5M507.5 243v1.5M414.5 150.5h1.5M509.5 243v1.5M414.5 148.5h1.5M510.5 243v1.5M414.5 147.5h1.5M512.5 243v1.5M414.5 146.5h1.5M513.5 243v1.5M413.5 144.5h2.5M513.5 243v2.5" stroke="#777" stroke-width="1" fill="none"/><text transform="translate(97.8 112) rotate(-90)" class="tl">10<tspan dy="-2.8" font-size="4">0</tspan></text><text x="97.5" y="115" class="tl">10<tspan dy="-2.8" font-size="4">0</tspan></text><text transform="translate(97.8 87.42) rotate(-90)" class="tl">10<tspan dy="-2.8" font-size="4">1</tspan></text><text x="122.5" y="115" class="tl">10<tspan dy="-2.8" font-size="4">1</tspan></text><text transform="translate(97.8 62.85) rotate(-90)" class="tl">10<tspan dy="-2.8" font-size="4">2</tspan></text><text x="147.5" y="115" class="tl">10<tspan dy="-2.8" font-size="4">2</tspan></text><text transform="translate(97.8 38.28) rotate(-90)" class="tl">10<tspan dy="-2.8" font-size="4">3</tspan></text><text x="172.5" y="115" class="tl">10<tspan dy="-2.8" font-size="4">3</tspan></text><text transform="translate(97.8 13.7) rotate(-90)" class="tl">10<tspan dy="-2.8" font-size="4">4</tspan></text><text x="197.5" y="115" class="tl">10<tspan dy="-2.8" font-size="4">4</tspan></text><text transform="translate(253.8 112) rotate(-90)" class="tl">10<tspan dy="-2.8" font-size="4">0</tspan></text><text x="253.5" y="115" class="tl">10<tspan dy="-2.8" font-size="4">0</tspan></text><text transform="translate(253.8 87.42) rotate(-90)" class="tl">10<tspan dy="-2.8" font-size="4">1</tspan></text><text x="278.25" y="115" class="tl">10<tspan dy="-2.8" font-size="4">1</tspan></text><text transform="translate(253.8 62.85) rotate(-90)" class="tl">10<tspan dy="-2.8" font-size="4">2</tspan></text><text x="303" y="115" class="tl">10<tspan dy="-2.8" font-size="4">2</tspan></text><text transform="translate(253.8 38.28) rotate(-90)" class="tl">10<tspan dy="-2.8" font-size="4">3</tspan></text><text x="327.75" y="115" class="tl">10<tspan dy="-2.8" font-size="4">3</tspan></text><text transform="translate(253.8 13.7) rotate(-90)" class="tl">10<tspan dy="-2.8" font-size="4">4</tspan></text><text x="352.5" y="115" class="tl">10<tspan dy="-2.8" font-size="4">4</tspan></text><text transform="translate(411.8 112) rotate(-90)" class="tl">10<tspan dy="-2.8" font-size="4">0</tspan></text><text x="411.5" y="115" class="tl">10<tspan dy="-2.8" font-size="4">0</tspan></text><text transform="translate(411.8 87.42) rotate(-90)" class="tl">10<tspan dy="-2.8" font-size="4">1</tspan></text><text x="436" y="115" class="tl">10<tspan dy="-2.8" font-size="4">1</tspan></text><text transform="translate(411.8 62.85) rotate(-90)" class="tl">10<tspan dy="-2.8" font-size="4">2</tspan></text><text x="460.5" y="115" class="tl">10<tspan dy="-2.8" font-size="4">2</tspan></text><text transform="translate(411.8 38.28) rotate(-90)" class="tl">10<tspan dy="-2.8" font-size="4">3</tspan></text><text x="485" y="115" class="tl">10<tspan dy="-2.8" font-size="4">3</tspan></text><text transform="translate(411.8 13.7) rotate(-90)" class="tl">10<tspan dy="-2.8" font-size="4">4</tspan></text><text x="509.5" y="115" class="tl">10<tspan dy="-2.8" font-size="4">4</tspan></text><text transform="translate(97.8 249.5) rotate(-90)" class="tl">10<tspan dy="-2.8" font-size="4">0</tspan></text><text x="97.5" y="252.5" class="tl">10<tspan dy="-2.8" font-size="4">0</tspan></text><text transform="translate(97.8 224.88) rotate(-90)" class="tl">10<tspan dy="-2.8" font-size="4">1</tspan></text><text x="122.5" y="252.5" class="tl">10<tspan dy="-2.8" font-size="4">1</tspan></text><text transform="translate(97.8 200.25) rotate(-90)" class="tl">10<tspan dy="-2.8" font-size="4">2</tspan></text><text x="147.5" y="252.5" class="tl">10<tspan dy="-2.8" font-size="4">2</tspan></text><text transform="translate(97.8 175.62) rotate(-90)" class="tl">10<tspan dy="-2.8" font-size="4">3</tspan></text><text x="172.5" y="252.5" class="tl">10<tspan dy="-2.8" font-size="4">3</tspan></text><text transform="translate(97.8 151) rotate(-90)" class="tl">10<tspan dy="-2.8" font-size="4">4</tspan></text><text x="197.5" y="252.5" class="tl">10<tspan dy="-2.8" font-size="4">4</tspan></text><text transform="translate(253.8 249.5) rotate(-90)" class="tl">10<tspan dy="-2.8" font-size="4">0</tspan></text><text x="253.5" y="252.5" class="tl">10<tspan dy="-2.8" font-size="4">0</tspan></text><text transform="translate(253.8 224.88) rotate(-90)" class="tl">10<tspan dy="-2.8" font-size="4">1</tspan></text><text x="278.25" y="252.5" class="tl">10<tspan dy="-2.8" font-size="4">1</tspan></text><text transform="translate(253.8 200.25) rotate(-90)" class="tl">10<tspan dy="-2.8" font-size="4">2</tspan></text><text x="303" y="252.5" class="tl">10<tspan dy="-2.8" font-size="4">2</tspan></text><text transform="translate(253.8 175.62) rotate(-90)" class="tl">10<tspan dy="-2.8" font-size="4">3</tspan></text><text x="327.75" y="252.5" class="tl">10<tspan dy="-2.8" font-size="4">3</tspan></text><text transform="translate(253.8 151) rotate(-90)" class="tl">10<tspan dy="-2.8" font-size="4">4</tspan></text><text x="352.5" y="252.5" class="tl">10<tspan dy="-2.8" font-size="4">4</tspan></text><text transform="translate(411.8 249.5) rotate(-90)" class="tl">10<tspan dy="-2.8" font-size="4">0</tspan></text><text x="411.5" y="252.5" class="tl">10<tspan dy="-2.8" font-size="4">0</tspan></text><text transform="translate(411.8 224.88) rotate(-90)" class="tl">10<tspan dy="-2.8" font-size="4">1</tspan></text><text x="436" y="252.5" class="tl">10<tspan dy="-2.8" font-size="4">1</tspan></text><text transform="translate(411.8 200.25) rotate(-90)" class="tl">10<tspan dy="-2.8" font-size="4">2</tspan></text><text x="460.5" y="252.5" class="tl">10<tspan dy="-2.8" font-size="4">2</tspan></text><text transform="translate(411.8 175.62) rotate(-90)" class="tl">10<tspan dy="-2.8" font-size="4">3</tspan></text><text x="485" y="252.5" class="tl">10<tspan dy="-2.8" font-size="4">3</tspan></text><text transform="translate(411.8 151) rotate(-90)" class="tl">10<tspan dy="-2.8" font-size="4">4</tspan></text><text x="509.5" y="252.5" class="tl">10<tspan dy="-2.8" font-size="4">4</tspan></text></svg>
<div class="vax" style="left:81px;top:12px;height:252px"></div>
<svg style="position:absolute;left:76.5px;top:3px" width="11" height="11"><path d="M5.5 0L11 11H0Z" fill="#000"/></svg>
<div class="vax" style="left:238.5px;top:12px;height:252px"></div>
<svg style="position:absolute;left:234px;top:3px" width="11" height="11"><path d="M5.5 0L11 11H0Z" fill="#000"/></svg>
<div class="vax" style="left:394.5px;top:12px;height:252px"></div>
<svg style="position:absolute;left:390px;top:3px" width="11" height="11"><path d="M5.5 0L11 11H0Z" fill="#000"/></svg>
<div class="hax" style="left:81px;top:262.3px;width:115px"></div>
<svg style="position:absolute;left:195px;top:257.5px" width="11" height="11"><path d="M0 0L11 5.5L0 11Z" fill="#000"/></svg>
<div class="hax" style="left:238.5px;top:262.3px;width:113.5px"></div>
<svg style="position:absolute;left:351px;top:257.5px" width="11" height="11"><path d="M0 0L11 5.5L0 11Z" fill="#000"/></svg>
<div class="hax" style="left:394.5px;top:262.3px;width:113.5px"></div>
<svg style="position:absolute;left:507px;top:257.5px" width="11" height="11"><path d="M0 0L11 5.5L0 11Z" fill="#000"/></svg>
<div class="day" style="left:1.5px;top:35.5px">D0</div>
<div class="day" style="left:1.5px;top:173px">D1</div>
<div class="lab" style="left:135px;top:275px">CD45</div>
<div class="lab" style="left:290.5px;top:275px">VE-CAD</div>
<div class="lab" style="left:450px;top:275px">CD45</div>
<div class="lab rot" style="left:59px;top:148px">VE-CAD</div>
<div class="lab rot" style="left:219px;top:141.5px">CD34</div>
<div class="lab rot" style="left:375px;top:141.5px">CD34</div>
</body></html>
